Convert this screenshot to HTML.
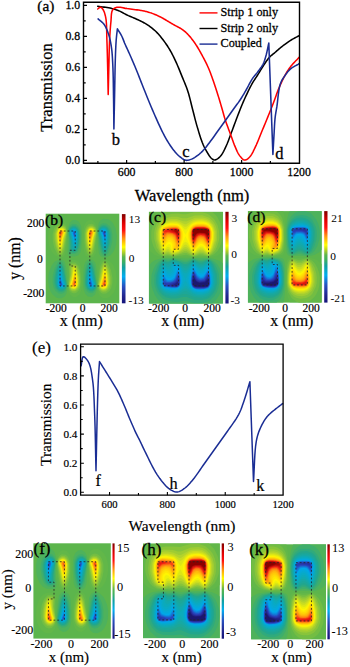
<!DOCTYPE html>
<html><head><meta charset="utf-8"><style>html,body{margin:0;padding:0;background:#fff;width:350px;height:667px;overflow:hidden}svg{display:block;font-family:"Liberation Serif",serif}</style></head><body>
<svg xmlns="http://www.w3.org/2000/svg" width="350" height="667" viewBox="0 0 350 667" font-family="Liberation Serif, serif"><style>text{stroke:#000;stroke-width:0.2px}.A text{stroke-width:0.28px}.E text{stroke-width:0.18px}.R2 text,text.R2{stroke-width:0.15px}.CB text{stroke-width:0.02px}.LB text{stroke-width:0.3px}</style>
<defs><linearGradient id="cb" x1="0" y1="1" x2="0" y2="0"><stop offset="0.00" stop-color="#14147a"/><stop offset="0.08" stop-color="#22258e"/><stop offset="0.19" stop-color="#2850c0"/><stop offset="0.30" stop-color="#00aef0"/><stop offset="0.40" stop-color="#12a0a0"/><stop offset="0.47" stop-color="#40b060"/><stop offset="0.52" stop-color="#5cb54c"/><stop offset="0.56" stop-color="#a0c830"/><stop offset="0.63" stop-color="#ffff00"/><stop offset="0.73" stop-color="#ff9010"/><stop offset="0.82" stop-color="#ff1010"/><stop offset="0.90" stop-color="#e00000"/><stop offset="1.00" stop-color="#800000"/></linearGradient></defs>
<g>
<rect x="45.70" y="213.70" width="73.60" height="89.60" fill="#5cb54c"/>
<path fill-rule="evenodd" fill="#62b749" d="M70.6 260.1 68.6 261.1 67.6 263.6 68.1 270.6 68.1 289.4 69.9 294.4 73.1 296.9 75.6 296.9 77.1 296.4 79.4 294.4 81.1 290.4 81.9 284.2 81.4 268.6 80.1 263.6 78.4 261.4 75.4 260.1ZM103.7 259.4 100.4 261.1 98.6 265.4 97.9 274.1 97.6 288.4 98.4 292.9 99.9 295.9 102.7 297.9 106.7 298.2 110.7 296.2 114.2 291.9 116.4 285.4 116.9 278.9 115.7 271.1 113.2 265.1 111.4 262.9 108.4 260.4 105.7 259.4ZM89.6 220.1 87.9 220.6 85.9 222.3 84.1 225.8 83.4 229.6 83.1 239.9 83.6 248.9 84.6 253.6 85.6 255.4 87.4 256.9 90.9 257.6 93.1 256.9 94.9 255.1 95.9 252.4 96.6 245.9 97.1 230.3 96.4 225.3 95.1 222.6 91.9 220.1ZM58.3 218.8 54.3 220.8 50.6 225.6 48.6 231.6 48.1 237.4 48.8 243.9 51.6 251.4 53.6 254.1 56.6 256.6 59.3 257.6 61.1 257.6 63.8 256.4 65.4 253.4 66.9 243.6 67.4 228.8 66.6 224.1 64.9 220.8 61.6 218.8Z"/>
<path fill-rule="evenodd" fill="#73bd43" d="M72.1 262.4 69.9 263.4 68.9 265.6 69.1 277.1 68.4 282.4 68.4 287.2 69.6 290.7 71.4 292.4 73.1 293.2 74.9 293.2 76.4 292.7 78.6 290.7 80.1 287.4 80.9 281.4 80.6 275.4 79.9 269.9 78.4 265.4 75.4 262.6ZM105.2 260.9 103.7 261.1 101.9 262.9 100.4 266.1 99.1 272.4 97.9 284.7 98.1 287.7 99.1 290.7 101.2 292.9 102.9 293.7 106.2 293.4 109.4 290.9 111.2 287.9 112.4 282.7 112.4 277.6 110.9 269.9 108.2 263.6ZM91.9 223.8 88.6 224.3 86.4 226.3 85.1 228.8 84.4 232.1 84.4 241.4 85.4 248.4 87.1 253.4 89.6 255.9 91.4 255.6 92.9 254.1 94.4 250.6 96.6 234.6 96.6 229.8 96.1 227.8 93.6 224.6ZM61.8 223.3 58.8 223.6 55.6 226.1 53.8 229.1 52.6 234.6 52.8 241.4 54.3 247.9 57.6 254.4 60.1 256.1 61.6 255.6 62.8 254.4 64.4 250.9 65.6 245.1 67.1 232.1 65.9 226.3 64.1 224.3Z"/>
<path fill-rule="evenodd" fill="#88c43b" d="M72.6 263.9 71.4 264.4 70.1 265.9 70.1 274.9 68.6 286.2 69.9 289.4 71.1 290.7 72.6 291.4 75.1 291.4 77.9 289.4 79.1 287.2 79.9 283.7 79.9 277.6 78.9 270.6 77.4 266.1 74.9 263.9ZM104.9 262.4 103.9 262.6 102.7 264.1 100.9 268.6 98.4 283.2 98.4 286.7 99.1 288.9 101.2 291.2 103.2 291.9 106.2 291.4 108.4 289.4 109.7 287.2 110.7 283.2 110.7 277.6 109.2 269.9 106.7 263.9ZM92.4 225.6 89.9 225.6 87.1 227.6 86.1 229.3 85.1 233.6 85.1 239.1 86.1 246.4 87.6 251.4 88.9 253.6 89.9 254.4 91.6 253.6 93.6 249.1 96.4 233.1 96.1 229.6 95.1 227.6ZM61.8 225.1 58.8 225.6 56.6 227.6 55.3 229.8 54.3 233.8 54.3 239.4 55.8 247.1 58.1 252.6 60.1 254.6 61.6 253.9 63.6 249.6 66.6 233.6 66.6 230.3 65.9 228.1 64.1 226.1Z"/>
<path fill-rule="evenodd" fill="#9ecc33" d="M72.9 264.9 71.1 266.6 70.9 274.6 68.9 285.2 69.4 287.4 71.1 289.7 72.6 290.4 74.9 290.4 76.4 289.7 78.4 286.9 79.1 283.9 79.1 277.6 77.1 267.6 75.6 265.4ZM104.9 263.9 103.9 264.1 103.2 265.1 101.7 269.1 98.6 284.2 99.4 288.2 100.6 289.7 102.7 290.7 105.7 290.4 107.9 288.4 109.7 283.2 109.7 278.4 108.7 272.1 106.7 265.9ZM92.4 226.6 90.1 226.6 88.6 227.3 86.6 230.1 85.9 233.1 85.9 239.4 86.9 245.9 88.6 251.4 89.9 252.9 91.4 252.1 92.9 248.6 95.9 233.8 95.6 229.6 93.9 227.3ZM62.3 226.3 59.3 226.6 57.1 228.6 55.3 233.8 55.3 238.6 56.3 244.9 57.8 249.9 60.1 253.1 61.6 252.1 63.3 247.6 66.4 232.6 65.9 229.3 64.4 227.3Z"/>
<path fill-rule="evenodd" fill="#b3d32c" d="M73.6 265.6 72.4 266.4 71.9 267.9 71.6 273.6 69.4 283.9 69.4 286.2 69.9 287.4 71.6 289.2 74.9 289.7 77.1 287.9 78.1 285.9 78.6 278.6 76.9 268.9 75.6 266.4ZM105.2 265.4 103.7 266.1 102.2 269.9 100.4 279.6 99.1 283.7 99.4 287.2 101.2 289.2 102.7 289.9 105.4 289.7 107.4 287.9 108.9 283.4 108.9 278.4 108.2 273.4 106.7 267.9ZM92.4 227.3 89.6 227.6 87.9 229.1 86.4 233.6 86.9 242.4 87.9 247.1 89.9 251.4 91.1 250.9 92.6 247.1 94.4 237.1 95.6 233.1 95.1 229.6ZM62.3 227.1 59.6 227.3 57.8 228.8 56.1 233.6 56.1 238.6 58.1 248.4 59.8 251.6 61.3 250.9 62.6 247.9 64.4 238.4 65.9 233.3 65.6 229.8 63.8 227.8Z"/>
<path fill-rule="evenodd" fill="#c8dc22" d="M104.9 266.6 103.9 267.1 102.9 269.4 100.9 279.6 99.4 284.2 99.9 287.2 101.4 288.7 103.4 289.4 104.9 289.2 106.9 287.7 108.4 282.9 107.4 272.9 106.4 269.1ZM73.6 266.6 72.9 267.6 71.6 277.1 69.6 285.7 71.4 288.4 74.4 289.2 75.6 288.7 77.6 285.9 78.1 283.9 78.1 278.6 76.1 268.6 74.6 266.6ZM91.9 227.8 89.9 228.1 88.1 229.6 86.9 233.3 87.4 242.1 88.6 247.6 89.9 249.9 90.9 249.6 92.1 246.6 93.9 237.1 95.4 232.3 94.6 229.6ZM61.6 227.6 60.1 227.8 58.1 229.3 56.6 234.1 57.6 244.1 58.8 248.4 60.3 250.4 61.3 249.4 62.3 246.6 63.8 238.4 65.6 232.8 65.1 229.8 63.6 228.3Z"/>
<path fill-rule="evenodd" fill="#dce616" d="M104.9 268.1 103.9 268.6 103.2 270.4 101.4 279.4 99.6 284.9 100.4 287.2 101.4 288.2 103.7 288.9 105.4 288.4 106.7 287.2 107.9 283.4 107.4 275.4 106.2 270.1ZM74.9 267.9 74.1 267.9 73.4 269.1 71.6 279.4 70.1 283.9 70.4 286.7 73.1 288.7 75.1 288.4 76.4 287.4 77.4 285.4 77.9 281.9 76.9 273.1ZM91.9 228.3 89.1 229.1 87.4 232.6 87.9 242.4 89.1 247.1 90.1 248.6 90.9 248.1 91.9 245.6 93.4 237.4 94.9 233.1 94.6 230.3ZM62.6 228.3 59.6 228.6 58.3 229.8 57.1 233.6 57.6 241.6 59.1 247.4 60.1 248.9 60.8 248.6 62.1 245.6 63.3 238.6 65.4 232.1 64.6 229.8Z"/>
<path fill-rule="evenodd" fill="#eff00a" d="M104.9 269.4 103.9 270.1 103.2 272.1 101.9 278.9 100.1 284.2 100.6 286.9 103.2 288.4 105.4 287.9 106.4 286.9 107.4 284.2 106.9 275.1 105.9 271.1ZM74.6 269.1 73.6 270.6 71.9 280.1 70.4 284.4 70.6 286.4 72.9 288.2 74.6 288.2 75.9 287.4 77.4 283.9 76.9 275.4 75.6 270.4ZM92.1 228.8 90.4 228.8 89.1 229.6 87.6 233.1 88.1 241.4 89.1 245.6 90.1 247.1 91.4 245.6 92.9 237.9 94.6 232.6 94.4 230.6ZM61.8 228.6 59.6 229.1 58.6 230.1 57.6 232.8 58.1 241.9 59.1 245.9 60.3 247.6 61.6 245.6 63.3 236.9 64.9 232.8 64.4 230.1Z"/>
<path fill-rule="evenodd" fill="#fff501" d="M74.9 270.9 74.4 270.9 73.6 272.6 72.4 279.6 70.6 284.9 71.1 286.4 73.6 287.9 75.9 286.9 77.1 283.4 76.6 276.1ZM104.7 270.6 103.4 272.9 101.7 281.4 100.4 284.4 100.9 286.7 102.9 287.9 105.2 287.7 106.2 286.7 107.2 283.9 106.7 275.9 105.9 272.6ZM91.4 229.1 89.1 230.1 87.9 233.6 88.1 239.1 89.9 245.6 90.6 245.6 91.1 244.6 92.9 236.4 94.1 233.1 93.9 230.6ZM62.1 229.1 59.8 229.3 58.8 230.3 57.8 233.1 58.3 241.1 60.1 246.1 61.1 245.4 63.1 236.4 64.6 232.6 64.1 230.3Z"/>
<path fill-rule="evenodd" fill="#ffe603" d="M74.9 272.4 74.1 272.9 72.4 280.9 71.1 284.2 71.4 286.2 73.1 287.4 74.6 287.4 75.9 286.4 76.9 283.2 76.4 276.9ZM104.9 272.1 103.9 272.9 102.2 280.9 100.9 283.9 101.2 286.4 103.2 287.7 104.9 287.4 106.2 286.2 106.9 283.7 106.4 276.6ZM91.9 229.6 90.4 229.6 89.1 230.6 88.1 233.8 88.6 240.1 90.1 244.4 91.4 242.4 92.4 236.9 93.9 232.8 93.6 230.8ZM61.8 229.3 60.1 229.6 58.8 230.8 58.1 233.6 58.6 240.4 60.1 244.9 61.3 243.4 62.8 236.1 64.1 233.1 63.8 230.6Z"/>
<path fill-rule="evenodd" fill="#ffd806" d="M74.9 273.9 73.9 275.1 72.9 280.4 71.4 284.7 71.6 285.9 73.4 287.2 74.4 287.2 75.9 285.9 76.6 283.2 76.1 277.4ZM104.9 273.4 103.9 274.4 101.2 284.4 101.4 286.2 102.7 287.2 105.2 286.9 106.7 283.4 106.4 278.4ZM91.6 229.8 90.6 229.8 89.1 231.1 88.4 233.8 88.6 238.1 89.9 242.9 90.9 242.4 93.6 232.3 93.4 231.1ZM62.3 229.8 59.8 230.1 58.3 233.6 58.8 239.9 60.3 243.6 61.3 241.9 62.3 236.6 63.8 232.6 63.6 230.8Z"/>
<path fill-rule="evenodd" fill="#ffc908" d="M74.9 275.1 74.1 275.9 71.9 283.9 71.9 285.7 73.9 286.9 75.6 285.9 76.4 283.2 76.1 279.1ZM104.7 274.6 103.4 277.4 101.4 284.9 101.7 285.9 102.9 286.9 104.9 286.7 105.9 285.4 106.4 283.4 106.2 278.9 105.4 275.6ZM91.1 230.1 89.4 231.1 88.6 233.8 88.9 237.9 90.1 241.6 90.9 240.9 93.1 233.1 93.1 231.3ZM62.1 230.1 60.1 230.3 59.1 231.6 58.6 233.6 58.8 238.1 59.6 241.4 60.3 242.4 63.6 232.1 63.1 230.8Z"/>
<path fill-rule="evenodd" fill="#ffb90b" d="M74.9 276.6 74.1 277.4 72.1 284.4 73.1 286.4 74.6 286.4 75.6 285.4 76.1 283.4 75.9 279.6ZM104.9 276.1 104.4 276.1 101.9 284.2 101.9 285.4 103.2 286.7 105.2 286.2 106.2 283.4 105.9 279.1ZM91.9 230.6 90.4 230.6 89.1 232.3 89.1 237.4 90.1 240.4 90.9 239.6 92.9 232.6ZM61.6 230.3 59.8 230.8 58.8 233.6 59.1 237.6 60.1 240.9 60.6 240.9 63.1 232.8 62.8 231.1Z"/>
<path fill-rule="evenodd" fill="#ffa30e" d="M74.9 277.9 74.1 278.9 72.6 283.9 72.6 285.4 73.4 286.2 75.1 285.7 75.9 283.4 75.6 279.9ZM104.9 277.4 104.4 277.4 102.2 284.4 102.4 285.7 103.7 286.4 105.4 285.4 105.9 283.7 105.7 279.6ZM91.4 230.8 89.9 231.3 89.1 233.6 89.4 236.9 90.1 238.9 90.9 238.1 92.4 233.1 92.4 231.6ZM61.3 230.6 59.6 231.6 59.1 233.3 59.3 237.4 60.1 239.6 60.8 239.1 62.8 232.3 62.6 231.3Z"/>
<path fill-rule="evenodd" fill="#ff8d12" d="M74.9 279.4 74.1 280.1 72.9 284.4 73.4 285.7 74.6 285.7 75.4 284.7 75.6 282.2ZM104.7 278.6 102.7 283.9 102.7 285.2 103.4 285.9 104.9 285.7 105.7 283.7 105.4 280.1ZM91.6 231.3 90.4 231.3 89.6 232.3 89.4 234.6 90.1 237.6 90.9 236.9 92.1 232.6ZM61.6 231.1 60.1 231.3 59.3 233.3 59.6 236.9 60.3 238.4 62.3 233.1 62.3 231.8Z"/>
<path fill-rule="evenodd" fill="#fd7114" d="M74.9 280.9 74.4 280.9 73.4 283.9 73.9 285.4 75.1 284.4ZM104.7 279.9 103.2 283.4 103.2 285.2 103.7 285.7 104.9 285.2 105.4 283.7ZM91.1 231.6 89.9 232.6 90.1 236.1 91.6 233.1ZM61.3 231.3 60.1 231.8 59.6 233.3 60.3 237.1 61.8 233.6 61.8 231.8Z"/>
<path fill-rule="evenodd" fill="#f64814" d="M74.6 282.4 73.9 283.7 74.1 284.7 74.9 283.9ZM104.7 281.4 103.4 284.2 103.9 285.2 104.9 284.4ZM90.9 232.3 90.1 233.1 90.4 234.6 91.1 233.1ZM61.1 231.8 60.1 232.6 60.3 235.6 61.6 232.8Z"/>
<path fill-rule="evenodd" fill="#f02014" d="M104.4 283.2 104.4 283.4 104.2 283.7 104.2 283.9 104.2 284.2 104.4 283.9 104.4 283.7 104.4 283.4ZM60.8 232.8 60.6 233.1 60.6 233.3 60.6 233.6 60.8 233.3 60.8 233.1Z"/>
<path fill-rule="evenodd" fill="#4eb25c" d="M89.6 259.4 87.4 260.1 85.6 261.6 84.1 265.1 83.4 271.4 83.1 283.7 83.6 289.2 85.4 293.9 87.9 296.4 91.9 296.9 95.1 294.4 96.9 289.4 96.6 271.1 95.9 264.6 95.1 262.4 93.1 260.1ZM59.3 259.4 54.8 261.6 51.6 265.6 48.8 273.1 48.1 280.4 49.1 287.4 50.6 291.4 52.6 294.4 56.3 297.4 58.3 298.2 61.6 298.2 64.9 296.2 66.6 292.9 67.4 288.2 67.1 276.1 66.4 269.1 64.9 262.1 63.1 260.1ZM75.6 220.1 73.1 220.1 71.6 220.8 69.9 222.6 68.1 227.6 67.6 253.1 68.4 255.4 70.6 256.6 74.4 256.6 78.1 255.4 80.4 252.4 81.4 248.1 81.9 232.8 81.1 226.6 79.4 222.6 77.9 221.1ZM103.4 218.8 101.2 219.8 99.9 221.1 98.6 223.3 97.9 226.3 97.6 236.1 98.1 247.4 99.1 253.6 100.4 255.9 102.2 257.1 105.7 257.6 110.2 255.4 113.2 251.9 114.7 248.9 116.2 243.9 116.9 236.1 115.7 228.6 112.7 222.8 110.7 220.8 108.2 219.3Z"/>
<path fill-rule="evenodd" fill="#3fae6c" d="M89.6 261.1 87.1 263.6 85.4 268.6 84.4 275.6 84.4 284.9 85.1 288.2 86.4 290.7 88.6 292.7 91.9 293.2 93.6 292.4 96.1 289.2 96.6 287.2 96.6 282.4 94.4 266.4 92.9 262.9 91.4 261.4ZM60.1 260.9 57.6 262.6 54.6 268.4 52.8 275.6 52.6 282.4 53.8 287.9 55.6 290.9 58.8 293.4 61.8 293.7 64.1 292.7 65.9 290.7 67.1 284.9 64.6 266.9 62.8 262.6 61.6 261.4ZM73.1 223.8 71.4 224.6 69.6 226.3 68.4 229.8 69.1 240.1 68.9 251.6 69.6 253.1 70.9 253.9 74.9 254.1 77.6 252.4 79.4 248.9 80.4 243.9 80.9 235.6 80.4 230.6 79.1 227.1 76.4 224.3ZM102.9 223.3 100.9 224.3 99.1 226.3 98.1 229.3 97.9 232.3 99.1 244.6 100.4 250.9 101.9 254.1 103.7 255.9 105.2 256.1 108.2 253.4 110.4 248.6 112.2 241.4 112.4 234.3 111.2 229.1 109.4 226.1 106.2 223.6Z"/>
<path fill-rule="evenodd" fill="#30aa7c" d="M89.9 262.6 88.9 263.4 87.6 265.6 86.1 270.6 85.1 277.9 85.1 283.4 85.6 286.2 87.1 289.4 89.9 291.4 92.4 291.4 95.1 289.4 96.1 287.4 96.4 283.9 93.6 267.9 91.6 263.4ZM60.1 262.4 58.1 264.4 55.8 269.9 54.3 277.6 54.3 283.2 55.3 287.2 56.6 289.4 58.8 291.4 61.8 291.9 64.1 290.9 65.9 288.9 66.6 286.7 66.6 283.4 63.8 268.1 61.3 262.9ZM72.6 225.6 69.9 227.6 68.9 229.6 68.6 233.3 70.1 242.6 69.9 250.6 71.1 252.1 74.1 252.9 77.1 250.9 78.6 247.4 79.9 239.4 79.9 233.3 79.1 229.8 77.9 227.6 75.1 225.6ZM103.2 225.1 101.2 225.8 99.1 228.1 98.4 230.3 98.4 233.8 100.9 248.4 102.7 252.9 103.9 254.4 104.9 254.6 106.7 253.1 109.2 247.1 110.7 239.4 110.7 233.8 109.7 229.8 108.4 227.6 106.2 225.6Z"/>
<path fill-rule="evenodd" fill="#22a68c" d="M89.9 264.1 88.6 265.6 86.9 271.1 85.9 277.6 85.9 283.9 87.6 288.7 90.1 290.4 92.4 290.4 93.9 289.7 95.6 287.4 95.9 283.2 92.9 268.4 91.4 264.9ZM60.1 263.9 57.8 267.1 56.3 272.1 55.3 278.4 55.3 283.2 57.1 288.4 59.3 290.4 62.3 290.7 64.4 289.7 65.9 287.7 66.4 284.4 62.8 267.6 61.6 264.9ZM72.6 226.6 70.1 228.3 68.9 231.8 70.9 242.6 70.9 250.1 72.1 251.4 73.9 251.9 76.4 250.4 77.9 246.9 79.1 239.4 79.1 233.1 77.4 228.3 74.9 226.6ZM102.7 226.3 100.6 227.3 99.4 228.8 98.6 232.8 101.7 247.9 103.2 251.9 104.9 253.1 106.7 251.1 108.7 244.9 109.7 238.6 109.7 233.8 107.9 228.6 105.7 226.6Z"/>
<path fill-rule="evenodd" fill="#1ca798" d="M89.9 265.6 88.6 267.6 86.9 274.6 86.4 283.4 87.9 287.9 89.6 289.4 92.4 289.7 95.1 287.4 95.6 283.9 94.4 279.9 92.6 269.9 91.1 266.1ZM59.8 265.4 58.1 268.6 56.1 278.4 56.1 283.4 57.8 288.2 59.6 289.7 62.3 289.9 63.8 289.2 65.6 287.2 65.9 283.7 62.6 269.1 61.3 266.1ZM72.6 227.3 69.9 229.6 69.4 233.1 71.4 241.6 71.6 249.1 72.6 250.6 74.6 250.9 76.4 249.1 77.6 245.1 78.6 238.4 78.6 233.3 77.1 229.1 74.9 227.3ZM102.7 227.1 101.2 227.8 99.4 229.8 99.1 233.3 100.4 237.4 102.2 247.1 103.7 250.9 105.2 251.6 106.7 249.1 108.2 243.6 108.9 238.6 108.9 233.6 107.4 229.1 105.4 227.3Z"/>
<path fill-rule="evenodd" fill="#17a8a3" d="M89.9 267.1 88.1 271.1 87.4 274.9 86.9 283.7 88.1 287.4 89.9 288.9 91.9 289.2 94.6 287.4 95.4 284.7 93.9 279.9 92.1 270.4 90.9 267.4ZM60.3 266.6 58.6 269.1 57.6 272.9 56.6 282.9 58.1 287.7 59.1 288.7 61.6 289.4 63.6 288.7 65.1 287.2 65.6 284.2 64.1 279.6 62.3 270.4 61.3 267.6ZM73.1 227.8 70.4 229.6 69.6 232.6 71.6 239.9 72.6 249.1 73.6 250.1 74.4 250.1 75.6 249.1 77.1 244.9 78.1 238.4 78.1 233.1 76.9 229.6 75.1 228.1ZM103.4 227.6 101.4 228.3 99.9 229.8 99.4 232.8 100.9 237.4 102.9 247.6 103.9 249.9 104.9 250.4 105.9 249.1 107.4 244.1 108.4 234.1 106.9 229.3 105.9 228.3Z"/>
<path fill-rule="evenodd" fill="#11a9af" d="M90.1 268.4 89.1 269.9 87.9 274.6 87.4 284.4 89.1 287.9 91.9 288.7 94.6 286.7 94.9 283.9 93.4 279.6 91.9 271.4 90.9 268.9ZM60.1 268.1 59.1 269.6 57.6 275.4 57.1 283.4 57.6 285.7 59.6 288.4 62.6 288.7 64.6 287.2 65.4 284.9 63.6 279.4 62.1 271.4 60.8 268.4ZM73.1 228.3 70.4 230.3 70.1 233.1 71.6 237.6 73.1 247.6 73.6 248.9 74.6 249.1 75.9 247.4 76.9 243.9 77.9 235.1 77.4 231.6 76.4 229.6 75.1 228.6ZM103.7 228.1 101.4 228.8 99.9 230.6 99.6 232.1 101.4 237.6 103.2 246.6 103.9 248.4 104.9 248.9 106.2 246.9 107.4 241.6 107.9 233.6 106.7 229.8 105.4 228.6Z"/>
<path fill-rule="evenodd" fill="#0caaba" d="M90.1 269.9 89.1 271.4 88.1 275.6 87.6 283.9 89.1 287.4 90.4 288.2 92.1 288.2 94.4 286.4 94.6 284.4 93.4 281.2 91.4 271.4ZM60.3 269.4 59.1 271.1 58.1 275.1 57.6 284.2 58.6 286.9 60.1 288.2 61.8 288.4 64.4 286.9 64.9 284.2 63.3 280.1 61.6 271.4ZM72.9 228.8 70.6 230.6 70.4 232.6 71.9 236.9 73.6 246.6 74.6 247.9 75.6 246.6 76.9 241.6 77.4 233.1 75.9 229.6 74.6 228.8ZM103.2 228.6 100.6 230.1 100.1 232.8 101.4 236.1 103.2 244.9 103.9 246.9 104.9 247.6 105.9 245.9 106.9 241.9 107.4 232.8 106.4 230.1 104.9 228.8Z"/>
<path fill-rule="evenodd" fill="#09aac4" d="M89.9 271.4 88.4 276.4 87.9 283.4 89.1 286.9 91.4 287.9 93.9 286.4 94.1 283.9 92.9 280.6 91.1 272.4 90.6 271.4ZM60.1 270.9 58.3 275.9 57.8 283.9 58.8 286.7 59.8 287.7 62.1 287.9 64.1 286.7 64.6 284.4 63.1 280.6 61.3 272.1 60.8 271.1ZM102.9 229.1 100.9 230.3 100.4 232.6 101.7 235.6 103.4 244.1 104.7 246.4 105.9 244.4 106.7 241.1 107.2 233.1 106.2 230.3 105.2 229.3ZM73.6 229.1 72.1 229.6 70.6 232.1 72.1 236.4 73.6 244.6 74.6 246.4 75.4 245.6 76.6 240.9 77.1 233.6 75.9 230.1Z"/>
<path fill-rule="evenodd" fill="#07a9ce" d="M90.1 272.6 88.6 276.9 88.1 283.2 89.1 286.4 90.4 287.4 91.9 287.4 93.6 286.2 93.9 284.2 92.4 280.1 91.4 274.6ZM60.1 272.1 58.6 276.6 58.1 283.4 58.8 286.2 60.1 287.4 61.8 287.7 63.8 286.4 64.1 283.9 62.8 280.9 61.3 273.6 60.6 272.1ZM73.1 229.6 71.4 230.8 71.1 232.8 72.4 236.1 73.9 243.6 74.4 244.6 74.9 244.6 76.4 240.1 76.9 233.8 75.9 230.6 74.6 229.6ZM103.2 229.3 101.2 230.6 100.9 233.1 102.2 236.1 103.9 244.1 104.9 244.9 106.4 240.4 106.9 233.3 106.2 230.8 104.9 229.6Z"/>
<path fill-rule="evenodd" fill="#05a9d7" d="M89.9 274.1 88.9 277.4 88.4 283.2 89.1 285.9 90.1 286.9 91.6 287.2 93.4 285.9 93.6 284.7 90.9 274.6ZM60.3 273.4 59.1 275.9 58.3 283.4 59.8 286.9 62.3 287.2 63.6 286.2 63.8 284.4 62.3 280.4 61.3 275.1ZM102.7 229.8 101.4 230.8 101.2 232.6 103.9 242.6 104.9 243.6 106.2 239.9 106.7 233.6 105.2 230.1ZM73.4 229.8 71.6 231.1 71.4 232.3 74.1 242.6 75.1 243.1 76.4 238.1 76.6 233.8 75.9 231.1 74.9 230.1Z"/>
<path fill-rule="evenodd" fill="#02a8e1" d="M90.1 275.4 89.1 277.9 88.6 283.2 89.4 285.9 91.1 286.9 93.1 285.7 93.1 283.9 90.9 276.1ZM60.3 274.6 59.3 276.4 58.6 283.4 59.3 285.9 60.6 286.9 62.1 286.9 63.1 286.2 63.6 284.9ZM102.9 230.1 101.7 231.1 101.4 232.1 104.7 242.4 105.7 240.6 106.4 233.6 105.7 231.1 104.4 230.1ZM73.9 230.1 71.9 231.3 71.9 233.1 74.1 241.1 74.9 241.9 76.1 237.9 76.4 233.8 75.6 231.1Z"/>
<path fill-rule="evenodd" fill="#00a8ea" d="M90.1 276.6 89.1 279.6 89.1 284.7 90.4 286.4 91.9 286.4 92.9 284.4 90.9 277.4ZM60.1 276.1 59.1 279.4 58.8 283.4 59.8 286.2 61.6 286.7 62.8 285.9 63.1 284.2 60.6 276.1ZM73.1 230.6 72.1 232.6 74.1 239.6 74.9 240.4 75.9 237.4 76.1 233.6 75.6 231.6 74.6 230.6ZM103.2 230.3 102.2 231.1 101.9 232.8 104.4 240.9 104.9 240.9 105.9 237.9 106.2 233.6 105.2 230.8Z"/>
<path fill-rule="evenodd" fill="#0993e3" d="M90.1 278.1 89.4 280.1 89.1 283.4 89.9 285.7 91.4 286.2 92.4 285.4 92.4 283.9 90.9 278.9ZM60.1 277.4 59.3 279.6 59.1 283.7 59.6 285.4 61.3 286.4 62.6 285.7 62.8 284.7 60.8 277.9ZM73.4 230.8 72.6 231.6 72.6 233.1 74.1 238.1 74.9 239.1 75.6 237.1 75.9 233.6 75.1 231.3ZM103.7 230.6 102.4 231.3 102.2 232.6 104.4 239.6 104.9 239.6 105.7 237.4 105.9 233.3 105.4 231.6Z"/>
<path fill-rule="evenodd" fill="#137ad7" d="M90.1 279.4 89.4 282.4 89.6 284.7 90.4 285.7 91.6 285.7 92.1 284.4 90.9 280.1ZM60.3 278.6 59.6 280.1 59.3 283.7 60.1 285.7 61.6 285.9 62.3 285.2 62.3 283.9ZM73.4 231.3 72.9 232.6 74.1 236.9 74.9 237.6 75.6 234.8 75.4 232.3 74.6 231.3ZM103.4 231.1 102.7 231.8 102.7 233.1 104.7 238.4 105.4 236.9 105.7 233.3 104.9 231.3Z"/>
<path fill-rule="evenodd" fill="#1e60cb" d="M90.1 280.9 89.9 284.4 91.1 285.4 91.6 283.9ZM60.3 279.9 59.6 283.7 60.1 285.2 61.3 285.7 61.8 285.2 61.8 283.4ZM73.9 231.6 73.4 233.1 74.1 235.6 74.9 236.1 75.1 232.6ZM103.7 231.3 103.2 231.8 103.2 233.6 104.7 237.1 105.4 233.3 104.9 231.8Z"/>
<path fill-rule="evenodd" fill="#2847bf" d="M90.4 282.4 90.1 283.9 90.9 284.7 91.1 283.9ZM60.3 281.4 60.1 284.4 61.1 285.2 61.6 284.2ZM74.1 232.3 73.9 233.3 74.6 234.6 74.9 233.1ZM103.9 231.8 103.4 232.8 104.7 235.6 104.9 232.6Z"/>
<path fill-rule="evenodd" fill="#283cb0" d="M60.6 283.4 60.6 283.7 60.6 283.9 60.8 284.2 60.8 283.9 60.8 283.7ZM104.2 232.8 104.2 233.1 104.2 233.3 104.4 233.6 104.4 233.8 104.4 233.6 104.4 233.3 104.4 233.1Z"/>
<path d="M60.00 231.02 L75.22 231.02 L75.22 250.28 L69.92 250.28 L69.92 266.02 L75.22 266.02 L75.22 285.98 L60.00 285.98 Z M89.78 231.02 L105.00 231.02 L105.00 285.98 L89.78 285.98 Z" fill="none" stroke="#262626" stroke-width="0.85" stroke-dasharray="1.8 2"/>
<rect x="121.90" y="214.10" width="3.60" height="89.20" fill="url(#cb)"/>
</g>
<g>
<rect x="148.90" y="211.80" width="74.00" height="91.70" fill="#5cb54c"/>
<path fill-rule="evenodd" fill="#62b749" d="M149.0 211.9 149.0 250.2 153.8 254.4 157.8 256.2 162.5 257.2 175.8 257.2 180.3 256.7 210.3 257.2 217.5 255.4 222.8 251.9 222.8 211.9Z"/>
<path fill-rule="evenodd" fill="#73bd43" d="M153.5 222.7 151.3 231.2 151.3 238.4 151.8 241.4 153.5 246.7 156.0 251.2 159.0 254.2 162.5 256.2 167.8 255.7 173.0 256.7 186.0 254.7 193.3 256.7 200.0 255.4 209.5 256.4 214.0 254.2 217.5 250.9 219.8 246.9 221.8 241.4 222.5 233.4 221.0 224.4 217.5 217.2 215.5 214.7 212.3 211.9 162.5 211.9 157.3 216.7Z"/>
<path fill-rule="evenodd" fill="#88c43b" d="M214.3 219.2 209.3 214.7 206.8 213.4 202.0 212.2 194.5 212.2 186.0 214.2 182.3 214.2 178.3 213.4 171.8 213.7 165.8 215.2 162.5 216.9 158.5 220.9 156.3 224.7 155.0 228.2 154.3 232.2 154.3 238.7 156.5 247.2 160.0 252.9 163.5 255.4 166.3 254.7 169.0 254.7 172.3 255.9 173.8 255.9 184.3 252.9 186.5 252.9 192.8 255.9 194.5 255.9 199.3 254.2 202.8 254.2 207.5 255.9 209.3 255.7 212.3 253.7 215.3 250.2 217.0 246.7 218.8 241.2 219.3 237.4 219.0 230.7 217.5 224.9Z"/>
<path fill-rule="evenodd" fill="#9ecc33" d="M214.5 223.4 212.5 220.7 208.8 217.4 202.0 215.2 194.8 215.4 186.8 218.2 182.8 218.2 177.0 216.7 171.8 216.7 166.3 217.9 162.5 219.9 159.5 223.2 157.5 226.7 156.5 229.9 156.0 233.4 156.3 239.7 158.8 248.4 161.3 252.7 163.3 254.4 168.0 253.2 171.5 254.9 173.8 255.2 179.0 253.7 184.3 251.2 186.5 251.2 192.8 255.2 195.3 254.9 200.0 252.7 203.0 252.9 207.5 255.2 208.8 255.2 211.3 253.2 213.5 250.2 215.3 246.4 217.0 240.2 217.0 230.7 216.0 226.7Z"/>
<path fill-rule="evenodd" fill="#b3d32c" d="M213.5 224.7 209.3 219.9 206.5 218.4 202.8 217.4 195.0 217.7 186.3 221.4 183.0 221.2 176.8 218.9 170.5 218.9 165.8 220.2 163.0 221.7 160.3 224.7 157.8 230.4 157.3 234.2 157.5 239.2 160.0 248.4 162.0 252.2 163.5 253.4 167.0 251.9 168.5 251.9 172.3 254.4 174.0 254.4 178.5 252.9 184.0 249.4 186.3 249.2 188.8 250.7 193.0 254.4 194.5 254.4 199.8 251.4 203.3 251.7 207.0 254.2 208.5 254.4 209.8 253.7 212.3 250.2 215.5 240.9 216.0 236.9 215.8 231.4Z"/>
<path fill-rule="evenodd" fill="#c8dc22" d="M213.5 227.2 211.8 224.2 209.0 221.4 206.3 219.9 202.0 218.9 195.0 219.4 191.0 221.2 186.3 224.2 184.5 224.2 179.3 221.4 174.8 220.4 169.5 220.7 166.0 221.7 163.3 223.2 161.3 225.2 159.3 228.7 158.5 231.7 158.3 235.9 158.8 240.7 161.0 248.7 163.3 252.2 164.5 252.2 167.3 250.4 168.3 250.4 172.0 253.4 174.0 253.7 179.0 251.9 184.0 247.4 186.0 246.9 187.8 247.9 193.0 253.7 194.5 253.7 197.5 251.2 200.3 249.9 203.3 250.4 208.3 253.7 210.3 251.9 212.3 248.2 214.5 240.7 214.8 231.9Z"/>
<path fill-rule="evenodd" fill="#dce616" d="M212.8 227.7 210.8 224.4 208.3 222.2 204.5 220.7 201.3 220.2 197.0 220.4 192.8 221.7 186.3 226.7 184.5 226.7 179.3 222.9 176.3 221.9 172.0 221.7 166.0 222.9 163.3 224.4 161.5 226.2 160.0 228.9 159.3 231.9 159.5 240.2 161.8 248.7 163.5 251.2 165.0 250.7 166.5 249.2 168.5 248.7 171.8 252.4 174.0 252.9 179.0 251.2 184.3 244.9 186.0 244.4 188.5 246.7 193.0 252.9 194.8 252.7 197.3 250.2 200.3 248.4 202.5 248.7 207.0 252.4 208.8 252.7 211.8 247.4 213.8 239.9 214.0 232.7Z"/>
<path fill-rule="evenodd" fill="#eff00a" d="M212.0 227.7 208.5 223.4 206.0 222.2 202.8 221.4 197.8 221.4 193.8 222.4 191.0 224.2 186.0 229.4 184.8 229.4 181.0 225.4 177.8 223.4 170.3 222.9 165.5 224.2 161.8 226.9 160.0 231.4 160.0 238.9 162.8 249.2 164.0 249.9 167.3 246.9 169.0 246.7 172.8 252.2 178.3 250.9 180.0 249.4 183.8 242.7 185.8 241.7 187.8 243.2 191.5 250.2 193.3 252.2 194.3 252.2 197.8 248.4 200.3 246.9 203.0 247.4 207.3 251.7 208.5 251.9 210.5 248.9 213.0 240.2 213.3 232.2Z"/>
<path fill-rule="evenodd" fill="#fff501" d="M211.8 228.7 210.0 225.7 206.3 223.2 203.3 222.4 196.0 222.7 192.8 223.9 190.3 226.2 185.5 234.7 181.8 227.7 178.5 224.7 176.0 223.9 172.0 223.7 165.8 224.9 162.3 227.2 160.5 231.4 160.5 238.2 162.8 247.7 164.3 248.4 167.8 244.4 169.8 244.2 171.0 245.7 171.5 249.2 172.5 251.2 174.0 251.4 178.0 250.4 180.0 248.4 185.5 236.2 193.0 251.2 194.5 251.2 196.8 248.2 200.3 245.4 203.0 245.9 206.3 249.7 208.3 251.2 210.5 247.4 212.5 239.2 212.8 233.2Z"/>
<path fill-rule="evenodd" fill="#ffe603" d="M167.3 225.2 163.3 226.9 161.3 230.2 160.8 233.9 161.0 238.2 162.8 245.9 163.8 247.2 167.8 242.2 169.8 241.7 171.0 242.2 172.3 243.9 172.3 249.2 172.8 250.2 174.3 250.7 177.8 249.9 179.3 248.7 180.3 246.7 182.8 238.9 183.0 232.9 182.0 229.7 179.8 226.4 177.0 224.9 172.5 224.4ZM193.0 224.7 191.0 226.4 189.5 228.7 188.0 233.7 188.0 236.9 188.8 240.4 192.5 249.7 193.3 250.4 194.3 250.4 198.8 244.7 200.0 243.9 202.0 243.9 203.0 244.4 205.0 246.4 206.5 248.9 208.3 250.2 210.0 247.4 212.0 238.9 212.3 233.2 210.8 227.7 208.3 224.9 204.5 223.4 197.8 223.2Z"/>
<path fill-rule="evenodd" fill="#ffd806" d="M163.8 227.2 161.8 229.9 161.3 232.4 161.8 240.2 163.3 245.2 164.5 245.2 165.8 242.7 168.3 239.9 170.3 239.7 171.0 239.9 173.5 242.9 173.8 245.7 173.0 247.9 173.3 249.2 173.8 249.7 176.8 249.7 178.0 249.2 180.0 245.9 182.3 236.4 182.0 232.2 180.5 228.2 178.0 225.9 175.0 225.2 169.5 225.4ZM193.0 225.4 190.5 228.2 189.0 232.7 189.5 240.2 192.8 248.9 193.5 249.7 194.3 249.4 198.8 243.2 200.0 242.4 202.0 242.4 204.8 244.7 206.8 248.2 208.3 249.2 210.0 245.9 211.8 236.9 211.8 232.4 210.3 227.7 208.0 225.4 203.3 223.9 197.5 223.9Z"/>
<path fill-rule="evenodd" fill="#ffc908" d="M164.3 227.4 162.8 228.7 161.8 231.2 161.8 237.2 163.3 243.4 163.8 243.9 164.5 243.4 166.5 239.7 168.0 238.2 171.3 238.2 173.0 239.7 174.8 242.9 175.0 245.4 174.3 248.2 175.3 248.9 177.8 248.7 179.5 245.9 181.3 239.2 181.5 232.7 180.3 228.7 178.3 226.7 176.0 225.9 170.3 225.9ZM192.5 226.4 191.3 227.9 190.0 230.9 189.5 235.7 190.5 241.7 192.8 247.9 194.0 248.7 197.3 243.4 199.0 241.7 202.0 241.2 204.5 242.9 207.3 247.7 208.3 248.2 210.0 244.4 211.3 237.9 211.3 231.7 209.8 227.7 206.3 225.2 202.0 224.4 195.5 224.9Z"/>
<path fill-rule="evenodd" fill="#ffb90b" d="M163.5 228.4 162.0 231.7 162.3 237.9 163.5 242.2 164.8 241.4 166.3 238.2 167.8 236.7 171.3 236.7 172.3 237.2 174.5 239.9 175.8 243.4 176.3 247.7 177.8 247.7 179.3 245.2 181.0 236.9 181.0 232.4 179.8 228.7 178.3 227.2 176.0 226.4 169.0 226.7 166.3 227.2ZM193.3 226.4 191.8 227.9 190.3 231.9 190.5 239.4 193.0 247.2 193.5 247.7 194.3 247.4 196.8 242.7 199.3 240.2 200.8 239.7 203.3 240.4 205.3 242.7 207.0 246.2 208.3 246.9 209.5 244.7 211.0 236.7 210.8 230.9 209.5 227.9 206.8 225.9 203.8 225.2 197.0 225.2Z"/>
<path fill-rule="evenodd" fill="#ffa30e" d="M163.5 228.9 162.3 232.4 162.5 236.9 163.5 240.4 164.3 240.4 165.5 237.7 167.3 235.7 168.3 235.2 171.8 235.7 174.3 237.7 176.8 245.2 177.8 246.4 179.3 243.4 180.5 237.4 180.5 231.9 179.3 228.7 178.3 227.7 176.3 226.9 170.8 226.9 165.3 227.9ZM193.3 226.9 191.3 229.7 190.5 233.2 191.0 239.7 193.3 246.4 194.3 246.4 197.8 240.2 200.8 238.4 203.0 238.9 205.8 242.2 207.3 245.4 208.3 245.9 210.0 241.2 210.8 235.2 210.5 231.2 209.5 228.4 207.0 226.4 203.8 225.7 197.0 225.7Z"/>
<path fill-rule="evenodd" fill="#ff8d12" d="M163.8 229.2 162.8 231.2 162.8 235.7 163.5 238.4 164.0 238.7 165.8 235.7 167.3 234.4 169.8 234.2 172.5 234.9 174.8 236.9 177.3 243.9 178.0 244.4 179.3 241.9 180.3 235.7 180.3 232.7 179.3 229.2 177.5 227.7 175.0 227.2 167.3 227.9ZM208.0 227.4 204.3 226.2 200.0 225.9 195.5 226.4 192.5 228.2 191.0 231.9 191.0 236.9 192.0 242.2 193.5 245.4 194.5 244.9 197.5 239.2 200.0 237.4 202.3 237.4 204.0 238.4 207.8 244.7 208.5 244.4 210.0 239.4 210.3 231.2 209.3 228.7Z"/>
<path fill-rule="evenodd" fill="#fd7114" d="M163.5 230.2 163.0 234.2 163.8 236.7 167.3 233.4 172.3 233.9 175.0 235.9 177.5 242.4 178.0 242.7 178.5 242.2 179.8 236.9 179.8 231.4 179.0 229.4 178.0 228.4 175.8 227.7 172.0 227.7 165.8 228.7ZM193.5 227.7 191.8 230.2 191.3 232.7 191.5 237.9 193.0 243.7 193.8 244.4 194.3 244.2 197.3 238.2 200.0 236.4 203.5 236.9 205.3 238.7 207.3 242.9 208.3 243.4 209.3 241.4 210.0 237.2 210.0 231.2 209.0 228.7 206.8 227.2 202.5 226.4 196.0 226.7Z"/>
<path fill-rule="evenodd" fill="#f64814" d="M164.0 230.2 163.5 231.2 163.5 233.7 164.0 234.7 166.8 232.7 170.0 232.7 173.0 233.4 175.5 235.4 177.5 240.7 178.0 241.2 178.5 240.7 179.5 235.9 179.5 231.7 178.8 229.7 177.8 228.7 176.5 228.2 171.5 228.2 165.8 229.2ZM192.5 229.2 191.8 231.2 191.5 234.4 192.3 240.2 193.5 243.2 194.8 242.2 196.8 237.7 198.3 236.2 200.8 235.4 204.0 236.2 205.5 237.9 207.5 242.2 208.0 242.4 208.5 241.9 209.8 236.7 209.8 231.2 209.0 229.2 208.0 228.2 203.8 226.9 197.0 226.9 194.8 227.4Z"/>
<path fill-rule="evenodd" fill="#f02014" d="M164.3 230.9 164.3 232.4 168.3 231.7 174.5 233.4 176.0 234.9 177.5 238.9 178.3 239.2 179.0 236.7 179.3 232.2 178.8 230.2 177.5 228.9 175.8 228.4 171.3 228.7 166.3 229.7ZM193.0 228.9 192.0 231.4 192.0 236.7 192.8 240.7 193.8 242.2 196.5 236.9 198.0 235.4 200.5 234.7 204.3 235.4 205.5 236.7 207.5 240.9 208.0 241.2 208.5 240.7 209.5 236.4 209.5 231.2 208.3 228.7 205.0 227.4 198.5 227.2 195.0 227.7Z"/>
<path fill-rule="evenodd" fill="#d8170f" d="M168.3 230.4 175.0 232.9 176.3 234.2 177.5 237.2 178.3 237.2 178.8 235.7 178.8 231.2 177.8 229.4 176.5 228.9 172.8 228.9ZM193.0 229.4 192.3 231.4 192.3 236.4 192.8 239.2 193.8 240.9 196.3 236.2 199.3 234.2 203.0 234.2 204.8 234.9 205.8 235.9 207.5 239.7 208.3 239.7 209.3 236.2 209.3 231.2 207.8 228.7 204.0 227.7 196.5 227.7 194.5 228.2Z"/>
<path fill-rule="evenodd" fill="#bf0f0a" d="M171.0 230.4 175.5 232.4 177.5 235.4 178.3 235.2 178.5 231.4 177.8 229.9 176.8 229.4 173.0 229.4ZM193.3 229.4 192.5 231.2 192.5 235.9 193.8 239.7 197.0 234.4 200.3 233.4 203.8 233.7 205.3 234.4 207.8 238.4 208.3 238.2 209.0 235.7 209.0 231.2 208.3 229.4 207.3 228.7 202.8 227.9 197.5 227.9 194.8 228.4Z"/>
<path fill-rule="evenodd" fill="#a50805" d="M173.8 230.4 177.8 233.7 178.0 231.2 177.5 230.4 176.5 229.9ZM193.0 230.4 192.8 235.4 193.5 238.2 194.5 237.7 195.8 234.9 197.0 233.7 199.8 232.9 204.3 233.2 206.5 234.9 207.5 236.9 208.5 236.2 208.8 231.2 208.3 229.9 207.0 228.9 204.8 228.4 196.0 228.4 194.0 229.2Z"/>
<path fill-rule="evenodd" fill="#8c0000" d="M193.0 231.4 193.0 234.7 193.8 236.9 196.8 233.2 199.3 232.4 205.3 232.9 207.8 235.7 208.5 234.2 208.3 230.4 205.8 228.9 195.3 228.9 193.5 230.2Z"/>
<path fill-rule="evenodd" fill="#4eb25c" d="M149.3 264.9 149.0 303.4 222.8 303.4 222.8 263.4 220.0 261.1 214.5 258.9 210.3 258.1 191.0 258.1 188.0 258.6 162.8 258.1 155.3 260.1 152.0 262.1Z"/>
<path fill-rule="evenodd" fill="#3fae6c" d="M155.5 264.9 153.3 269.4 151.5 275.1 151.3 283.9 151.8 287.1 154.8 295.1 157.5 298.9 162.5 303.4 212.3 303.4 216.8 299.1 219.8 294.1 222.3 285.1 222.5 279.6 221.8 273.9 219.8 268.4 217.5 264.4 215.0 261.9 211.0 259.4 206.5 258.9 204.0 259.6 200.0 259.9 193.0 258.6 187.3 260.4 183.5 260.4 173.8 258.6 168.5 259.6 162.8 259.1 158.8 261.4Z"/>
<path fill-rule="evenodd" fill="#30aa7c" d="M158.0 265.1 156.3 268.9 154.5 275.1 154.3 283.1 154.8 286.1 156.3 290.6 158.8 294.6 162.5 298.4 165.8 300.1 171.8 301.6 178.0 301.9 182.3 301.1 186.0 301.1 194.5 303.1 202.0 303.1 206.8 301.9 210.3 299.9 214.3 296.1 217.0 291.6 218.3 288.1 219.3 282.6 218.8 274.1 217.0 268.6 215.3 265.1 212.3 261.6 209.3 259.6 207.5 259.4 202.8 261.1 199.3 261.1 194.5 259.4 192.8 259.4 188.5 261.6 185.8 262.4 174.0 259.4 172.3 259.4 168.3 260.9 163.8 259.9 161.3 261.1Z"/>
<path fill-rule="evenodd" fill="#22a68c" d="M159.3 265.9 156.3 275.6 156.0 281.9 156.5 285.4 157.8 289.1 159.5 292.1 162.3 295.1 166.3 297.4 171.8 298.6 176.8 298.6 182.8 297.1 186.8 297.1 194.8 299.9 202.0 300.1 206.8 298.9 209.5 297.4 212.5 294.6 215.5 289.9 217.3 282.9 216.8 273.9 213.5 265.1 211.3 262.1 208.8 260.1 207.5 260.1 202.0 262.6 199.0 262.4 195.3 260.4 192.8 260.1 188.3 263.4 186.3 264.1 183.8 263.9 179.0 261.4 174.3 260.1 172.3 260.1 168.5 262.1 166.8 262.1 163.5 260.9 161.5 262.4Z"/>
<path fill-rule="evenodd" fill="#1ca798" d="M161.5 263.9 160.0 266.9 158.0 273.4 157.3 279.4 157.5 283.6 158.5 287.4 160.3 290.6 162.8 293.4 165.3 294.9 170.5 296.4 176.5 296.4 183.0 294.1 186.3 293.9 195.0 297.6 202.8 297.9 206.5 296.9 209.3 295.4 212.5 292.1 214.3 289.1 216.0 281.4 215.5 274.4 212.3 265.1 209.8 261.6 208.5 260.9 207.0 261.1 202.5 263.9 199.8 263.9 194.5 260.9 192.8 260.9 187.8 265.4 186.0 266.1 183.8 265.6 178.8 262.1 174.3 260.9 172.3 260.9 168.3 263.6 166.5 263.4 164.5 262.1 163.0 262.1Z"/>
<path fill-rule="evenodd" fill="#17a8a3" d="M162.3 264.1 160.8 267.4 158.8 274.6 158.3 279.9 158.5 283.6 160.5 289.1 163.3 292.1 166.0 293.6 171.5 294.9 176.8 294.6 179.3 293.9 183.8 291.4 186.3 291.1 193.5 295.4 198.0 296.4 202.0 296.4 206.3 295.4 209.0 293.9 211.8 291.1 213.5 288.1 214.8 283.4 214.5 274.6 212.3 267.1 210.3 263.4 208.5 261.6 206.8 262.1 204.5 264.1 201.8 265.4 199.5 265.1 194.5 261.6 193.0 261.6 188.0 267.1 185.8 268.4 183.8 267.6 179.5 263.4 174.3 261.6 172.0 261.9 168.3 265.1 164.3 263.1 163.3 263.1Z"/>
<path fill-rule="evenodd" fill="#11a9af" d="M162.0 266.1 159.5 275.1 159.3 283.1 160.0 286.4 161.5 289.1 163.3 290.9 166.0 292.4 172.0 293.6 176.0 293.4 179.3 292.4 184.5 288.6 186.3 288.6 192.8 293.6 197.0 294.9 201.3 295.1 204.5 294.6 208.3 293.1 210.8 290.9 212.8 287.6 214.0 282.6 213.8 275.4 211.8 267.9 208.8 262.6 207.0 262.9 203.5 266.1 200.5 266.9 198.3 265.9 194.8 262.6 193.0 262.4 188.5 268.6 186.0 270.9 184.0 270.1 179.0 263.9 174.3 262.4 172.5 262.4 168.8 266.9 167.0 266.6 164.0 264.1 163.3 264.4Z"/>
<path fill-rule="evenodd" fill="#0caaba" d="M162.5 266.6 160.3 274.9 159.8 279.4 160.0 283.9 161.8 288.4 165.5 291.1 170.3 292.4 177.8 291.9 181.0 289.9 185.5 285.6 186.3 285.9 191.0 291.1 193.8 292.9 197.8 293.9 202.8 293.9 206.0 293.1 208.5 291.9 212.0 287.6 213.3 283.1 213.0 275.1 210.5 266.4 208.5 263.4 207.3 263.6 203.0 267.9 200.3 268.4 197.8 266.9 194.3 263.1 193.3 263.1 191.8 264.6 187.8 272.1 185.8 273.6 183.8 272.6 180.0 265.6 177.0 263.6 172.8 263.1 171.5 264.6 170.5 267.9 169.3 269.1 167.5 268.9 163.8 265.4Z"/>
<path fill-rule="evenodd" fill="#09aac4" d="M162.5 268.4 160.5 277.1 160.5 283.6 161.3 286.4 162.5 288.4 165.8 290.4 172.0 291.6 176.0 291.4 178.5 290.6 181.8 287.6 185.5 280.4 190.3 289.1 192.8 291.4 196.0 292.6 203.3 292.9 206.3 292.1 209.0 290.6 211.8 286.6 212.8 282.1 212.5 276.1 210.5 267.9 208.3 264.1 202.0 269.9 199.5 269.6 196.8 267.1 194.5 264.1 193.0 264.1 190.5 268.4 185.5 279.4 179.5 265.9 177.5 264.4 175.0 263.9 172.8 264.1 172.0 265.6 171.5 270.1 170.0 271.6 168.0 271.4 164.3 266.9 163.5 266.9Z"/>
<path fill-rule="evenodd" fill="#07a9ce" d="M193.3 264.9 191.3 268.1 188.3 276.9 188.0 281.6 189.5 286.6 192.0 289.9 196.3 291.9 203.0 292.1 208.3 290.4 209.5 289.4 211.3 286.6 212.3 282.1 211.8 274.6 209.3 266.1 207.8 265.1 203.0 270.9 200.0 271.4 197.3 269.1 194.3 264.9ZM178.0 265.1 176.0 264.6 173.3 264.9 172.8 265.9 173.3 269.4 172.8 271.6 171.5 273.1 170.0 273.9 167.5 273.1 164.3 268.4 163.0 268.9 161.3 275.4 161.0 283.9 162.0 286.9 164.0 288.9 170.0 290.6 176.0 290.6 178.8 289.6 181.5 286.6 183.0 282.1 183.0 277.6 180.0 267.9Z"/>
<path fill-rule="evenodd" fill="#05a9d7" d="M193.5 265.6 192.5 266.6 191.3 269.6 189.0 277.6 189.0 282.6 190.5 287.1 193.0 289.9 197.5 291.4 203.3 291.4 208.0 289.9 210.3 287.6 211.8 282.9 211.3 274.6 209.0 266.9 207.8 266.1 203.0 272.4 200.0 272.9 197.8 271.1 195.0 266.6ZM178.0 265.9 176.8 265.4 174.0 265.9 174.5 269.1 174.0 272.1 172.8 274.1 170.3 275.9 168.0 275.4 164.0 269.9 163.3 270.1 161.8 275.1 161.3 282.9 161.8 285.4 163.8 288.1 168.3 289.6 175.0 290.1 178.0 289.4 180.5 287.1 182.0 283.1 182.0 276.9 179.8 268.6Z"/>
<path fill-rule="evenodd" fill="#02a8e1" d="M193.5 266.6 191.8 269.6 189.8 277.1 189.8 283.4 191.3 287.4 192.5 288.9 194.8 290.1 198.5 290.9 204.3 290.6 208.3 289.1 210.3 286.9 211.3 283.6 211.0 275.6 208.8 267.6 208.3 267.1 207.3 267.6 203.5 273.4 202.0 274.1 200.0 274.1 197.3 271.9 194.8 267.4ZM178.0 266.6 175.8 266.6 175.0 272.4 173.3 275.6 171.0 277.4 169.0 277.6 167.5 276.9 164.5 271.9 163.8 271.4 163.3 271.9 161.8 278.1 161.8 284.1 163.5 287.4 168.8 289.1 176.0 289.4 178.3 288.6 180.3 286.6 181.5 282.6 181.5 278.1 179.5 269.4Z"/>
<path fill-rule="evenodd" fill="#00a8ea" d="M193.5 267.6 192.3 269.6 190.3 277.4 190.3 283.4 191.8 287.4 193.3 288.9 197.0 290.1 203.8 290.1 208.3 288.6 210.3 286.1 211.0 282.9 210.5 274.9 208.5 268.4 207.0 269.1 205.3 272.6 203.3 274.9 200.8 275.6 199.3 275.1 196.8 272.6 195.0 268.9ZM177.8 267.6 176.8 268.1 176.0 271.9 174.5 275.6 173.5 277.1 171.5 278.6 167.8 278.6 165.8 276.4 164.0 273.1 163.3 273.6 162.3 277.4 162.0 283.6 163.5 286.9 166.3 288.1 169.0 288.6 176.0 288.9 178.3 288.1 179.8 286.6 181.0 282.6 181.0 278.4 179.5 271.1Z"/>
<path fill-rule="evenodd" fill="#0993e3" d="M178.0 269.4 177.0 270.4 174.5 277.4 172.0 279.6 170.5 280.1 167.5 279.9 166.3 278.9 164.0 274.9 163.3 275.4 162.3 282.9 163.5 286.4 165.3 287.4 170.8 288.4 176.3 288.4 178.3 287.6 179.3 286.6 180.5 283.4 180.5 278.1 179.8 273.6ZM193.3 268.9 191.5 273.4 190.5 279.6 190.8 283.9 192.3 287.4 194.8 289.1 197.0 289.6 203.8 289.6 208.0 288.4 210.0 285.9 210.8 282.4 210.3 275.4 208.5 269.6 207.8 269.4 205.8 273.1 203.0 276.4 200.8 276.9 197.8 275.1 194.3 268.9Z"/>
<path fill-rule="evenodd" fill="#137ad7" d="M178.0 271.1 177.3 271.9 175.0 278.1 173.5 279.9 172.0 280.6 167.8 281.1 165.5 279.4 164.3 276.9 163.5 277.1 162.8 279.9 162.8 284.1 164.5 286.6 174.8 288.1 177.3 287.6 179.3 286.1 180.0 284.1 180.3 279.9 179.3 273.6ZM193.5 269.9 192.0 273.1 191.0 278.4 191.0 283.4 192.5 287.1 195.5 288.9 200.0 289.4 204.3 289.1 208.0 287.9 209.3 286.6 210.3 284.1 210.0 275.9 208.5 270.9 207.8 270.6 204.0 276.9 202.3 277.9 200.0 277.9 197.5 276.1 194.5 270.4Z"/>
<path fill-rule="evenodd" fill="#1e60cb" d="M178.3 272.9 177.8 272.9 175.3 279.1 173.0 281.1 170.5 281.9 167.0 281.9 164.0 278.6 163.0 281.4 163.5 285.1 165.8 286.6 172.3 287.6 175.8 287.6 178.0 286.9 179.0 285.9 179.8 283.9 179.8 278.4ZM193.8 270.9 192.3 273.6 191.3 279.6 191.5 284.1 192.5 286.6 195.0 288.4 198.3 288.9 204.8 288.6 208.3 287.4 210.0 284.1 210.0 278.1 208.5 272.1 207.8 271.9 205.3 276.6 203.5 278.4 200.0 278.9 197.3 277.1Z"/>
<path fill-rule="evenodd" fill="#2847bf" d="M178.5 274.9 177.8 274.4 175.8 279.6 173.0 281.9 170.3 282.6 166.5 282.6 164.0 280.9 163.5 281.6 163.5 284.1 164.0 285.1 165.8 286.1 171.5 287.1 176.5 287.1 177.8 286.6 178.8 285.6 179.5 283.4 179.5 279.6ZM193.3 272.4 192.0 276.4 191.5 281.9 192.3 285.6 193.8 287.4 197.0 288.4 203.8 288.4 207.3 287.6 209.0 286.1 209.8 284.1 209.8 278.6 209.3 275.4 208.0 272.9 204.0 279.1 200.8 279.9 198.3 279.1 196.8 277.6 194.3 272.4Z"/>
<path fill-rule="evenodd" fill="#283cb0" d="M178.3 276.4 177.8 276.1 176.0 280.4 174.5 281.9 168.5 283.6 164.3 282.9 164.3 284.4 166.3 285.6 171.3 286.6 175.5 286.9 177.5 286.4 178.8 285.1 179.3 283.1 179.0 278.6ZM193.3 273.6 192.0 278.6 192.0 283.9 193.5 286.9 196.0 287.9 201.8 288.1 206.3 287.6 208.5 286.4 209.5 284.1 209.5 278.9 208.8 275.1 208.0 274.1 205.5 278.6 204.3 279.9 200.5 280.6 198.0 279.9 196.5 278.4 194.3 273.4 193.8 273.1Z"/>
<path fill-rule="evenodd" fill="#2831a2" d="M178.3 278.1 177.8 277.9 176.3 281.1 175.0 282.4 168.5 284.9 172.8 286.4 176.5 286.4 178.0 285.6 178.8 284.1 178.8 279.9ZM193.3 274.9 192.3 278.9 192.3 283.9 193.0 285.9 194.0 286.9 196.5 287.6 204.0 287.6 206.8 287.1 208.8 285.6 209.3 284.1 209.3 279.1 208.0 275.4 204.8 280.4 203.0 281.1 199.3 281.1 196.3 279.1 194.3 274.6 193.8 274.4Z"/>
<path fill-rule="evenodd" fill="#272792" d="M178.0 279.9 175.5 282.9 171.5 284.4 171.3 285.1 173.3 285.9 177.3 285.6 178.5 283.9ZM193.3 276.1 192.5 279.4 192.5 284.1 193.8 286.4 197.5 287.4 202.8 287.4 206.5 286.9 208.3 285.9 209.0 284.4 209.0 279.6 208.0 276.9 204.8 281.1 200.3 281.9 197.0 280.9 195.8 279.4 194.3 275.9 193.8 275.6Z"/>
<path fill-rule="evenodd" fill="#211f80" d="M178.0 282.1 177.5 281.9 173.8 284.9 175.0 285.4 177.5 284.9ZM193.5 277.1 192.8 279.9 192.8 284.1 194.0 286.1 196.0 286.9 204.8 286.9 207.0 286.4 208.3 285.4 208.8 284.1 208.8 280.1 208.0 278.4 207.5 278.4 206.3 280.6 204.3 282.1 199.8 282.4 197.0 281.6 195.8 280.4 194.5 277.6Z"/>
<path fill-rule="evenodd" fill="#1c186e" d="M193.3 279.4 193.0 283.9 194.5 286.1 196.8 286.6 203.5 286.6 206.8 286.1 208.3 284.9 208.5 281.1 207.8 279.6 205.3 282.4 199.3 282.9 196.8 282.1 194.0 278.4Z"/>
<path d="M163.27 229.53 L178.58 229.53 L178.58 249.23 L173.26 249.23 L173.26 265.35 L178.58 265.35 L178.58 285.77 L163.27 285.77 Z M193.22 229.53 L208.53 229.53 L208.53 285.77 L193.22 285.77 Z" fill="none" stroke="#262626" stroke-width="0.85" stroke-dasharray="1.8 2"/>
<rect x="225.40" y="211.80" width="3.20" height="91.70" fill="url(#cb)"/>
</g>
<g>
<rect x="247.90" y="211.10" width="73.80" height="91.50" fill="#5cb54c"/>
<path fill-rule="evenodd" fill="#62b749" d="M288.3 258.5 286.8 260.7 286.3 263.7 286.1 287.2 287.3 296.0 289.6 302.2 321.6 302.5 321.6 264.0 317.3 260.2 314.8 259.0 309.1 257.5 301.1 258.0 291.1 257.5ZM248.0 211.2 248.0 250.7 253.3 254.5 257.0 255.7 261.8 256.5 277.0 256.2 282.5 255.0 284.3 252.5 285.1 246.7 285.1 223.2 284.5 216.7 283.3 211.2Z"/>
<path fill-rule="evenodd" fill="#73bd43" d="M291.6 258.5 289.1 260.5 287.8 263.2 287.1 267.5 286.6 283.0 287.1 287.7 288.3 292.5 291.6 298.0 296.6 301.7 299.3 302.5 305.1 302.5 309.6 301.2 314.3 297.0 316.1 294.5 318.1 290.2 319.3 285.7 319.8 277.5 319.1 272.7 317.3 267.7 314.8 263.2 312.3 260.7 308.6 258.5 306.1 258.2 301.1 259.7 298.1 259.7 292.8 258.2ZM259.3 211.2 255.0 215.0 253.0 217.7 249.8 225.7 249.0 230.0 249.0 237.7 251.5 246.2 253.3 249.5 256.5 253.0 261.0 255.5 267.8 255.2 272.5 256.0 280.0 254.2 282.3 252.2 283.3 250.2 284.3 244.2 284.3 227.2 282.5 218.7 280.3 214.7 276.5 211.2Z"/>
<path fill-rule="evenodd" fill="#88c43b" d="M292.3 259.2 290.6 260.5 289.3 262.5 287.6 270.5 287.3 284.2 288.6 289.7 291.1 294.0 293.8 296.5 296.1 297.7 300.6 298.7 306.8 297.7 310.1 296.0 312.3 293.7 315.8 286.7 316.6 283.2 316.8 277.7 316.3 273.5 314.6 267.7 311.6 262.5 307.8 259.2 306.1 259.2 301.3 261.5 298.1 261.5ZM266.8 213.2 263.8 214.0 259.8 216.0 255.5 220.7 252.5 228.5 252.0 232.2 252.3 239.0 254.3 246.0 256.5 250.2 259.5 253.5 262.3 255.0 267.8 254.2 270.5 255.2 273.3 255.2 279.3 253.2 282.3 249.5 283.8 241.0 283.5 227.7 281.8 221.2 278.0 216.2 273.8 213.7Z"/>
<path fill-rule="evenodd" fill="#9ecc33" d="M307.1 260.0 301.3 263.2 297.3 263.0 292.6 260.2 290.8 261.7 289.3 265.2 287.8 275.2 287.8 283.2 288.3 286.2 290.8 291.5 293.8 294.2 297.1 295.7 301.8 296.2 304.8 295.7 307.8 294.5 312.1 290.5 314.1 286.0 314.8 282.2 314.3 272.7 311.3 264.5 308.8 261.0ZM266.5 216.0 262.8 217.2 260.0 219.0 256.3 223.7 255.0 226.7 254.0 231.5 254.3 239.7 257.0 248.2 259.3 251.7 261.3 253.7 263.0 254.2 265.5 253.2 267.8 253.2 271.0 254.7 272.8 254.7 278.3 252.7 280.3 251.0 281.8 248.2 283.3 238.7 283.0 229.2 281.3 223.0 278.0 218.7 272.5 216.0Z"/>
<path fill-rule="evenodd" fill="#b3d32c" d="M307.1 261.0 300.8 265.2 297.8 265.0 293.8 261.7 292.3 261.5 291.1 262.7 289.8 266.0 288.3 276.0 288.3 282.7 289.1 286.5 290.1 288.7 292.3 291.5 297.1 294.0 303.3 294.2 307.6 292.7 310.8 289.7 312.8 285.5 313.6 281.7 313.1 273.2 310.8 266.0 309.1 262.7ZM267.8 217.7 262.0 219.7 259.3 222.0 257.5 224.5 255.5 230.5 255.5 239.0 258.3 248.2 261.5 253.0 263.5 253.2 267.0 252.0 270.8 254.0 272.3 254.2 278.0 252.0 280.0 250.0 281.0 248.0 282.5 240.7 282.5 230.0 281.5 225.7 278.0 220.5 274.0 218.2Z"/>
<path fill-rule="evenodd" fill="#c8dc22" d="M307.6 262.2 306.3 262.2 300.8 267.2 297.8 267.0 293.6 262.7 292.6 262.5 291.3 263.7 289.1 273.5 288.8 283.0 290.6 288.2 292.3 290.2 295.1 292.0 299.6 293.0 304.8 292.5 308.6 290.5 311.3 286.7 312.6 281.7 312.3 274.7 310.1 266.5ZM267.8 219.2 262.5 221.0 260.3 222.7 258.5 225.0 256.5 230.7 256.5 238.7 258.5 246.5 260.5 250.7 261.8 252.2 263.3 252.5 265.8 251.0 267.5 251.0 271.3 253.5 272.8 253.5 278.3 251.0 280.5 247.5 282.0 240.0 282.0 230.2 280.3 224.7 277.5 221.5 273.5 219.5Z"/>
<path fill-rule="evenodd" fill="#dce616" d="M307.3 263.2 306.1 263.5 302.1 268.5 299.8 269.5 297.8 269.0 293.1 263.7 292.6 263.7 291.3 265.5 289.6 273.5 289.3 283.2 289.8 285.5 291.3 288.2 294.6 290.7 298.3 291.7 304.1 291.5 307.3 290.2 310.3 287.0 311.8 281.0 311.6 275.2 309.3 266.5ZM267.5 220.5 262.5 222.2 259.3 225.5 257.3 231.5 257.5 239.5 259.5 247.0 261.8 251.2 263.3 251.5 265.5 250.0 267.5 249.7 271.0 252.7 272.3 253.0 278.0 250.5 280.0 247.2 281.5 240.0 281.5 230.2 279.8 225.2 277.3 222.5 272.8 220.5Z"/>
<path fill-rule="evenodd" fill="#eff00a" d="M307.3 264.5 306.6 264.5 303.6 268.7 301.3 271.0 300.1 271.5 297.8 271.0 293.3 265.2 292.1 265.5 290.1 273.2 289.6 282.0 291.1 287.0 293.8 289.5 297.8 290.7 303.3 290.7 307.3 289.2 309.8 286.5 311.1 282.0 311.1 277.0 309.6 269.2 308.3 265.7ZM267.8 221.5 263.0 223.0 259.8 226.0 258.0 231.0 257.8 234.7 258.3 239.7 260.3 247.2 262.0 250.5 263.0 250.7 265.5 248.7 267.5 248.2 271.0 252.0 272.8 252.2 277.5 250.2 279.5 247.2 281.3 237.5 281.0 230.0 279.3 225.5 276.3 222.7 272.8 221.5Z"/>
<path fill-rule="evenodd" fill="#fff501" d="M307.3 265.7 305.8 266.5 303.3 271.0 300.3 273.2 298.8 273.2 297.3 272.5 293.1 266.5 292.1 267.0 290.3 274.5 290.1 283.2 291.1 286.2 293.3 288.5 298.3 290.0 302.8 290.0 307.3 288.5 309.3 286.2 310.3 283.5 310.6 278.0 308.8 268.7ZM267.0 222.5 262.0 224.5 259.5 227.7 258.5 231.5 259.0 240.5 260.8 247.0 262.5 249.7 263.5 249.5 266.3 246.7 267.8 246.5 270.8 251.0 272.0 251.7 277.0 250.0 279.3 246.7 280.8 238.5 280.5 229.5 279.0 226.0 276.3 223.5 272.0 222.2Z"/>
<path fill-rule="evenodd" fill="#ffe603" d="M307.1 267.0 306.1 267.5 303.3 272.7 300.3 275.0 297.6 274.5 295.1 271.5 293.8 268.7 293.1 268.0 292.3 268.2 290.6 275.5 290.3 282.5 291.3 286.0 293.1 287.7 297.8 289.2 303.1 289.2 306.1 288.5 308.6 286.5 309.8 283.5 310.1 278.0 308.8 270.7 307.8 267.7ZM265.0 223.7 261.0 226.2 259.5 229.0 259.0 231.5 259.3 239.0 261.5 247.5 262.3 248.5 263.3 248.5 266.0 245.2 267.3 244.5 268.5 244.5 269.5 245.7 270.3 249.0 271.5 250.7 272.8 251.0 276.0 250.0 278.3 248.0 279.5 244.2 280.5 236.5 280.5 232.0 279.8 228.2 277.5 225.0 274.8 223.5 269.0 223.0Z"/>
<path fill-rule="evenodd" fill="#ffd806" d="M307.3 268.5 306.1 269.0 303.3 274.5 300.6 276.5 297.3 276.0 295.3 273.7 293.6 270.0 292.8 269.5 292.3 270.0 291.1 274.5 290.6 282.0 291.3 285.2 293.1 287.2 296.8 288.5 301.8 288.7 305.8 288.0 308.1 286.5 309.6 282.7 309.6 277.2 308.3 270.7ZM265.5 224.2 262.5 225.5 260.5 227.7 259.8 229.7 259.5 237.2 261.3 245.5 262.0 247.0 263.0 247.5 266.8 242.7 269.0 242.2 270.5 243.7 270.8 248.5 271.5 250.0 273.3 250.2 276.0 249.5 277.3 248.7 278.3 247.2 279.8 240.5 280.0 230.5 279.3 228.0 277.0 225.2 274.3 224.0 268.3 223.7Z"/>
<path fill-rule="evenodd" fill="#ffc908" d="M307.1 270.0 306.1 270.5 303.6 275.7 300.8 277.7 297.3 277.5 295.1 275.0 293.6 271.7 292.6 271.2 291.1 277.2 291.1 283.5 291.8 285.5 293.1 286.7 297.1 288.0 303.8 288.0 306.8 287.0 308.3 285.5 309.1 283.5 309.3 279.2 308.3 272.5ZM263.5 225.5 261.3 227.2 260.3 229.2 259.8 232.0 260.0 238.0 262.0 245.7 263.0 246.2 266.8 241.0 268.0 240.2 269.5 240.2 271.5 242.0 272.0 243.2 271.5 248.7 272.3 249.5 276.5 248.7 278.3 246.2 279.8 237.5 279.8 231.0 278.5 227.2 276.3 225.2 272.5 224.2 267.3 224.5Z"/>
<path fill-rule="evenodd" fill="#ffb90b" d="M307.1 271.5 305.8 272.5 303.8 277.0 302.6 278.2 300.6 279.0 296.8 278.5 294.8 276.2 293.3 273.0 292.6 273.0 291.3 278.0 291.3 283.5 292.1 285.2 293.8 286.7 297.1 287.5 304.1 287.5 306.8 286.5 308.1 285.2 308.8 283.0 308.6 276.0ZM263.0 226.2 261.5 227.5 260.3 230.7 260.5 238.7 262.3 244.7 263.0 245.0 266.8 239.2 268.0 238.5 269.8 238.5 272.0 240.2 273.0 242.2 273.3 244.0 272.3 248.2 272.8 248.7 274.8 248.7 276.8 248.0 278.3 245.0 279.5 236.7 279.5 231.2 278.3 227.5 275.8 225.5 272.5 224.7 267.5 225.0Z"/>
<path fill-rule="evenodd" fill="#ffa30e" d="M307.3 273.2 306.3 273.2 304.3 277.7 302.8 279.2 300.1 280.0 297.3 279.7 295.8 279.0 293.6 275.0 292.6 274.7 291.6 278.7 291.6 283.2 292.1 284.7 293.3 286.0 296.6 287.0 304.3 287.0 306.6 286.2 307.8 285.0 308.6 282.5 308.3 277.0ZM262.5 227.0 261.3 228.5 260.5 231.0 260.5 235.7 262.0 243.0 262.8 243.7 263.3 243.5 265.3 239.5 267.0 237.5 269.8 237.0 271.0 237.5 273.5 240.7 274.3 243.5 273.5 247.5 274.3 248.0 276.5 247.5 278.0 244.5 279.3 236.2 279.3 231.2 277.8 227.2 276.0 226.0 273.0 225.2 265.8 225.7Z"/>
<path fill-rule="evenodd" fill="#ff8d12" d="M307.3 275.0 306.8 274.5 306.1 275.2 304.6 278.7 303.6 279.7 300.8 280.7 296.1 280.2 294.3 278.5 293.6 276.7 292.8 276.5 291.8 279.7 291.8 283.0 292.8 285.2 294.8 286.2 299.3 286.7 304.8 286.5 307.1 285.5 308.3 282.2 308.1 277.7ZM262.8 227.2 261.3 229.2 260.8 231.5 261.0 237.2 262.5 242.2 263.5 241.7 266.5 236.5 268.3 235.7 270.5 236.0 273.3 238.2 274.8 242.0 275.3 246.5 276.5 246.5 278.0 242.7 279.0 235.7 279.0 231.2 277.8 227.7 276.3 226.5 273.8 225.7 267.0 226.0Z"/>
<path fill-rule="evenodd" fill="#fd7114" d="M307.1 276.5 306.1 277.0 305.1 279.2 303.6 280.7 300.3 281.5 296.3 281.2 292.8 278.2 292.1 281.0 292.8 284.7 294.6 285.7 298.1 286.2 303.3 286.2 306.8 285.2 307.8 283.5 307.8 279.0ZM263.0 227.5 261.8 228.7 261.0 231.5 261.3 236.5 262.3 240.5 262.8 241.0 263.3 240.7 265.3 236.5 266.5 235.2 267.8 234.7 270.5 235.0 272.5 236.0 274.0 238.0 276.0 244.5 276.5 244.7 277.8 242.2 278.8 235.7 278.8 231.0 278.0 228.5 276.5 227.0 274.5 226.2 268.3 226.2Z"/>
<path fill-rule="evenodd" fill="#f64814" d="M307.3 279.0 306.3 278.2 304.6 281.0 302.1 282.0 296.3 282.0 293.1 280.0 292.6 281.0 292.6 283.5 293.8 285.0 295.3 285.5 305.3 285.5 307.3 284.0ZM262.5 228.2 261.5 230.2 261.3 233.5 261.8 237.2 262.8 239.5 266.0 234.5 267.0 234.0 270.0 234.0 272.3 234.7 273.8 236.2 276.0 242.2 276.5 242.7 277.3 242.2 278.3 237.7 278.5 231.0 278.0 229.0 276.8 227.5 273.8 226.5 269.8 226.5 264.5 227.2Z"/>
<path fill-rule="evenodd" fill="#f02014" d="M307.1 280.5 306.3 280.0 304.8 281.7 301.6 282.7 296.1 282.7 293.3 281.7 293.1 283.2 294.1 284.5 295.6 285.0 304.3 285.2 306.8 284.0ZM262.3 229.0 261.8 230.2 261.8 235.2 262.5 237.7 263.5 237.2 264.5 235.0 266.8 233.2 270.0 233.2 272.8 234.2 274.3 235.7 276.0 240.5 277.0 241.0 278.3 235.5 278.3 230.7 277.8 229.0 276.3 227.5 272.8 226.7 265.0 227.5Z"/>
<path fill-rule="evenodd" fill="#d8170f" d="M306.6 282.2 305.8 282.0 302.3 283.5 296.1 284.0 305.1 284.5 306.3 283.7ZM262.5 229.2 262.0 230.5 262.0 234.2 262.8 236.2 266.0 232.7 270.5 232.7 273.3 233.7 274.5 235.0 276.3 239.2 277.0 239.2 278.0 235.2 278.0 230.5 276.5 228.0 274.5 227.2 269.8 227.2 264.5 228.0Z"/>
<path fill-rule="evenodd" fill="#bf0f0a" d="M262.8 229.5 262.3 230.7 262.8 234.5 266.0 232.0 271.0 232.2 273.8 233.2 275.0 234.7 276.0 237.2 277.0 237.7 277.8 234.7 277.8 230.5 277.0 228.7 276.0 228.0 270.8 227.5 265.3 228.2Z"/>
<path fill-rule="evenodd" fill="#a50805" d="M262.8 230.5 263.0 232.7 266.0 231.2 270.0 231.5 274.0 232.7 276.5 236.2 277.3 235.5 277.5 230.5 277.0 229.2 275.8 228.2 269.8 228.0 265.0 228.7 263.3 229.5Z"/>
<path fill-rule="evenodd" fill="#8c0000" d="M263.5 230.5 263.8 231.0 267.8 230.5 274.0 232.0 276.5 234.7 277.3 233.5 277.0 229.7 274.5 228.2 270.8 228.2 265.8 229.2Z"/>
<path fill-rule="evenodd" fill="#4eb25c" d="M249.0 262.0 248.0 263.0 248.0 302.5 283.3 302.5 284.3 298.5 285.1 290.2 285.1 266.2 284.5 261.7 283.5 259.2 282.3 258.2 279.5 257.5 262.5 257.2 254.0 259.0ZM289.8 211.2 288.8 213.0 287.1 219.0 286.1 226.7 286.1 245.7 286.6 252.2 287.3 254.2 288.6 255.5 290.8 256.2 298.3 255.7 309.1 256.2 314.8 254.7 318.8 252.5 321.6 249.7 321.6 211.2Z"/>
<path fill-rule="evenodd" fill="#3fae6c" d="M279.5 259.0 273.0 257.7 268.3 258.5 261.0 258.2 256.0 261.2 254.0 263.2 252.0 266.5 249.5 273.2 249.0 276.2 249.0 283.7 251.0 292.0 253.5 296.7 255.3 299.0 259.3 302.5 276.5 302.5 280.3 299.0 282.3 295.5 283.5 291.5 284.3 286.5 284.3 269.2 282.8 262.0ZM298.1 211.5 295.1 212.7 291.6 215.7 290.1 217.7 287.8 222.7 286.6 230.7 286.8 243.5 287.6 249.7 288.8 253.0 290.6 254.7 292.3 255.5 298.1 254.0 301.1 254.0 306.1 255.5 307.8 255.5 312.3 253.0 314.8 250.5 317.3 246.0 319.6 238.5 319.8 232.0 319.3 228.0 318.1 223.5 316.1 219.2 311.1 213.5 309.6 212.5 305.1 211.2Z"/>
<path fill-rule="evenodd" fill="#30aa7c" d="M271.8 258.2 268.0 259.5 265.3 259.5 262.3 258.7 260.5 259.5 256.0 264.2 254.0 268.5 252.5 273.5 252.0 277.2 252.3 283.7 253.5 288.7 255.5 293.0 259.8 297.7 263.8 299.7 266.8 300.5 272.8 300.2 278.0 297.5 281.5 293.0 283.3 287.5 283.8 283.7 283.8 272.7 282.8 265.5 281.5 262.5 280.0 260.7 277.8 259.5ZM306.8 216.0 302.1 215.0 296.1 216.0 291.3 219.5 288.3 224.7 287.3 229.5 287.8 245.5 289.1 250.7 290.3 253.0 292.3 254.5 298.1 252.2 301.3 252.2 305.3 254.2 307.8 254.5 311.6 251.2 314.6 246.0 316.3 240.2 316.8 236.0 316.6 230.5 315.8 227.0 312.3 220.0 310.1 217.7Z"/>
<path fill-rule="evenodd" fill="#22a68c" d="M273.0 259.0 271.0 259.0 266.8 260.7 262.8 259.5 261.3 260.0 258.0 263.7 256.3 267.2 254.0 276.0 254.3 283.7 255.5 288.2 257.0 291.2 260.0 294.7 262.8 296.5 268.5 298.0 273.5 297.5 278.0 295.0 281.3 290.7 283.0 284.5 283.3 275.2 281.8 265.2 280.3 262.5 278.8 261.0ZM297.1 218.0 293.8 219.5 290.8 222.2 288.3 227.5 287.8 230.5 287.8 238.5 289.1 247.7 290.1 250.7 291.8 253.2 293.1 253.5 298.1 250.5 301.3 250.5 307.1 253.7 308.8 252.7 311.3 249.2 314.3 241.0 314.8 231.5 314.1 227.7 312.1 223.2 307.8 219.2 303.8 217.7 300.3 217.5Z"/>
<path fill-rule="evenodd" fill="#1ca798" d="M272.5 259.5 270.8 259.7 267.5 261.7 266.0 261.7 263.5 260.5 261.3 261.0 257.8 266.7 255.5 275.0 255.5 283.0 257.3 288.7 259.3 291.7 261.3 293.5 264.0 295.0 267.8 296.0 274.0 295.5 278.3 293.0 281.3 288.5 282.5 283.7 282.5 273.0 281.0 265.5 279.3 262.5 277.8 261.2ZM297.1 219.7 292.3 222.2 290.1 225.0 289.1 227.2 288.3 231.0 288.3 237.7 289.8 247.7 291.1 251.0 292.3 252.2 293.8 252.0 297.8 248.7 300.8 248.5 307.1 252.7 308.3 252.0 310.8 247.7 313.1 240.5 313.6 232.0 312.8 228.2 310.8 224.0 307.6 221.0 303.3 219.5Z"/>
<path fill-rule="evenodd" fill="#17a8a3" d="M273.0 260.2 271.3 260.2 267.3 263.0 265.5 262.7 263.0 261.2 261.5 261.7 258.8 266.7 256.5 275.2 256.5 282.7 258.5 288.7 260.0 290.7 262.5 292.7 267.8 294.5 273.3 294.2 277.5 292.2 280.3 289.0 282.0 283.5 282.0 273.7 280.5 266.0 278.0 262.2ZM295.1 221.7 292.3 223.5 290.6 225.5 288.8 230.7 289.1 240.2 291.3 250.0 292.6 251.2 293.6 251.0 297.8 246.7 300.8 246.5 306.3 251.5 307.6 251.5 310.1 247.2 312.3 239.0 312.6 232.0 311.3 227.0 308.6 223.2 304.8 221.2 299.6 220.7Z"/>
<path fill-rule="evenodd" fill="#11a9af" d="M272.8 260.7 271.0 261.0 267.5 264.2 265.8 264.0 263.8 262.5 262.3 262.2 260.0 265.5 257.8 273.0 257.3 282.2 258.3 286.2 259.8 289.0 261.5 290.7 266.3 293.0 272.5 293.2 277.0 291.5 279.8 288.5 281.3 284.7 281.8 277.2 281.0 270.2 280.0 266.2 277.8 262.7ZM294.6 223.0 291.3 225.5 289.8 228.2 289.3 230.5 289.6 240.2 291.8 249.2 293.1 250.0 297.8 244.7 299.8 244.2 302.1 245.2 305.8 250.0 307.3 250.5 309.3 247.2 311.6 238.5 311.8 232.7 310.3 226.7 308.3 224.2 304.3 222.2 298.3 222.0Z"/>
<path fill-rule="evenodd" fill="#0caaba" d="M273.0 261.5 271.0 261.7 267.8 265.7 266.5 265.7 263.8 263.5 262.3 263.2 260.3 266.5 258.3 274.0 258.0 282.7 259.5 287.2 261.0 289.2 263.0 290.7 267.8 292.2 272.8 292.2 276.3 291.0 279.3 288.2 281.0 283.7 281.3 276.5 279.5 266.2 277.3 263.0ZM293.8 224.2 291.1 226.7 289.6 231.7 290.3 242.2 292.1 248.2 293.3 248.5 297.8 242.7 299.8 242.2 301.3 242.7 303.6 245.0 305.3 248.0 306.6 249.2 307.3 249.2 308.3 248.0 309.6 244.5 311.1 236.7 311.1 231.7 309.8 227.2 307.3 224.5 303.3 223.0 297.8 223.0Z"/>
<path fill-rule="evenodd" fill="#09aac4" d="M272.5 262.0 270.5 263.2 269.3 266.5 267.8 267.7 266.3 267.2 263.3 264.2 262.3 264.2 260.8 266.7 259.0 273.2 258.5 282.2 259.5 286.0 262.0 289.2 267.0 291.2 272.0 291.5 276.3 290.2 279.0 287.7 280.8 282.7 280.5 273.2 278.8 265.5 276.8 263.2ZM293.3 225.2 291.1 227.5 290.1 230.5 290.3 239.2 292.1 246.7 293.1 247.2 297.3 241.2 298.8 240.5 300.3 240.5 303.3 242.7 305.8 247.2 307.3 248.0 308.8 245.0 310.6 235.7 310.3 230.2 309.3 227.5 307.3 225.2 302.8 223.7 298.3 223.7Z"/>
<path fill-rule="evenodd" fill="#07a9ce" d="M275.5 263.2 273.3 262.7 271.5 263.0 270.8 264.2 270.3 268.0 268.8 269.7 267.5 269.7 266.3 269.0 263.0 265.2 262.0 265.5 261.3 267.0 259.3 275.0 259.0 282.2 260.0 286.0 261.0 287.5 264.3 289.7 269.3 290.7 273.8 290.5 277.5 288.7 279.5 286.0 280.5 281.7 280.5 277.2 279.5 269.5 278.0 265.0ZM293.1 226.0 291.3 227.7 290.3 231.2 290.6 238.2 292.3 245.5 293.1 245.7 293.8 245.0 295.1 242.2 297.6 239.2 300.3 238.7 303.3 241.0 306.1 246.2 307.1 246.7 308.1 245.5 310.1 235.7 309.8 230.2 308.6 227.2 307.1 225.7 303.1 224.5 297.8 224.5Z"/>
<path fill-rule="evenodd" fill="#05a9d7" d="M276.3 264.0 274.3 263.5 271.8 263.7 271.3 264.7 271.5 269.2 271.0 270.5 269.3 272.0 267.0 271.5 263.3 266.5 262.0 266.7 259.8 274.7 259.5 282.7 260.5 286.0 263.0 288.5 266.8 289.7 273.0 290.0 276.3 289.0 279.0 286.2 280.0 283.0 280.0 275.5 278.5 267.0 277.5 265.0ZM293.1 226.5 291.3 228.5 290.6 231.7 291.1 239.2 292.3 243.7 292.8 244.2 293.6 243.7 295.3 240.0 297.3 237.7 300.6 237.2 303.3 239.2 306.1 244.7 307.3 245.2 308.3 243.0 309.6 236.5 309.6 231.0 308.1 227.2 305.8 225.7 301.8 225.0 296.8 225.2Z"/>
<path fill-rule="evenodd" fill="#02a8e1" d="M276.5 264.7 275.3 264.2 272.3 264.5 272.5 270.7 271.8 272.2 269.8 273.7 268.0 273.7 266.5 272.7 263.0 267.5 261.8 268.5 260.3 274.2 259.8 281.7 261.0 286.0 263.0 288.0 267.3 289.2 272.5 289.5 276.3 288.5 278.8 286.0 279.8 282.7 279.8 276.5 278.3 267.5ZM293.1 227.0 291.8 228.2 291.1 230.2 291.1 236.5 292.6 242.5 293.6 242.0 295.1 238.7 297.3 236.2 300.8 236.0 303.6 238.0 306.1 243.2 307.1 243.7 308.3 241.2 309.3 234.5 309.1 230.2 308.3 228.2 306.8 226.7 303.8 225.7 297.1 225.7Z"/>
<path fill-rule="evenodd" fill="#00a8ea" d="M276.8 265.5 275.8 265.0 273.3 265.2 273.8 267.7 273.3 272.0 272.0 274.0 269.8 275.5 267.3 275.0 265.8 273.5 263.3 269.0 262.8 268.7 262.0 269.5 260.3 277.0 260.3 283.0 261.3 285.7 263.0 287.5 267.5 288.7 272.5 289.0 275.8 288.2 278.3 286.2 279.5 282.5 279.5 277.2 278.5 270.0ZM292.1 228.5 291.3 230.2 291.3 235.7 292.6 240.7 293.3 240.7 294.8 237.5 296.8 235.2 300.6 234.7 302.6 235.5 303.8 236.7 306.6 242.2 307.3 242.0 308.6 237.7 308.8 230.7 308.1 228.5 306.8 227.2 304.1 226.2 297.1 226.2 293.8 227.0Z"/>
<path fill-rule="evenodd" fill="#0993e3" d="M276.5 266.2 275.0 266.2 274.8 269.7 273.8 273.0 272.8 274.7 270.3 276.7 267.8 276.7 266.5 276.0 263.0 270.2 262.3 270.5 260.5 278.0 260.8 283.7 262.3 286.5 266.0 288.0 273.0 288.5 276.0 287.7 278.3 285.7 279.3 282.5 279.3 277.7 278.3 270.5 277.5 267.7ZM292.1 229.0 291.6 230.5 291.6 235.0 292.6 239.0 293.6 238.7 295.8 234.7 297.3 234.0 300.1 233.7 302.8 234.5 304.3 236.0 306.3 240.5 307.3 240.5 308.3 236.7 308.6 231.2 307.8 228.7 306.6 227.5 304.3 226.7 296.6 226.7 294.3 227.2Z"/>
<path fill-rule="evenodd" fill="#137ad7" d="M276.5 267.7 275.8 268.2 273.5 275.2 271.8 277.2 270.0 278.0 266.8 277.5 265.0 275.5 263.8 272.5 262.8 271.5 262.0 272.2 261.0 276.7 260.8 282.2 261.3 284.5 262.8 286.5 267.0 287.7 273.5 288.0 276.3 287.2 277.8 286.0 279.0 282.5 279.0 278.0 278.0 271.0ZM292.8 228.5 291.8 230.7 291.8 234.0 292.8 237.2 293.6 237.0 294.3 235.2 296.1 233.5 300.8 233.0 303.6 234.0 304.6 235.0 306.1 238.5 306.8 239.2 307.3 238.7 308.1 236.0 308.3 231.5 307.1 228.2 304.8 227.2 299.3 227.0 294.8 227.5Z"/>
<path fill-rule="evenodd" fill="#1e60cb" d="M277.0 269.7 276.5 269.5 276.0 270.0 273.5 276.7 272.0 278.2 270.0 279.0 267.5 279.0 265.0 277.0 263.0 273.0 262.3 273.2 261.3 277.2 261.0 282.0 261.5 284.5 263.0 286.2 268.5 287.5 274.3 287.5 276.5 286.7 278.0 285.2 278.8 282.7 278.8 278.2 278.0 272.7ZM292.8 229.0 292.1 231.0 292.8 235.5 296.3 232.5 300.3 232.2 303.6 233.0 305.1 234.5 306.6 237.5 307.1 237.2 307.8 234.7 307.8 230.2 306.8 228.5 303.3 227.5 298.1 227.5 294.6 228.0Z"/>
<path fill-rule="evenodd" fill="#2847bf" d="M276.8 271.2 275.8 272.5 273.5 278.0 270.3 279.7 267.0 279.7 266.0 279.2 264.5 277.5 263.5 275.0 262.5 274.5 261.3 280.5 262.0 284.7 264.5 286.5 269.8 287.2 273.8 287.2 276.8 286.2 278.0 284.7 278.5 282.7 278.3 276.0 277.8 273.2ZM292.6 230.2 292.6 232.7 293.1 233.7 296.3 231.7 302.1 231.7 304.6 232.7 306.3 235.5 307.1 235.5 307.6 230.7 306.1 228.5 304.1 228.0 295.3 228.2 293.8 228.7Z"/>
<path fill-rule="evenodd" fill="#283cb0" d="M277.0 273.0 276.0 273.5 274.0 278.5 271.3 280.2 266.0 280.2 262.8 276.0 261.8 278.7 261.8 283.5 262.3 284.7 265.0 286.2 271.5 287.0 274.8 286.7 276.5 286.0 277.5 285.0 278.3 283.0 278.3 278.5ZM293.1 230.5 293.3 232.0 296.1 231.0 301.6 231.0 304.8 232.0 306.3 233.7 307.1 233.2 306.8 229.7 304.3 228.5 295.6 228.7 294.1 229.2Z"/>
<path fill-rule="evenodd" fill="#2831a2" d="M277.0 274.5 276.3 274.7 274.8 278.5 273.0 280.2 270.8 281.0 265.8 281.0 264.5 280.0 263.3 277.7 262.8 277.7 262.0 279.5 262.0 283.2 262.5 284.5 264.5 285.7 269.8 286.5 274.3 286.5 276.5 285.7 278.0 283.2 278.0 278.7ZM296.1 229.7 302.3 230.2 305.8 231.7 306.6 231.5 306.3 230.0 305.1 229.2Z"/>
<path fill-rule="evenodd" fill="#272792" d="M277.0 276.2 276.3 276.2 275.3 278.7 273.8 280.5 271.0 281.5 265.8 281.7 263.0 279.2 262.3 280.7 262.8 284.2 264.3 285.2 270.8 286.2 273.8 286.2 276.3 285.5 277.8 283.2 277.8 279.0Z"/>
<path fill-rule="evenodd" fill="#211f80" d="M277.0 277.7 276.5 277.5 275.3 279.7 273.3 281.5 268.5 282.5 265.8 282.5 263.0 281.0 262.8 283.2 263.3 284.2 265.0 285.0 269.8 285.7 275.8 285.5 277.0 284.5 277.5 283.2Z"/>
<path fill-rule="evenodd" fill="#1c186e" d="M277.3 280.5 276.5 279.0 275.5 280.5 273.5 282.0 268.0 283.2 263.5 283.0 264.8 284.2 271.0 285.5 274.5 285.5 277.0 284.0Z"/>
<path d="M262.24 228.79 L277.50 228.79 L277.50 248.45 L272.19 248.45 L272.19 264.53 L277.50 264.53 L277.50 284.91 L262.24 284.91 Z M292.10 228.79 L307.36 228.79 L307.36 284.91 L292.10 284.91 Z" fill="none" stroke="#262626" stroke-width="0.85" stroke-dasharray="1.8 2"/>
<rect x="324.20" y="211.10" width="3.30" height="91.50" fill="url(#cb)"/>
</g>
<g>
<rect x="33.40" y="543.30" width="77.40" height="95.30" fill="#5cb54c"/>
<path fill-rule="evenodd" fill="#62b749" d="M52.5 592.5 47.0 592.7 43.0 594.7 40.8 597.0 38.5 600.7 36.3 608.5 36.0 617.0 37.0 622.2 38.3 625.5 41.5 630.2 43.8 632.0 46.8 633.2 50.0 633.2 52.3 632.2 55.0 628.7 56.0 624.5 56.0 604.2 56.5 596.5 55.5 593.7ZM79.2 592.0 77.2 592.7 75.5 594.2 73.7 598.5 72.7 612.0 73.0 621.2 73.7 625.5 75.5 629.2 78.2 631.5 81.5 632.0 85.0 629.7 86.5 627.0 87.2 624.0 87.5 616.0 86.5 599.0 85.2 594.7 84.0 593.2 82.2 592.2ZM63.0 549.9 59.7 551.7 57.7 554.9 56.7 560.4 57.5 576.4 59.2 586.7 61.5 589.4 65.0 589.9 67.7 588.7 70.0 585.2 71.0 579.7 71.5 565.7 71.0 558.7 69.5 553.9 66.5 550.7ZM94.4 548.7 91.9 549.7 90.2 551.4 88.5 555.9 88.0 560.4 88.5 577.7 89.2 584.2 91.0 588.2 93.2 589.7 96.7 589.9 100.4 588.2 103.2 585.4 105.7 581.2 107.9 573.2 108.2 565.2 106.4 557.7 103.9 553.2 99.4 549.4 97.4 548.7Z"/>
<path fill-rule="evenodd" fill="#73bd43" d="M51.8 595.0 47.8 595.2 44.3 598.5 41.8 604.7 40.5 613.0 41.0 619.2 42.8 624.0 46.0 627.5 49.0 628.5 51.8 628.0 54.2 625.7 55.7 621.5 54.7 607.0 55.2 599.0 54.5 596.5ZM79.7 593.7 78.7 594.2 77.0 596.5 75.0 602.5 74.0 610.5 74.0 618.2 74.5 621.2 76.2 625.2 79.0 627.5 82.5 627.7 85.5 625.5 87.0 621.5 87.0 616.2 84.7 599.7 82.7 595.2 81.5 594.0ZM62.0 554.2 60.0 555.2 57.7 558.4 57.2 560.4 57.2 565.4 58.7 577.4 60.2 583.9 62.0 587.2 63.5 588.2 64.5 588.2 66.2 586.9 67.5 584.9 69.0 580.4 70.2 571.2 70.2 563.9 69.7 560.7 68.0 556.7 65.7 554.7ZM94.4 553.4 91.7 554.4 90.0 556.2 88.5 560.4 88.5 565.4 89.7 576.9 91.0 582.9 92.9 586.9 94.4 588.2 95.7 588.4 97.2 587.7 98.9 585.7 101.9 578.9 103.4 571.7 103.4 564.2 101.9 558.9 100.2 556.2 97.2 553.9Z"/>
<path fill-rule="evenodd" fill="#88c43b" d="M48.8 596.5 46.3 598.2 44.0 603.2 42.5 611.0 42.5 617.5 43.5 621.5 44.8 623.7 47.3 626.0 50.5 626.5 52.8 625.5 54.5 623.5 55.5 620.2 55.5 618.2 53.7 606.7 54.0 599.0 53.5 598.0 51.8 596.7ZM79.7 595.5 77.7 598.0 76.0 603.7 75.0 610.2 75.0 618.5 75.7 621.5 77.5 624.5 80.0 626.0 82.5 626.0 85.5 623.7 86.7 620.5 86.7 618.0 84.0 601.5 81.7 596.2 81.0 595.5ZM61.7 555.9 58.7 558.2 57.5 561.4 57.5 563.9 60.7 581.7 62.7 585.9 64.5 586.4 66.7 583.2 68.2 578.2 69.2 571.4 69.2 563.4 68.5 560.4 66.7 557.4 64.2 555.9ZM93.7 555.4 91.5 556.4 89.7 558.4 88.7 561.7 88.7 563.7 91.5 580.2 93.9 585.9 94.9 586.7 95.9 586.7 97.7 584.9 100.4 577.7 101.7 570.9 101.7 564.4 100.7 560.4 99.4 558.2 96.9 555.9Z"/>
<path fill-rule="evenodd" fill="#9ecc33" d="M49.0 597.5 46.5 599.7 45.0 603.7 43.8 610.0 43.5 617.0 44.0 619.7 45.5 623.0 48.0 625.0 50.8 625.2 52.5 624.5 54.0 623.0 55.0 620.7 55.0 617.5 53.0 607.5 53.0 600.0 52.0 598.2ZM80.0 597.0 78.5 598.7 76.7 604.5 75.5 615.5 76.0 619.7 77.5 623.0 79.7 624.7 82.2 625.0 84.2 624.0 85.5 622.5 86.2 620.7 86.2 617.2 83.0 601.2 81.5 597.7ZM62.0 556.9 60.0 557.9 58.7 559.4 58.0 561.2 58.0 564.4 61.2 580.4 62.5 583.7 63.2 584.7 64.2 584.9 66.2 581.9 67.7 576.2 68.5 571.2 68.5 563.4 66.7 558.9 64.5 557.2ZM93.4 556.7 91.7 557.4 90.2 558.9 89.2 561.2 89.2 564.4 92.7 581.2 94.2 584.4 94.9 585.2 95.9 585.2 97.4 583.2 99.4 577.2 100.4 571.9 100.7 564.9 100.2 562.2 98.7 558.9 96.2 556.9Z"/>
<path fill-rule="evenodd" fill="#b3d32c" d="M80.0 598.5 78.7 600.2 77.0 606.7 76.2 612.0 76.2 617.7 77.7 622.2 80.0 624.0 82.0 624.2 83.7 623.5 85.2 622.0 86.0 620.2 86.0 618.2 84.5 613.0 82.7 603.0 81.2 599.2ZM49.0 598.5 47.8 599.2 46.0 603.0 44.5 610.5 44.3 617.0 45.0 620.5 46.5 623.0 47.8 624.0 50.3 624.5 53.5 622.7 54.5 621.0 54.7 618.5 52.5 608.7 52.0 600.5 51.3 599.0ZM62.2 557.7 60.5 558.4 59.0 559.9 58.2 561.7 58.2 563.7 62.0 580.4 63.0 582.7 64.0 583.4 65.2 582.2 67.0 576.4 68.0 569.7 68.0 564.2 66.5 559.7 64.2 557.9ZM93.9 557.4 90.7 559.2 89.7 560.9 89.5 563.4 92.9 579.4 94.2 582.7 95.7 583.7 97.2 581.7 98.9 575.7 99.9 568.9 99.9 565.2 99.2 561.4 97.7 558.9 96.4 557.9Z"/>
<path fill-rule="evenodd" fill="#c8dc22" d="M80.2 600.0 79.0 601.5 77.2 608.5 76.7 618.0 78.2 622.0 79.7 623.2 82.2 623.5 85.0 621.5 85.7 619.2 84.0 613.0 82.2 603.5 81.0 600.5ZM48.8 599.5 47.8 600.5 46.3 604.5 44.8 615.2 45.0 618.2 46.3 621.7 48.3 623.5 50.8 623.7 52.8 622.7 54.2 620.5 54.2 617.7 52.3 610.7 51.0 600.7 50.5 599.7ZM62.0 558.4 59.2 560.4 58.7 561.4 58.7 564.2 60.2 568.7 62.2 579.2 63.5 581.7 64.2 581.7 65.5 579.7 67.0 573.4 67.5 563.9 66.0 559.9 64.5 558.7ZM93.4 558.2 91.5 559.2 90.0 561.4 90.0 563.9 91.7 569.7 93.4 578.9 94.4 581.4 95.7 582.2 96.9 580.4 98.7 573.7 99.2 563.7 98.2 560.7 96.4 558.7Z"/>
<path fill-rule="evenodd" fill="#dce616" d="M80.2 601.5 78.7 604.0 77.7 608.5 77.2 618.5 78.2 621.2 79.5 622.5 82.2 623.0 83.7 622.2 85.0 620.7 85.2 618.2 83.5 613.0 81.7 603.7ZM48.8 600.5 47.3 603.0 46.5 605.7 45.3 616.2 46.5 621.2 48.0 622.7 50.5 623.2 53.2 621.5 54.0 620.0 54.0 618.5 52.3 613.2 50.3 601.5 49.5 600.5ZM62.0 558.9 60.5 559.7 59.2 561.2 59.0 563.7 60.7 568.9 62.2 577.2 63.2 579.7 64.2 580.2 65.7 576.9 66.7 571.9 67.0 563.4 66.0 560.7 64.7 559.4ZM93.7 558.7 91.0 560.4 90.2 561.9 90.2 563.4 91.9 568.7 93.4 576.9 94.7 580.2 95.7 580.7 97.7 575.9 98.9 565.9 97.7 560.7 96.2 559.2Z"/>
<path fill-rule="evenodd" fill="#eff00a" d="M80.2 603.0 79.5 603.7 78.0 609.5 77.5 617.7 78.7 621.2 80.5 622.5 82.2 622.5 84.0 621.5 85.0 619.0 83.2 613.7 82.0 606.5ZM48.8 602.0 47.5 604.0 46.3 609.5 45.8 617.5 47.0 621.2 49.0 622.7 50.5 622.7 53.0 621.2 53.5 618.0 52.0 614.0 50.0 603.2 49.5 602.2ZM62.0 559.4 60.2 560.4 59.2 562.7 61.0 568.2 62.5 576.2 63.2 578.2 64.2 578.7 65.5 575.9 66.2 572.4 66.7 564.2 65.5 560.7 63.7 559.4ZM93.7 559.2 91.2 560.7 90.7 563.9 91.9 566.9 94.2 577.7 95.4 579.4 96.4 578.2 97.4 574.9 98.4 568.4 98.4 564.4 97.2 560.7 95.7 559.4Z"/>
<path fill-rule="evenodd" fill="#fff501" d="M80.2 604.5 78.7 607.7 77.7 617.0 78.7 620.7 79.7 621.7 81.5 622.2 83.0 621.7 84.2 620.5 84.5 618.2 83.2 615.2 81.5 606.5ZM48.8 603.5 47.8 605.0 46.8 609.0 46.3 618.5 48.0 621.7 50.8 622.2 53.0 620.5 53.2 618.5 51.8 614.5 49.5 604.0ZM93.4 559.7 91.2 561.4 91.0 563.4 92.4 567.4 93.9 575.2 94.9 577.7 95.7 577.9 96.7 575.9 97.7 571.2 97.9 563.4 96.2 560.2ZM62.7 559.7 61.2 560.2 60.0 561.4 59.7 563.7 61.0 566.7 63.2 576.7 64.2 577.2 65.7 572.9 66.5 564.9 65.5 561.2 64.5 560.2Z"/>
<path fill-rule="evenodd" fill="#ffe603" d="M80.2 606.0 79.5 607.0 78.5 611.0 78.2 618.5 79.0 620.5 80.0 621.5 82.0 621.7 84.0 620.2 84.2 619.0 82.7 614.7 81.5 608.2ZM48.8 605.0 48.0 606.0 47.0 609.7 46.5 618.2 47.5 620.7 49.3 622.0 50.3 622.0 52.5 620.5 52.8 618.0 51.5 615.0 50.0 607.2ZM62.2 560.2 60.2 561.7 60.0 562.9 61.5 567.2 62.7 573.7 64.0 575.9 64.7 574.9 65.7 570.9 66.0 563.4 65.2 561.4 64.2 560.4ZM93.9 559.9 91.7 561.4 91.5 563.9 92.7 566.9 94.4 575.2 94.9 576.2 95.7 576.4 97.4 570.4 97.7 563.7 96.7 561.2 94.9 559.9Z"/>
<path fill-rule="evenodd" fill="#ffd806" d="M80.2 607.5 79.2 609.2 78.5 613.2 78.5 618.5 79.0 620.0 80.2 621.2 81.5 621.5 83.5 620.2 83.7 618.2 82.7 616.0 81.2 609.0ZM48.8 606.5 48.0 607.5 47.3 610.5 46.8 618.0 47.5 620.2 48.5 621.2 50.8 621.5 52.3 620.2 52.5 618.5 51.0 614.5 50.0 609.0ZM93.4 560.4 91.9 561.7 91.7 563.4 93.2 567.4 94.2 572.7 95.4 575.2 96.9 571.4 97.4 563.9 96.7 561.7 95.7 560.7ZM62.7 560.4 60.7 561.7 60.5 563.7 62.0 567.7 63.0 572.9 64.0 574.4 64.7 573.4 65.5 570.2 65.7 563.4 65.2 561.9 64.0 560.7Z"/>
<path fill-rule="evenodd" fill="#ffc908" d="M80.0 609.0 78.7 613.7 78.7 618.5 80.0 620.7 82.0 621.0 83.2 620.0 83.5 619.0 81.0 609.7ZM48.8 608.0 47.5 611.0 47.0 618.0 48.0 620.5 49.0 621.2 50.3 621.2 52.0 620.0 52.0 618.0 51.0 615.7 49.8 609.7ZM62.2 560.9 61.0 561.9 60.7 562.9 63.0 571.4 64.0 572.9 65.0 570.9 65.5 568.2 65.5 563.4 64.2 561.2ZM93.9 560.7 92.2 561.9 92.2 563.9 95.2 573.7 95.7 573.7 96.9 569.4 97.2 564.2 96.2 561.4Z"/>
<path fill-rule="evenodd" fill="#ffb90b" d="M80.2 610.2 79.0 614.2 79.0 618.5 80.2 620.5 81.7 620.7 82.7 620.0 83.0 618.2 81.0 611.2ZM48.8 609.5 47.5 613.0 47.3 617.7 48.0 620.0 50.0 621.0 51.5 620.0 51.8 618.5 49.8 611.2ZM62.5 561.2 61.5 561.9 61.2 563.7 63.5 571.2 64.2 571.4 65.2 567.7 65.2 563.7 64.0 561.4ZM94.2 560.9 92.7 561.9 92.4 563.4 94.9 571.9 95.7 572.2 96.7 568.9 96.9 564.2 96.2 561.9Z"/>
<path fill-rule="evenodd" fill="#ffa30e" d="M80.2 611.7 79.2 614.7 79.2 618.2 80.0 620.0 81.2 620.5 82.5 619.5 82.5 617.7 81.0 612.7ZM48.5 611.0 47.8 613.5 47.5 617.7 48.3 620.0 50.3 620.5 51.3 619.7 51.3 618.0 49.3 611.2ZM62.5 561.7 61.7 562.4 61.7 564.2 63.2 569.2 64.0 570.2 65.0 567.2 65.0 563.7 64.2 561.9ZM93.9 561.4 92.9 562.2 92.9 563.9 94.7 569.9 95.4 570.9 96.4 568.4 96.7 564.2 95.7 561.7Z"/>
<path fill-rule="evenodd" fill="#ff8d12" d="M80.2 613.2 79.5 615.2 79.5 618.2 80.2 619.7 81.5 620.0 82.2 618.5ZM48.8 612.2 48.0 614.0 47.8 617.7 48.3 619.5 50.0 620.2 50.8 619.7 51.0 618.5ZM62.7 561.9 62.0 563.4 64.0 568.7 64.7 566.7 64.7 563.7 64.0 562.2ZM94.2 561.7 93.4 562.2 93.2 563.4 94.9 569.2 95.4 569.4 96.2 567.9 96.4 564.2 95.9 562.4Z"/>
<path fill-rule="evenodd" fill="#fd7114" d="M80.2 614.7 79.7 618.0 80.2 619.2 81.2 619.5 81.7 618.0 81.0 615.5ZM48.8 613.7 48.0 617.7 48.5 619.2 50.0 619.7 50.5 618.0ZM63.0 562.4 62.5 563.9 64.0 567.2 64.5 563.9 64.0 562.7ZM94.2 562.2 93.7 563.9 95.4 568.2 96.2 565.7 95.9 563.2 95.2 562.2Z"/>
<path fill-rule="evenodd" fill="#f64814" d="M80.5 616.5 80.2 618.2 81.0 618.7 81.2 618.2ZM48.8 615.2 48.5 618.5 49.0 619.2 49.8 619.2 50.0 617.7ZM63.2 563.2 63.7 565.4 64.0 563.7ZM94.4 562.7 94.2 564.2 95.2 566.7 95.7 566.2 95.7 563.4 95.2 562.7Z"/>
<path fill-rule="evenodd" fill="#f02014" d="M49.0 617.2 49.0 617.5 49.0 617.7 49.0 618.0 49.3 618.2 49.3 618.0 49.3 617.7 49.3 617.5ZM94.9 563.7 94.9 563.9 94.9 564.2 94.9 564.4 95.2 564.7 95.2 564.4 95.2 564.2 95.2 563.9Z"/>
<path fill-rule="evenodd" fill="#4eb25c" d="M94.2 592.0 91.0 593.7 89.2 597.7 88.5 604.2 88.0 621.5 88.5 626.0 90.2 630.5 93.4 633.0 97.4 633.2 101.4 631.2 103.9 628.7 106.4 624.2 107.9 618.7 108.2 610.7 106.9 604.2 103.9 597.5 99.7 593.2 96.7 592.0ZM65.0 592.0 61.5 592.5 59.2 595.2 57.7 603.0 57.0 611.2 56.7 621.5 57.5 626.2 59.5 630.0 63.0 632.0 66.0 631.5 68.5 629.5 70.2 626.2 71.2 621.2 71.5 612.7 70.5 598.7 68.7 594.2 67.0 592.7ZM81.5 549.9 78.2 550.4 75.5 552.7 73.7 556.4 73.0 560.7 72.7 569.9 73.7 583.4 75.5 587.7 77.2 589.2 79.2 589.9 82.2 589.7 84.0 588.7 85.2 587.2 86.5 582.9 87.5 565.9 87.2 557.9 86.5 554.9 85.0 552.2ZM46.8 548.7 43.8 549.9 41.5 551.7 38.8 555.4 37.3 558.9 36.0 564.9 36.5 574.7 39.3 582.4 42.5 586.4 46.8 588.7 54.0 588.9 56.0 587.2 56.7 583.2 56.0 576.2 56.2 560.4 55.7 555.9 54.5 552.2 52.3 549.7 50.0 548.7Z"/>
<path fill-rule="evenodd" fill="#3fae6c" d="M64.5 593.7 63.5 593.7 62.0 594.7 60.0 598.7 58.5 606.0 57.2 616.5 57.2 621.5 57.7 623.5 59.0 625.7 62.0 627.7 65.7 627.2 68.0 625.2 69.7 621.2 70.2 618.0 70.2 610.5 69.0 601.5 67.5 597.0 66.2 595.0ZM95.7 593.5 94.4 593.7 92.9 595.0 91.0 599.0 89.7 605.0 88.5 616.5 88.5 621.5 89.2 624.2 91.7 627.5 94.4 628.5 97.2 628.0 100.2 625.7 101.9 623.0 103.4 617.7 103.4 610.2 101.9 603.0 98.9 596.2 97.2 594.2ZM82.5 554.2 79.0 554.4 76.2 556.7 74.5 560.7 74.0 563.7 74.0 571.4 75.0 579.4 77.0 585.4 78.0 586.9 79.7 588.2 81.0 588.2 82.7 586.7 84.7 582.2 87.0 565.7 87.0 560.4 85.5 556.4ZM49.0 553.4 46.0 554.4 42.8 557.9 41.0 562.7 40.5 568.7 42.0 577.9 44.3 583.2 46.8 585.7 48.3 586.4 50.8 586.7 53.7 585.9 55.2 583.4 55.0 571.2 55.7 560.4 54.2 556.2 51.8 553.9Z"/>
<path fill-rule="evenodd" fill="#30aa7c" d="M64.5 595.5 62.7 596.0 60.5 601.0 57.5 618.0 57.5 620.5 58.7 623.7 61.7 626.0 64.2 626.0 66.5 624.7 68.5 621.5 69.2 618.5 69.2 610.5 68.2 603.7 66.7 598.7ZM95.9 595.2 94.9 595.2 93.9 596.0 91.5 601.7 88.7 618.2 88.7 620.2 89.7 623.5 91.5 625.5 93.7 626.5 96.9 626.0 99.4 623.7 100.7 621.5 101.7 617.5 101.7 611.0 100.4 604.2 97.7 597.0ZM82.5 555.9 80.0 555.9 77.7 557.2 75.7 560.4 75.0 563.4 75.0 571.7 76.0 578.2 77.7 583.9 79.7 586.4 81.0 586.4 81.7 585.7 84.0 580.4 86.7 563.9 86.7 561.4 85.5 558.2ZM48.8 555.4 46.5 556.4 44.8 558.2 43.5 560.4 42.5 564.4 42.5 570.9 43.8 577.7 45.5 582.2 48.0 584.7 51.3 584.9 53.0 584.2 54.2 582.2 54.0 572.9 55.5 561.7 54.5 558.4 52.8 556.4 50.5 555.4Z"/>
<path fill-rule="evenodd" fill="#22a68c" d="M64.2 597.0 63.0 597.5 61.2 601.5 58.0 617.5 58.0 620.7 58.7 622.5 60.0 624.0 62.0 625.0 63.7 625.0 65.5 624.2 67.2 622.2 68.5 618.5 68.7 615.0 67.7 605.7 66.2 600.0ZM95.9 596.7 94.9 596.7 94.2 597.5 92.7 600.7 89.2 617.5 89.2 620.7 90.2 623.0 91.7 624.5 93.4 625.2 96.2 625.0 98.7 623.0 99.9 620.5 100.7 617.0 100.4 610.0 99.4 604.7 97.4 598.7ZM82.2 556.9 79.7 557.2 77.5 558.9 76.0 562.2 75.5 566.4 76.7 577.4 78.5 583.2 80.0 584.9 81.5 584.2 83.0 580.7 86.2 564.7 86.2 561.2 85.5 559.4 84.2 557.9ZM48.8 556.7 47.0 557.4 44.8 560.2 43.5 564.9 43.5 569.7 44.5 576.2 46.0 580.9 48.3 583.7 50.5 583.9 52.3 583.2 53.2 581.7 53.0 574.9 55.0 564.4 55.0 561.2 54.0 558.9 52.5 557.4 50.8 556.7Z"/>
<path fill-rule="evenodd" fill="#1ca798" d="M64.0 598.5 63.0 599.2 61.7 602.2 59.5 614.2 58.2 618.2 58.2 620.2 59.0 622.0 60.5 623.5 62.2 624.2 64.2 624.0 66.5 622.2 68.0 617.7 68.0 612.2 67.0 605.5 65.2 599.7ZM95.7 598.2 94.2 599.2 92.9 602.5 89.5 618.5 89.7 621.0 90.7 622.7 93.9 624.5 96.4 624.0 97.7 623.0 99.2 620.5 99.9 616.7 99.9 613.0 98.9 606.2 97.2 600.2ZM82.0 557.7 80.0 557.9 77.7 559.7 76.2 564.2 76.2 569.9 77.0 575.2 78.7 581.7 80.0 583.4 81.2 582.7 82.7 578.9 84.5 568.9 86.0 563.7 86.0 561.7 85.2 559.9 83.7 558.4ZM49.3 557.4 47.0 558.4 45.0 561.4 44.3 564.9 44.3 569.2 45.3 575.9 46.5 580.2 48.3 582.7 50.5 582.9 51.5 582.4 52.3 581.2 52.5 573.4 54.7 561.9 53.0 558.7 51.3 557.7Z"/>
<path fill-rule="evenodd" fill="#17a8a3" d="M64.2 600.2 63.5 600.2 62.2 602.7 60.2 613.2 58.7 617.7 58.7 620.5 59.2 621.5 62.0 623.5 63.7 623.5 65.2 622.7 66.7 620.7 67.5 618.0 67.0 608.5 65.7 603.0ZM95.7 599.7 94.4 600.5 93.4 603.0 91.7 612.2 90.0 618.0 90.0 620.5 91.5 622.7 93.4 623.7 96.4 623.2 98.2 621.2 99.2 618.2 98.7 608.2 96.9 601.5ZM82.2 558.4 80.5 558.4 79.0 559.2 77.5 561.2 76.7 563.9 77.2 573.4 79.0 580.4 80.2 581.9 81.0 581.4 82.2 578.4 84.0 568.9 85.7 562.7 85.0 560.4ZM49.0 558.2 47.8 558.7 45.5 561.7 44.8 566.9 45.5 573.9 47.0 579.7 48.5 581.9 50.0 582.2 51.0 581.4 51.5 579.9 52.0 572.9 54.2 564.2 54.2 561.4 52.0 558.7Z"/>
<path fill-rule="evenodd" fill="#11a9af" d="M64.2 601.7 63.2 602.2 62.2 604.7 60.7 613.0 59.0 618.2 59.2 620.7 60.5 622.2 62.0 623.0 64.7 622.5 66.0 621.2 67.0 618.5 66.7 610.0 65.7 605.0ZM95.7 601.2 94.7 601.7 93.4 605.0 91.9 613.2 90.2 618.5 90.2 620.0 91.0 621.5 93.7 623.2 95.7 623.0 97.7 621.2 98.9 616.0 97.7 606.0ZM82.2 558.9 79.5 559.4 78.2 560.7 77.2 563.4 77.7 573.4 78.7 577.9 80.2 580.4 81.7 578.2 83.5 568.9 85.2 563.7 85.0 561.2 83.7 559.7ZM50.5 558.7 48.5 558.9 46.5 560.7 45.3 565.7 46.5 576.2 47.5 579.4 48.8 581.2 49.8 581.2 50.5 580.2 52.3 568.7 54.0 563.4 54.0 561.9 53.2 560.4Z"/>
<path fill-rule="evenodd" fill="#0caaba" d="M64.2 603.2 63.2 603.7 62.5 605.7 61.0 613.7 59.2 619.2 60.2 621.5 62.0 622.5 64.7 622.0 66.0 620.5 66.7 617.7 66.2 609.5 65.5 606.0ZM95.4 602.5 94.2 604.2 91.9 615.0 90.7 618.0 91.2 621.2 93.7 622.7 95.7 622.5 97.2 621.2 98.4 617.5 97.7 608.2 96.4 603.7ZM82.2 559.4 79.5 559.9 78.2 561.4 77.5 564.2 78.0 572.4 79.5 578.2 80.2 578.9 82.0 575.4 83.2 568.2 85.0 562.9 84.0 560.4ZM50.5 559.2 49.0 559.2 47.0 560.7 45.8 564.4 45.8 568.4 47.0 576.2 49.0 580.2 49.8 579.7 52.0 567.9 53.5 563.9 53.0 560.7Z"/>
<path fill-rule="evenodd" fill="#09aac4" d="M64.2 604.7 63.2 605.2 61.0 615.2 59.7 618.2 60.0 620.5 61.2 621.7 62.7 622.2 64.5 621.7 65.5 620.7 66.5 617.0 65.7 609.0ZM95.7 604.0 94.9 604.2 93.9 606.7 92.4 614.5 91.0 618.5 91.2 620.5 93.4 622.2 96.2 621.7 97.9 618.5 97.7 610.7 96.7 606.0ZM81.5 559.7 79.7 560.2 78.7 561.2 77.7 564.9 78.5 572.9 79.2 575.9 80.2 577.4 81.5 575.4 83.2 566.7 84.5 563.7 84.2 561.4 83.0 560.2ZM50.8 559.7 48.0 560.2 46.3 563.4 46.5 571.4 48.5 578.4 49.3 578.4 50.0 576.7 51.5 568.4 53.2 563.4 53.0 561.4Z"/>
<path fill-rule="evenodd" fill="#07a9ce" d="M64.0 606.0 62.7 608.2 61.5 614.7 60.0 619.0 60.2 620.2 62.2 621.7 64.2 621.5 65.2 620.5 66.0 618.5 65.7 611.0 64.7 607.0ZM95.7 605.5 95.2 605.5 94.4 606.7 92.7 615.0 91.5 618.0 91.7 620.5 93.9 622.0 95.9 621.5 97.7 618.2 97.4 611.5ZM82.0 560.2 80.0 560.4 79.0 561.4 78.2 563.4 78.5 570.9 79.5 574.9 80.2 575.9 81.5 573.7 82.7 567.2 84.2 562.9 84.0 561.7ZM50.3 559.9 48.3 560.4 47.0 561.9 46.5 563.7 47.0 572.2 48.0 575.9 48.8 576.9 49.8 575.7 51.5 566.9 52.8 563.9 52.5 561.4Z"/>
<path fill-rule="evenodd" fill="#05a9d7" d="M64.0 607.5 63.0 609.0 62.0 614.2 60.5 618.2 60.7 620.2 62.7 621.5 64.0 621.2 65.2 620.0 65.7 618.5 65.5 611.7 64.7 608.5ZM95.4 606.7 94.2 609.2 93.2 614.5 91.7 618.5 91.9 620.2 93.4 621.5 95.7 621.2 96.7 620.2 97.4 618.0 96.9 610.5ZM81.5 560.4 80.2 560.7 79.0 561.9 78.5 563.4 78.5 568.7 79.2 572.7 80.2 574.4 81.2 572.9 82.7 565.9 83.7 563.7 83.5 561.7ZM50.8 560.4 48.5 560.7 47.5 561.7 46.8 563.9 47.3 571.4 48.0 574.4 48.8 575.4 49.8 573.9 51.0 567.4 52.5 563.4 52.3 561.7Z"/>
<path fill-rule="evenodd" fill="#02a8e1" d="M64.0 609.0 63.0 610.5 60.7 619.0 61.0 620.0 62.2 621.0 64.2 620.7 65.5 618.5 65.5 613.7 65.0 611.0ZM95.7 608.2 95.2 608.2 92.2 618.0 92.2 620.0 93.9 621.2 96.2 620.5 97.2 617.7 96.9 612.5ZM82.0 560.9 80.0 561.2 78.7 563.4 78.7 568.2 80.0 572.9 81.0 572.2 83.5 562.9 83.2 561.9ZM50.3 560.7 48.5 560.9 47.0 563.9 47.5 570.9 48.8 573.9 50.0 571.4 51.0 566.2 52.0 563.9 52.0 561.9Z"/>
<path fill-rule="evenodd" fill="#00a8ea" d="M64.2 610.5 63.2 611.2 61.2 618.2 61.2 619.5 62.5 620.7 64.0 620.5 65.2 618.2 65.2 614.2ZM95.7 609.7 94.9 610.0 92.4 618.5 92.7 620.0 94.2 621.0 96.2 620.0 96.9 617.7 96.7 613.0ZM81.7 561.2 80.2 561.4 79.0 563.4 79.0 567.7 80.2 571.7 81.0 570.7 83.0 563.7 83.0 562.4ZM50.0 560.9 48.0 561.9 47.3 564.2 47.5 568.9 48.8 572.4 49.5 571.4 51.8 563.4 51.5 561.9Z"/>
<path fill-rule="evenodd" fill="#0993e3" d="M64.0 611.7 63.2 612.7 61.7 617.7 61.7 619.5 62.5 620.2 64.2 620.0 65.0 618.2 65.0 614.7ZM95.4 611.0 94.7 612.0 92.9 618.0 92.9 619.7 93.9 620.5 95.7 620.2 96.7 617.7 96.4 613.5ZM81.2 561.4 80.0 561.9 79.2 563.7 79.2 567.2 80.2 570.2 81.0 569.2 82.5 564.2 82.5 562.4ZM50.3 561.4 48.5 561.7 47.5 564.2 47.5 566.9 48.5 570.9 49.3 570.7 51.3 563.9 51.3 562.2Z"/>
<path fill-rule="evenodd" fill="#137ad7" d="M64.0 613.2 62.0 618.5 62.7 620.0 64.0 619.7 64.7 618.2 64.7 615.2ZM95.4 612.5 94.9 612.7 93.2 618.5 93.4 619.7 94.2 620.2 95.9 619.5 96.4 617.7 96.2 614.0ZM81.5 561.9 80.2 562.2 79.5 563.7 79.5 566.7 80.2 568.7 82.2 563.4ZM50.0 561.7 48.3 562.4 47.8 564.2 48.0 567.9 48.8 569.7 49.5 568.7 51.0 563.4 50.8 562.2Z"/>
<path fill-rule="evenodd" fill="#1e60cb" d="M64.0 614.7 62.5 618.0 63.0 619.5 64.0 619.2 64.5 618.0ZM95.4 613.7 93.7 618.0 94.2 619.7 95.2 619.7 95.9 618.7 96.2 616.2ZM81.2 562.4 80.5 562.4 79.7 563.9 80.2 567.2 81.0 566.4 81.7 563.9ZM50.0 562.2 49.0 562.2 48.0 564.2 48.8 568.2 50.5 563.9Z"/>
<path fill-rule="evenodd" fill="#2847bf" d="M63.7 616.5 63.0 618.2 63.2 618.7 64.0 618.2ZM95.2 615.2 94.2 617.7 94.4 619.2 95.2 619.2 95.7 618.5 95.7 615.7ZM81.0 563.2 80.2 563.7 80.5 565.4 81.2 563.7ZM49.8 562.7 49.0 562.7 48.5 563.4 48.8 566.7 49.8 565.2Z"/>
<path fill-rule="evenodd" fill="#283cb0" d="M95.2 617.2 94.9 617.5 94.9 617.7 94.9 618.0 94.9 618.2 95.2 618.0 95.2 617.7 95.2 617.5ZM49.3 563.7 49.0 563.9 49.0 564.2 49.0 564.4 49.0 564.7 49.3 564.4 49.3 564.2 49.3 563.9Z"/>
<path d="M48.43 561.73 L64.44 561.73 L64.44 620.17 L48.43 620.17 L48.43 598.95 L54.00 598.95 L54.00 582.20 L48.43 582.20 Z M79.76 561.73 L95.77 561.73 L95.77 620.17 L79.76 620.17 Z" fill="none" stroke="#262626" stroke-width="0.85" stroke-dasharray="1.8 2"/>
<rect x="112.50" y="543.40" width="2.10" height="95.30" fill="url(#cb)"/>
</g>
<g>
<rect x="143.00" y="543.50" width="76.80" height="94.70" fill="#5cb54c"/>
<path fill-rule="evenodd" fill="#62b749" d="M143.1 543.9 143.1 583.1 147.4 587.1 153.1 589.4 161.6 590.4 174.4 590.4 179.9 589.6 186.9 590.4 206.7 590.4 214.7 588.4 219.7 585.1 219.7 543.6Z"/>
<path fill-rule="evenodd" fill="#73bd43" d="M147.6 554.9 145.9 560.1 145.1 565.1 145.1 569.9 145.9 574.6 147.4 579.1 149.9 583.6 152.4 586.1 156.6 588.4 162.6 589.6 167.1 588.9 174.1 589.4 178.1 587.9 181.7 587.6 189.4 589.9 195.4 588.6 205.9 589.6 210.2 587.6 214.4 583.6 216.4 580.1 218.7 573.9 219.4 565.1 217.9 556.6 214.2 548.9 208.9 543.6 157.9 543.6 150.6 549.9Z"/>
<path fill-rule="evenodd" fill="#88c43b" d="M212.9 554.1 210.7 550.9 205.9 546.6 203.4 545.4 198.7 544.1 190.4 544.1 179.9 547.1 173.4 546.4 165.6 546.4 159.9 547.6 156.6 549.4 153.6 552.1 151.4 555.1 149.1 560.4 148.1 568.6 148.6 573.6 150.4 579.4 151.9 582.4 154.4 585.4 157.6 587.4 162.9 588.9 164.4 588.9 168.4 587.4 174.1 588.4 179.1 585.6 182.7 585.9 188.9 589.1 196.4 587.1 199.4 587.4 204.4 589.1 205.7 588.9 208.7 586.9 211.4 583.9 213.7 579.6 215.4 574.4 215.9 571.4 215.9 563.6 214.9 558.9Z"/>
<path fill-rule="evenodd" fill="#9ecc33" d="M212.4 558.1 209.7 553.4 205.7 549.6 202.7 548.1 198.4 547.1 190.9 547.4 180.9 551.4 177.6 551.4 172.9 549.9 163.6 549.6 160.4 550.4 156.6 552.4 152.6 557.1 151.1 560.6 150.1 565.9 150.1 570.4 150.6 574.1 152.4 579.9 154.1 583.1 156.4 585.4 163.1 588.1 168.6 585.9 173.9 587.4 179.6 583.4 181.4 583.4 183.4 584.4 188.9 588.4 190.2 588.4 193.9 586.4 197.2 585.6 199.7 586.1 204.2 588.4 205.4 588.1 207.2 586.9 210.7 582.1 213.7 573.4 214.2 567.9 213.9 564.1Z"/>
<path fill-rule="evenodd" fill="#b3d32c" d="M210.7 557.9 209.2 555.4 205.7 551.9 202.2 550.1 198.9 549.4 192.9 549.4 190.4 549.9 180.9 554.9 178.9 554.9 172.9 552.4 167.9 551.6 164.4 551.6 159.9 552.6 157.1 554.1 154.4 557.1 151.9 563.1 151.6 571.6 153.4 579.1 154.6 581.9 157.1 584.9 162.6 587.1 164.4 587.1 168.4 584.4 170.1 584.6 173.4 586.4 178.4 581.6 179.6 580.9 181.1 580.9 183.2 582.1 188.9 587.6 190.2 587.6 193.4 585.4 195.9 584.4 198.4 584.4 203.7 587.4 205.2 587.4 208.7 583.4 210.4 579.6 212.2 573.6 212.7 565.9 212.2 562.4Z"/>
<path fill-rule="evenodd" fill="#c8dc22" d="M210.2 559.6 208.2 556.1 205.4 553.4 201.7 551.6 197.7 550.9 192.9 551.1 189.2 552.1 180.9 557.9 179.4 557.9 173.4 554.4 168.6 553.4 163.1 553.4 159.4 554.4 155.4 557.6 153.9 560.1 152.9 563.4 152.6 571.1 154.4 579.1 155.9 582.4 157.4 584.1 162.9 586.4 164.4 586.1 167.4 583.1 168.6 582.6 173.6 585.1 179.1 578.4 181.1 578.1 183.7 580.4 187.9 586.1 189.2 586.9 190.9 586.4 193.2 584.4 196.4 582.9 198.7 583.1 202.9 586.1 205.2 586.6 208.7 581.4 211.2 573.1 211.4 564.4Z"/>
<path fill-rule="evenodd" fill="#dce616" d="M209.4 560.1 205.9 555.1 202.9 553.4 199.2 552.4 193.4 552.4 189.7 553.4 186.2 555.6 182.7 559.6 180.6 561.1 179.1 560.6 174.4 556.4 171.9 555.4 167.6 554.6 163.4 554.6 159.4 555.6 155.9 558.4 153.6 563.9 153.6 572.4 155.6 580.4 157.9 583.6 162.6 585.4 164.4 585.1 166.6 581.6 167.9 580.6 169.9 581.1 172.6 583.9 173.6 583.9 175.1 582.1 178.6 575.6 179.6 574.9 181.1 574.9 182.9 576.6 187.2 584.1 189.4 586.1 196.2 581.4 197.9 581.4 199.7 582.1 203.2 585.4 204.9 585.9 207.4 582.4 210.2 573.6 210.7 565.6Z"/>
<path fill-rule="evenodd" fill="#eff00a" d="M208.7 560.1 205.4 555.9 202.7 554.4 198.2 553.4 191.7 553.9 188.2 555.4 185.7 557.6 181.1 565.6 180.4 566.1 176.6 559.9 174.4 557.6 172.9 556.9 166.1 555.6 161.9 555.9 159.4 556.6 157.6 557.6 155.9 559.6 154.6 562.4 154.1 565.1 154.4 572.6 156.1 580.1 157.1 582.1 158.6 583.4 163.4 584.6 165.1 582.6 166.1 578.9 168.1 577.9 173.4 582.6 174.6 581.4 179.4 570.6 180.6 569.6 187.4 583.4 188.9 585.1 190.2 585.1 193.7 581.4 196.2 579.9 198.9 580.1 203.4 584.6 204.9 584.9 207.2 581.4 209.7 572.1 209.9 565.4Z"/>
<path fill-rule="evenodd" fill="#fff501" d="M173.1 557.9 167.1 556.6 162.6 556.6 158.1 558.1 155.9 560.6 154.6 565.9 154.9 571.6 156.4 579.1 158.1 582.4 160.9 583.4 163.6 583.4 164.4 582.1 164.4 576.9 165.9 575.1 168.4 575.4 172.9 581.1 174.1 580.6 177.4 571.9 177.9 565.9 176.4 561.1 175.4 559.6ZM188.7 556.1 185.2 559.9 183.2 565.4 183.2 570.1 183.9 573.4 187.7 582.6 189.2 584.4 189.9 584.4 194.9 578.9 197.7 578.1 199.7 579.1 203.7 583.9 205.2 583.9 207.7 578.1 209.2 571.1 209.2 564.1 207.4 559.1 204.4 556.1 200.4 554.6 194.2 554.4Z"/>
<path fill-rule="evenodd" fill="#ffe603" d="M172.4 558.4 168.9 557.6 162.6 557.4 159.4 558.1 156.6 560.4 155.1 565.6 155.4 571.4 156.9 579.1 158.6 581.9 161.4 582.6 163.1 582.1 163.4 580.6 162.6 578.6 162.6 576.1 163.4 574.6 165.9 572.6 168.6 573.4 172.9 579.6 174.1 578.9 176.4 572.1 176.9 565.4 175.6 561.1 173.9 559.1ZM189.7 556.4 186.2 559.6 184.2 565.4 184.7 572.6 188.2 582.4 189.2 583.4 190.4 583.1 192.9 579.4 195.2 577.1 197.9 576.6 200.9 578.9 203.7 582.9 205.2 582.9 206.9 578.9 208.7 570.6 208.7 564.4 206.9 559.4 204.4 556.9 199.9 555.4 195.2 555.1Z"/>
<path fill-rule="evenodd" fill="#ffd806" d="M173.1 559.4 169.4 558.4 161.9 558.1 158.6 559.1 156.6 561.1 155.6 564.9 155.9 571.6 157.1 578.1 157.9 580.1 158.9 581.1 161.1 581.4 161.6 580.9 161.1 579.1 161.6 574.9 162.6 572.9 165.4 570.6 168.1 570.9 170.4 573.4 172.4 577.4 173.6 577.9 175.9 571.1 176.1 564.6 175.1 561.4ZM189.2 557.4 186.4 560.4 184.9 565.1 185.4 572.9 188.4 581.6 189.2 582.4 190.4 582.1 193.2 577.6 195.2 575.6 198.2 575.1 200.9 577.4 202.9 580.9 204.7 582.1 206.7 578.1 208.2 570.6 208.2 564.1 206.7 559.9 204.4 557.6 200.2 556.1 194.9 555.9Z"/>
<path fill-rule="evenodd" fill="#ffc908" d="M173.4 560.1 168.4 558.9 162.6 558.6 159.1 559.4 157.6 560.4 156.1 563.9 156.1 570.1 157.6 577.9 158.9 579.6 159.6 579.1 160.4 575.4 162.1 571.4 163.4 569.9 165.6 568.9 168.6 569.4 170.6 571.6 172.6 575.9 173.4 576.1 173.9 575.6 175.4 570.4 175.6 564.9 174.9 561.9ZM188.7 558.4 186.7 560.9 185.4 565.9 186.2 573.6 188.7 580.9 189.9 581.4 193.2 576.1 196.2 573.9 198.2 573.9 199.7 574.6 201.4 576.6 203.4 580.4 204.2 581.1 204.9 580.9 206.7 576.4 207.9 568.6 207.7 563.4 206.4 560.1 203.4 557.6 199.2 556.6 193.9 556.6Z"/>
<path fill-rule="evenodd" fill="#ffb90b" d="M173.6 560.9 171.4 559.9 163.1 559.1 159.1 559.9 157.4 561.4 156.4 564.4 156.4 568.6 157.1 573.9 158.4 577.1 159.4 576.4 161.6 570.1 163.4 568.4 165.4 567.6 169.1 568.1 170.9 570.1 172.4 573.9 173.1 574.6 173.6 574.4 175.1 568.4 175.1 564.4ZM189.2 558.6 186.9 561.4 185.9 565.6 186.7 573.6 188.9 580.1 189.9 580.4 190.7 579.6 192.9 575.1 195.2 572.9 196.4 572.4 199.2 572.9 201.7 575.6 203.2 578.9 204.7 579.9 205.9 577.6 207.4 569.9 207.4 564.1 205.9 560.1 202.7 557.9 198.2 557.1 192.7 557.4Z"/>
<path fill-rule="evenodd" fill="#ffa30e" d="M157.4 561.9 156.6 566.9 158.1 574.9 158.9 574.9 161.1 569.1 162.9 567.4 165.1 566.6 169.4 566.9 170.9 568.4 172.6 572.4 173.6 572.4 174.6 568.4 174.6 563.9 173.1 561.1 171.4 560.4 162.6 559.6 159.6 560.1ZM189.2 559.1 187.9 560.4 186.4 564.6 186.7 571.1 188.7 578.6 189.4 579.4 190.2 579.1 192.4 574.6 194.7 571.9 196.2 571.1 198.2 571.1 200.7 572.9 203.2 577.6 204.4 578.9 205.9 576.1 207.2 568.9 207.2 564.6 205.9 560.6 203.4 558.6 197.7 557.6 192.7 557.9Z"/>
<path fill-rule="evenodd" fill="#ff8d12" d="M157.6 562.1 157.1 563.6 157.1 568.6 158.4 572.9 159.1 572.4 161.1 567.6 164.4 565.9 169.6 565.9 171.1 567.1 173.1 570.6 173.6 570.1 174.4 565.1 173.9 562.6 173.1 561.6 169.4 560.6 162.1 560.1 159.4 560.6ZM189.2 559.6 187.4 562.1 186.7 566.1 187.4 573.1 189.2 578.1 190.4 577.6 193.2 572.1 194.7 570.6 196.4 569.9 199.7 570.6 204.4 577.6 205.9 574.6 206.9 567.9 206.7 563.4 205.7 560.9 202.9 558.9 198.2 558.1 192.4 558.4Z"/>
<path fill-rule="evenodd" fill="#fd7114" d="M157.9 562.4 157.4 567.1 157.9 569.9 158.6 570.9 160.4 567.4 161.9 565.9 165.6 564.9 170.4 565.1 172.6 568.1 173.4 568.1 173.9 564.4 172.6 561.9 161.4 560.6 159.4 561.1ZM189.4 559.9 188.2 561.1 187.2 564.1 187.4 571.1 189.2 576.9 189.7 577.1 190.4 576.4 192.9 571.1 194.4 569.6 196.4 568.9 198.2 568.9 199.9 569.6 204.4 576.4 205.9 573.1 206.7 567.1 206.4 563.4 205.2 560.6 203.2 559.4 199.2 558.6 191.9 558.9Z"/>
<path fill-rule="evenodd" fill="#f64814" d="M157.9 563.4 157.9 567.1 158.4 568.6 161.1 565.4 163.1 564.6 169.9 563.9 172.6 565.9 173.1 565.6 173.1 563.6 171.4 562.1 161.1 561.1 158.9 561.9ZM188.4 561.4 187.4 564.4 187.4 568.4 188.4 574.1 189.4 575.9 190.9 574.4 193.2 569.6 195.7 568.1 198.9 568.1 200.4 568.9 201.7 570.4 204.2 575.1 204.9 574.6 205.7 572.6 206.4 565.9 205.7 561.9 204.4 560.4 200.2 559.1 192.9 559.1 190.7 559.6Z"/>
<path fill-rule="evenodd" fill="#f02014" d="M166.1 562.4 162.9 561.6 159.4 562.1 158.4 563.4 158.4 566.1 159.1 566.4 161.9 564.1 165.4 563.4ZM188.7 561.4 187.7 564.6 187.7 567.9 188.4 572.6 189.4 574.6 190.7 573.6 192.7 569.1 195.2 567.4 196.9 567.1 200.7 568.1 202.2 569.9 204.2 573.9 204.9 573.4 205.9 569.1 205.9 563.4 204.2 560.6 201.2 559.6 194.7 559.4 190.9 559.9Z"/>
<path fill-rule="evenodd" fill="#d8170f" d="M161.9 562.9 159.6 562.9 159.1 564.1ZM188.7 561.9 187.9 564.6 188.4 570.9 189.4 573.4 190.2 573.1 192.4 568.4 193.4 567.4 195.4 566.6 199.2 566.6 200.9 567.4 202.4 569.1 204.2 572.6 204.7 572.4 205.7 568.9 205.7 563.4 204.9 561.6 203.7 560.6 200.4 559.9 192.7 559.9 189.9 560.6Z"/>
<path fill-rule="evenodd" fill="#bf0f0a" d="M189.2 561.6 188.4 563.1 188.2 566.9 189.4 572.1 190.2 571.9 192.7 567.1 196.2 565.9 200.7 566.4 202.2 567.6 204.2 571.1 204.7 570.9 205.4 568.4 205.4 563.4 203.9 561.1 201.7 560.4 194.2 560.1 190.7 560.6Z"/>
<path fill-rule="evenodd" fill="#a50805" d="M188.9 562.6 188.4 566.1 189.7 570.9 192.9 566.1 195.4 565.4 200.4 565.6 202.7 567.4 203.9 569.6 204.7 569.4 205.2 567.6 205.2 563.4 204.4 561.9 203.2 561.1 200.7 560.6 192.2 560.6 189.9 561.4Z"/>
<path fill-rule="evenodd" fill="#8c0000" d="M189.2 562.6 188.9 567.6 189.7 569.4 192.2 565.9 194.9 564.9 200.9 565.1 201.9 565.6 203.9 568.1 204.7 567.6 204.9 563.6 204.4 562.4 202.9 561.4 193.4 560.9 190.7 561.4Z"/>
<path fill-rule="evenodd" fill="#4eb25c" d="M143.1 598.3 143.4 638.1 219.7 638.1 219.7 596.6 216.7 594.3 211.9 592.3 206.7 591.3 187.2 591.3 181.9 592.1 173.9 591.3 159.1 591.3 153.1 592.1 149.4 593.3 146.4 595.1Z"/>
<path fill-rule="evenodd" fill="#3fae6c" d="M215.4 599.6 211.2 594.8 205.9 592.1 195.2 593.1 189.4 591.8 181.9 594.1 179.1 594.1 174.1 592.3 168.6 593.1 164.6 592.1 162.1 592.1 155.9 593.3 153.4 594.6 149.9 597.8 147.6 601.8 145.9 607.1 145.1 611.8 145.1 616.6 145.9 621.6 147.4 626.3 150.6 631.8 153.6 634.8 158.1 638.1 208.9 638.1 213.4 633.8 215.4 630.8 217.4 626.6 218.9 620.8 219.4 616.6 219.2 610.3 218.4 607.1Z"/>
<path fill-rule="evenodd" fill="#30aa7c" d="M211.9 598.6 208.7 594.8 204.7 592.6 197.9 594.6 194.9 594.3 190.2 592.6 188.9 592.6 180.9 596.3 177.6 595.6 173.9 593.3 167.9 594.3 164.4 592.8 162.6 592.8 157.6 594.1 155.6 595.1 152.9 597.6 150.6 601.6 148.4 609.8 148.4 617.3 150.1 624.1 152.4 628.1 156.6 632.3 162.4 634.8 173.1 635.3 180.1 634.6 189.2 637.3 193.9 637.8 198.7 637.6 203.4 636.3 208.4 633.1 211.7 629.6 213.9 625.6 215.9 618.1 215.7 608.6 213.7 602.1Z"/>
<path fill-rule="evenodd" fill="#22a68c" d="M210.7 599.6 207.2 594.8 204.7 593.3 199.7 595.6 197.2 596.1 193.9 595.3 190.9 593.6 188.9 593.3 181.4 598.3 179.4 598.3 173.6 594.3 169.6 595.8 167.4 595.6 163.9 593.6 157.9 595.1 155.4 596.8 153.4 599.6 150.6 607.6 150.1 615.6 151.4 621.8 153.6 626.1 156.4 629.1 158.6 630.6 162.4 631.8 169.9 632.1 173.9 631.6 177.6 630.3 181.1 630.3 190.9 634.3 198.4 634.6 202.7 633.6 205.7 632.1 209.7 628.3 212.4 623.6 213.4 620.3 214.2 613.8 213.9 610.1 212.4 603.8Z"/>
<path fill-rule="evenodd" fill="#1ca798" d="M209.9 600.8 206.9 595.8 204.4 594.1 198.4 597.3 194.9 597.1 191.2 594.6 188.9 594.1 182.9 599.8 181.1 600.8 178.6 600.3 173.9 595.6 172.6 595.6 169.6 597.3 166.9 596.8 164.4 594.6 162.4 594.6 158.4 595.8 154.9 599.1 152.1 607.1 151.6 616.8 152.9 621.8 154.4 624.6 157.1 627.6 162.6 629.8 167.9 630.1 171.9 629.6 178.9 626.8 180.9 626.8 190.4 631.8 198.9 632.3 202.2 631.6 205.7 629.8 209.2 626.3 211.7 621.3 212.7 615.8 212.7 611.8 212.2 608.1Z"/>
<path fill-rule="evenodd" fill="#17a8a3" d="M208.7 600.3 205.2 595.1 202.9 595.6 198.7 598.6 196.4 598.8 193.2 597.3 190.9 595.3 189.2 594.8 186.4 597.3 183.7 601.3 181.4 603.6 180.1 603.8 177.4 601.6 174.6 597.3 173.4 596.6 169.4 599.1 167.6 599.1 163.9 595.3 159.1 596.3 156.1 598.6 153.6 605.1 152.6 610.8 152.6 616.6 153.6 620.8 155.4 624.1 157.6 626.3 163.1 628.3 171.6 627.8 174.9 626.6 178.6 624.1 181.1 623.8 186.9 628.3 190.7 630.1 197.7 630.8 202.4 629.8 205.4 628.3 208.2 625.6 210.2 622.1 211.2 618.8 211.4 610.3Z"/>
<path fill-rule="evenodd" fill="#11a9af" d="M207.4 599.3 206.2 597.1 204.9 595.8 204.2 595.8 199.7 599.6 197.9 600.3 196.2 600.3 189.4 595.6 187.2 597.6 182.4 605.8 181.1 606.8 179.6 606.8 178.4 605.8 175.1 599.6 173.6 597.8 172.4 598.1 169.4 601.1 167.9 601.6 166.6 600.8 165.1 597.6 163.9 596.3 159.1 597.1 157.1 598.3 155.6 601.1 153.9 607.8 153.4 615.8 154.4 620.6 155.9 623.3 157.6 625.1 159.4 626.1 163.4 627.1 167.6 627.1 173.4 625.8 176.4 623.8 179.1 621.1 180.6 620.6 181.7 621.1 186.2 626.1 189.7 628.3 193.4 629.3 199.2 629.3 202.9 628.3 205.9 626.6 207.9 624.3 209.4 621.6 210.4 618.1 210.4 609.6Z"/>
<path fill-rule="evenodd" fill="#0caaba" d="M207.2 600.3 205.4 597.1 203.9 596.8 198.9 601.6 195.9 601.8 193.9 600.6 190.2 596.6 188.9 596.6 187.4 598.3 181.7 610.8 180.1 612.1 176.9 606.1 174.6 600.3 173.4 599.1 171.6 600.3 169.1 603.6 166.9 604.3 165.1 602.6 164.6 598.6 163.6 597.3 162.4 597.1 158.9 597.8 157.1 599.3 156.4 600.8 154.6 607.8 154.1 616.6 154.9 620.1 156.4 622.8 159.4 625.1 164.4 626.1 170.1 625.6 174.4 624.1 176.6 621.8 179.1 617.1 180.6 615.6 184.9 623.1 188.2 626.3 191.7 627.8 194.7 628.3 198.2 628.3 202.7 627.3 205.4 625.8 206.9 624.3 208.7 621.6 209.7 618.1 209.7 609.6Z"/>
<path fill-rule="evenodd" fill="#09aac4" d="M158.4 598.8 156.4 602.6 154.6 613.1 154.9 617.8 156.4 621.8 158.1 623.6 162.9 625.1 167.1 625.1 173.1 623.8 174.6 622.8 176.4 620.6 177.9 615.6 177.6 611.1 174.4 601.6 172.9 600.6 169.9 605.1 168.4 606.6 166.4 607.1 164.9 606.6 163.9 605.3 163.4 603.8 163.6 598.8 162.9 598.1ZM189.2 597.3 187.7 599.1 183.2 611.6 183.2 616.3 185.2 621.8 188.7 625.6 192.7 627.1 198.7 627.3 204.4 625.6 207.4 622.6 209.2 617.6 208.9 608.8 205.9 598.8 204.7 597.6 203.7 597.8 199.7 602.6 196.7 603.6 194.9 602.8 190.7 597.8Z"/>
<path fill-rule="evenodd" fill="#07a9ce" d="M158.9 599.3 156.9 602.6 155.4 610.6 155.4 618.1 156.6 621.3 159.4 623.6 162.9 624.3 168.9 624.1 173.9 622.6 175.9 620.1 176.9 616.3 176.1 608.6 174.1 602.8 173.1 602.1 171.6 603.8 170.4 606.6 168.1 608.8 165.9 609.3 164.6 608.8 162.1 605.6 161.9 601.8 162.4 599.6 161.4 599.1ZM189.2 598.3 188.2 599.3 186.7 602.8 184.2 611.8 184.2 616.3 186.2 622.1 188.4 624.6 193.2 626.3 199.9 626.3 204.4 624.8 206.9 622.3 208.7 617.3 208.2 607.8 205.7 599.6 204.7 598.6 203.7 598.8 199.4 604.3 197.9 605.1 196.2 605.1 192.9 602.3 190.4 598.6Z"/>
<path fill-rule="evenodd" fill="#05a9d7" d="M158.9 600.6 157.9 601.6 156.9 604.6 155.6 612.8 155.9 618.6 157.1 621.3 159.6 623.1 161.9 623.6 169.1 623.3 171.9 622.8 173.9 621.8 175.4 619.8 176.1 617.1 175.9 610.8 173.9 604.3 173.4 603.8 172.6 604.1 169.9 609.3 168.4 610.8 165.6 611.3 164.4 610.8 162.4 608.8 161.1 606.3 160.4 601.3 159.9 600.6ZM189.2 599.3 187.4 602.3 184.9 611.8 184.9 616.6 186.4 621.3 187.7 623.1 189.7 624.6 192.9 625.6 200.2 625.6 204.4 624.1 206.7 621.8 208.2 617.6 207.9 609.3 205.4 600.3 204.2 599.6 199.2 606.1 196.2 606.6 193.2 604.1 190.4 599.6Z"/>
<path fill-rule="evenodd" fill="#02a8e1" d="M158.6 602.6 157.4 604.8 156.1 611.8 156.1 617.8 157.6 621.3 159.1 622.3 162.6 623.1 170.1 622.6 173.4 621.6 175.1 619.1 175.6 616.8 175.4 611.3 173.9 606.1 173.4 605.6 172.6 605.8 170.4 610.6 169.1 612.1 167.6 612.8 165.1 612.8 163.6 612.1 161.6 609.8 159.6 603.8ZM189.2 600.3 187.9 602.3 185.7 610.8 185.4 615.8 186.7 620.8 188.7 623.3 192.4 624.8 199.2 625.1 203.9 623.8 206.4 621.6 207.9 616.3 207.4 608.8 205.2 601.1 204.2 600.6 203.4 601.3 201.4 605.1 199.7 607.1 198.2 607.8 195.9 607.8 193.2 605.6 190.9 601.3 189.9 600.3Z"/>
<path fill-rule="evenodd" fill="#00a8ea" d="M158.4 604.8 157.1 607.8 156.4 613.3 156.4 617.3 157.4 620.3 159.1 621.8 163.6 622.6 172.9 621.3 174.4 619.8 175.1 617.3 174.9 611.6 173.9 607.8 173.4 607.3 172.6 607.6 170.6 612.1 168.9 613.8 165.1 614.1 163.6 613.6 161.9 612.1 159.4 605.8ZM189.2 601.3 186.9 607.1 185.9 613.1 186.2 617.8 187.7 621.6 190.7 623.8 194.9 624.6 200.4 624.3 204.7 622.8 206.4 620.8 207.4 617.6 207.2 609.8 205.2 602.3 204.2 601.8 203.2 602.8 201.7 606.1 199.2 608.8 196.4 609.3 195.2 608.8 192.9 606.6 190.4 601.8Z"/>
<path fill-rule="evenodd" fill="#0993e3" d="M158.1 607.1 157.1 610.3 156.6 616.3 157.1 619.1 158.6 621.1 163.1 622.1 172.1 621.1 173.9 619.8 174.6 617.8 174.6 613.3 173.4 609.1 172.6 609.6 170.1 614.3 168.9 615.1 166.6 615.3 162.4 614.1 161.1 612.6 158.9 607.1ZM189.4 602.3 187.9 605.1 186.4 612.6 186.4 617.1 187.9 621.3 190.7 623.3 195.4 624.1 201.9 623.6 204.7 622.3 206.7 619.6 207.2 617.1 206.7 608.8 205.2 603.6 204.4 602.8 203.7 603.3 201.7 607.3 199.7 609.8 198.2 610.6 196.2 610.6 193.4 608.6 190.7 603.3Z"/>
<path fill-rule="evenodd" fill="#137ad7" d="M157.9 609.6 157.1 613.3 157.1 618.1 157.6 619.6 158.9 620.8 162.1 621.6 172.1 620.6 173.9 619.1 174.4 615.8 173.9 612.3 173.1 611.1 170.1 615.6 168.9 616.1 165.6 616.1 161.9 614.8 160.9 613.8 158.6 609.1ZM189.2 603.6 187.4 608.6 186.7 614.6 186.9 617.8 188.2 621.1 189.9 622.6 194.9 623.6 200.7 623.3 204.4 622.1 206.4 619.3 206.9 616.6 206.7 611.1 205.2 604.8 204.4 604.1 203.7 604.6 201.4 609.1 199.7 611.1 196.4 611.8 194.7 611.1 193.2 609.6 190.4 604.1Z"/>
<path fill-rule="evenodd" fill="#1e60cb" d="M158.1 611.3 157.4 614.6 157.4 617.6 157.9 619.3 158.9 620.3 161.6 621.1 170.9 620.3 173.4 619.1 173.9 615.8 173.1 613.6 170.4 616.6 168.4 617.1 165.4 616.8 161.1 615.3 158.6 611.1ZM189.4 604.6 188.2 607.1 187.2 612.6 187.2 617.6 188.2 620.6 190.9 622.6 193.9 623.1 201.2 622.8 204.9 621.3 206.2 619.3 206.7 616.3 206.2 610.1 204.9 605.8 204.4 605.3 203.7 605.8 201.7 610.1 199.9 612.1 198.2 612.8 196.4 612.8 194.4 612.1 192.9 610.6 190.4 605.3Z"/>
<path fill-rule="evenodd" fill="#2847bf" d="M157.9 614.6 157.9 618.3 158.4 619.3 159.9 620.3 164.1 620.6 172.1 619.3 173.1 618.1 172.9 615.8 169.9 617.8 166.6 617.8 161.1 616.3 158.6 613.1ZM189.2 606.1 187.7 611.3 187.4 617.3 188.4 620.3 189.7 621.6 192.9 622.6 200.2 622.6 202.9 622.1 205.2 620.6 206.2 618.3 206.4 615.6 205.7 609.1 204.4 606.6 203.2 607.8 201.7 611.3 200.4 612.8 198.9 613.6 195.7 613.6 193.2 612.1 190.9 607.3 189.7 605.8Z"/>
<path fill-rule="evenodd" fill="#283cb0" d="M158.4 615.8 158.4 618.3 159.4 619.6 162.4 620.1 166.1 619.1 165.4 618.3 160.4 616.8 158.9 615.3ZM188.9 607.6 187.9 611.8 187.7 617.1 188.2 619.3 189.4 621.1 192.2 622.1 198.2 622.3 202.4 621.8 205.2 620.1 205.9 618.3 205.9 612.6 205.2 608.8 204.4 607.8 203.7 608.3 202.2 611.8 200.7 613.6 196.9 614.6 193.7 613.6 192.2 611.8 190.2 607.3 189.4 607.1Z"/>
<path fill-rule="evenodd" fill="#2831a2" d="M159.1 617.8 159.9 618.8 161.6 618.8 159.6 617.6ZM189.2 608.6 188.2 612.3 187.9 617.1 188.4 619.3 189.9 621.1 192.7 621.8 200.4 621.8 203.7 621.1 204.9 620.1 205.7 618.3 205.7 612.8 204.4 609.1 200.9 614.3 199.2 615.1 195.4 615.1 193.4 614.3 192.4 613.3 190.2 608.6Z"/>
<path fill-rule="evenodd" fill="#272792" d="M189.4 609.6 188.4 612.8 188.2 617.1 189.2 620.1 190.2 620.8 194.2 621.6 201.7 621.3 203.9 620.6 204.9 619.6 205.4 618.3 205.4 613.3 204.4 610.6 203.7 611.1 202.2 614.1 200.7 615.3 196.2 615.8 192.7 614.6 190.2 609.8Z"/>
<path fill-rule="evenodd" fill="#211f80" d="M189.2 611.6 188.4 615.6 188.7 618.3 189.2 619.6 190.9 620.8 200.7 621.1 203.2 620.6 204.9 619.1 205.2 614.1 204.4 612.1 203.9 612.1 202.7 614.3 200.4 616.1 195.4 616.3 192.9 615.6 191.2 613.6 190.4 611.6 189.7 610.8Z"/>
<path fill-rule="evenodd" fill="#1c186e" d="M189.2 613.1 188.9 618.3 190.7 620.3 193.4 620.8 201.9 620.6 203.9 619.8 204.7 618.8 204.9 615.1 204.4 613.6 200.9 616.6 194.9 616.8 192.2 615.8 189.9 612.3Z"/>
<path d="M157.92 561.81 L173.80 561.81 L173.80 619.89 L157.92 619.89 L157.92 598.80 L163.44 598.80 L163.44 582.16 L157.92 582.16 Z M189.00 561.81 L204.88 561.81 L204.88 619.89 L189.00 619.89 Z" fill="none" stroke="#262626" stroke-width="0.85" stroke-dasharray="1.8 2"/>
<rect x="221.70" y="543.40" width="2.30" height="95.30" fill="url(#cb)"/>
</g>
<g>
<rect x="251.10" y="544.30" width="74.90" height="95.00" fill="#5cb54c"/>
<path fill-rule="evenodd" fill="#62b749" d="M291.9 593.4 290.4 595.4 289.7 599.4 289.4 622.4 290.7 632.2 292.9 638.9 325.9 639.2 325.9 599.2 321.4 595.2 318.1 593.7 313.1 592.4 305.7 592.9 294.9 592.4ZM251.2 544.4 251.2 586.2 256.5 589.4 263.0 590.9 280.7 591.4 285.9 590.2 287.7 587.4 288.4 579.7 288.2 553.9 286.4 544.4Z"/>
<path fill-rule="evenodd" fill="#73bd43" d="M311.6 593.2 305.7 594.7 301.7 594.7 297.9 593.4 295.4 593.4 292.7 595.7 290.9 600.2 290.2 607.2 290.2 620.9 291.2 626.7 292.2 629.7 294.9 634.2 298.4 637.4 302.4 639.2 309.4 639.2 314.6 637.2 317.9 634.2 319.9 631.4 323.1 623.7 324.1 615.2 323.6 609.7 321.9 603.9 319.1 598.7 314.9 594.7ZM261.7 544.4 258.2 547.4 255.5 551.2 253.7 554.7 252.0 560.7 251.5 563.9 251.5 571.7 252.0 574.7 254.2 581.2 255.7 583.9 258.5 586.9 263.7 589.7 271.2 590.9 274.7 590.2 282.4 590.2 283.7 589.4 285.9 586.7 287.4 579.7 287.7 562.4 286.9 556.7 285.7 552.4 282.9 547.7 279.2 544.4Z"/>
<path fill-rule="evenodd" fill="#88c43b" d="M311.6 594.2 309.6 594.4 304.9 596.7 302.4 596.7 298.2 594.7 295.7 594.4 293.7 596.4 291.7 601.9 290.7 611.9 290.7 617.9 291.7 624.4 293.7 628.9 295.2 630.9 298.9 633.9 301.7 634.9 307.6 635.2 310.4 634.4 314.1 632.4 317.9 627.9 320.1 622.4 320.9 618.2 320.9 611.7 319.6 605.9 316.6 598.9 313.4 595.2ZM265.7 547.4 262.5 549.2 259.5 552.2 255.7 559.7 254.7 564.4 254.5 570.2 255.0 574.7 256.2 578.9 259.0 584.4 263.7 588.4 269.9 590.2 272.4 590.2 276.2 588.9 281.2 589.7 284.4 586.7 286.4 580.2 287.2 566.4 286.7 560.9 285.7 556.9 284.2 553.7 281.9 550.7 277.4 547.4 273.7 546.4 269.2 546.4Z"/>
<path fill-rule="evenodd" fill="#9ecc33" d="M311.6 595.2 310.4 595.2 305.2 598.4 301.9 598.4 298.2 595.9 295.9 595.4 294.7 596.7 292.9 600.7 291.4 610.2 291.4 619.2 292.2 623.2 294.7 627.9 297.7 630.7 300.9 632.2 306.4 632.7 311.4 631.2 313.6 629.7 315.6 627.4 318.4 621.4 319.1 616.7 318.4 607.9 315.1 599.2ZM266.7 549.9 261.5 553.4 259.2 556.7 257.5 560.9 256.5 566.4 256.5 571.4 258.2 579.4 260.7 584.4 265.0 587.9 270.7 589.7 273.2 589.2 275.7 587.9 280.9 588.9 282.9 587.2 284.4 584.4 285.9 577.9 286.4 564.7 285.2 558.7 282.7 554.2 280.7 552.2 277.4 550.2 273.7 549.2 269.7 549.2Z"/>
<path fill-rule="evenodd" fill="#b3d32c" d="M311.4 596.2 310.1 596.4 306.4 599.7 303.9 600.7 301.2 599.9 297.4 596.7 296.4 596.4 295.2 597.4 293.7 600.9 291.9 611.9 292.4 621.4 293.9 625.2 295.4 627.2 300.2 630.2 307.2 630.7 311.4 629.2 314.9 625.9 317.1 620.9 317.6 618.2 317.1 608.4 314.9 601.2 312.6 597.2ZM267.5 551.7 264.5 553.2 262.0 555.4 259.0 560.9 258.0 565.7 258.0 572.7 259.5 579.2 262.2 584.7 266.5 587.7 270.2 588.9 272.7 588.7 275.9 586.7 280.9 587.9 282.2 586.9 283.4 584.7 285.4 576.4 285.9 566.2 284.7 559.7 281.9 555.2 277.7 552.2 273.9 551.2Z"/>
<path fill-rule="evenodd" fill="#c8dc22" d="M311.6 597.4 310.4 597.4 306.9 601.2 304.4 602.7 301.7 602.2 296.9 597.7 295.9 597.9 294.9 599.4 292.7 609.7 292.7 619.9 294.7 624.9 296.7 626.9 299.2 628.4 302.2 629.2 307.2 629.2 309.9 628.4 312.4 626.9 315.4 622.9 316.6 618.2 316.4 609.9 314.1 601.7ZM267.0 553.4 263.7 555.4 262.0 557.4 260.2 560.7 259.2 564.4 259.2 573.9 261.5 581.7 263.5 584.9 265.0 586.2 270.7 588.4 272.2 588.2 275.9 585.4 277.7 585.7 279.7 586.9 280.9 586.9 282.2 585.7 283.2 583.4 284.9 575.4 285.4 567.2 284.4 560.9 281.9 556.7 277.7 553.7 273.7 552.7 269.9 552.7Z"/>
<path fill-rule="evenodd" fill="#dce616" d="M311.4 598.4 310.6 598.4 307.9 601.9 304.7 604.7 302.4 604.7 301.2 603.9 297.4 599.2 296.4 598.9 295.4 599.9 293.4 607.9 292.9 618.4 293.9 622.4 294.9 624.2 296.7 625.9 298.9 627.2 303.7 628.2 309.4 627.4 312.4 625.7 314.9 621.9 315.9 617.7 315.6 610.7 313.6 602.4ZM267.0 554.7 263.0 557.7 261.0 561.2 260.0 565.2 260.0 572.9 262.0 580.9 265.0 585.4 270.2 587.7 272.2 587.4 275.9 584.2 277.7 584.4 279.7 585.9 280.9 585.9 283.2 581.4 284.7 572.9 284.9 567.2 283.7 560.7 280.7 556.7 277.7 554.9 273.7 553.9 269.9 553.9Z"/>
<path fill-rule="evenodd" fill="#eff00a" d="M311.4 599.7 310.6 599.7 307.4 604.4 305.4 606.4 304.2 606.9 301.4 606.2 297.2 600.4 295.9 600.7 294.9 603.2 293.7 609.7 293.4 618.9 294.4 622.4 295.4 623.9 297.7 625.7 301.4 626.9 307.4 626.9 311.4 625.4 313.4 623.4 315.1 618.4 315.1 612.2 313.6 604.7ZM273.4 554.9 268.7 555.2 265.0 556.9 262.0 560.7 260.5 567.4 261.2 575.9 263.7 583.2 265.2 584.9 270.9 587.2 272.2 586.7 275.4 582.7 277.4 582.9 279.7 584.9 281.2 584.7 283.2 579.2 284.4 570.2 284.2 563.9 282.2 559.2 279.7 556.9 277.7 555.9Z"/>
<path fill-rule="evenodd" fill="#fff501" d="M311.1 600.9 310.1 601.4 307.4 606.4 304.7 608.7 302.4 608.7 301.2 607.9 297.2 601.9 296.7 601.7 295.7 602.7 293.9 611.2 293.7 617.7 294.4 621.4 295.4 623.2 297.2 624.7 301.9 626.2 306.9 626.2 310.9 624.9 313.1 622.7 314.6 617.9 314.6 613.2 312.9 604.2ZM273.9 555.9 269.5 555.9 265.5 557.4 263.0 560.2 261.2 565.7 261.5 573.9 263.5 581.7 265.7 584.7 270.7 586.4 272.7 585.2 274.2 581.9 275.4 580.7 276.9 580.9 279.7 583.7 280.9 583.7 282.2 581.2 283.7 573.7 283.9 565.2 282.4 560.4 279.9 557.9Z"/>
<path fill-rule="evenodd" fill="#ffe603" d="M311.1 602.4 310.1 602.9 307.4 608.2 305.7 609.9 303.9 610.7 301.7 610.2 299.9 608.4 297.2 603.4 295.9 603.9 294.4 610.4 294.2 619.2 294.9 621.7 297.4 624.2 301.9 625.4 307.2 625.4 311.4 623.9 312.9 622.2 314.1 618.2 314.1 613.4 312.1 603.7ZM273.7 556.7 268.2 556.9 265.2 558.4 263.0 561.2 261.7 565.9 262.0 573.4 264.0 581.7 266.2 584.4 271.2 585.7 272.2 584.9 273.4 580.2 275.2 578.4 276.4 578.7 279.7 582.4 280.7 582.7 281.2 582.2 282.4 578.4 283.4 572.2 283.7 566.4 282.4 561.2 279.2 558.2Z"/>
<path fill-rule="evenodd" fill="#ffd806" d="M311.1 603.9 310.1 604.4 307.6 609.7 305.7 611.7 304.4 612.2 301.4 611.7 299.2 609.2 296.9 604.9 296.2 605.2 294.7 611.4 294.4 618.7 295.2 621.4 296.7 623.2 300.9 624.7 307.9 624.7 310.4 623.9 312.4 622.2 313.6 618.7 313.6 612.9 312.1 605.4ZM274.2 557.4 269.0 557.4 265.7 558.7 263.5 561.2 262.2 565.4 262.5 573.7 264.2 581.2 266.2 583.9 269.7 584.9 271.2 584.9 271.7 584.4 272.4 582.2 272.4 578.4 274.2 576.2 276.4 576.7 280.4 581.4 281.4 580.2 282.7 574.9 283.2 570.9 283.2 564.7 282.7 562.7 281.4 560.4 279.4 558.9Z"/>
<path fill-rule="evenodd" fill="#ffc908" d="M311.1 605.4 310.4 605.7 307.6 611.4 306.2 612.9 303.9 613.7 300.9 612.9 299.2 610.9 297.4 607.2 296.4 606.7 295.2 610.7 294.7 618.2 295.4 621.2 296.7 622.7 301.4 624.2 307.4 624.2 309.6 623.7 312.1 621.9 313.1 619.4 313.4 614.9 312.6 609.2ZM273.2 557.9 269.5 557.9 266.7 558.7 264.0 561.2 262.7 564.9 262.7 572.2 264.2 579.9 266.0 583.2 269.0 584.2 270.9 584.2 271.7 582.9 271.2 577.4 271.7 576.2 273.4 574.4 275.2 574.2 277.7 576.2 279.7 579.7 280.7 579.9 281.7 577.9 282.4 574.2 282.9 565.2 281.9 561.7 280.2 559.9 278.2 558.9Z"/>
<path fill-rule="evenodd" fill="#ffb90b" d="M310.9 606.9 307.9 612.7 304.9 614.7 301.9 614.7 300.7 614.2 299.2 612.7 297.4 608.9 296.4 608.4 295.4 611.7 294.9 617.4 295.4 620.4 296.7 622.2 299.9 623.4 307.2 623.7 309.6 623.2 311.9 621.7 312.9 618.9 312.9 613.7 311.9 608.2ZM279.4 559.9 274.7 558.7 269.7 558.4 266.7 559.2 264.2 561.4 263.0 565.7 263.2 573.2 264.5 579.4 265.5 581.9 266.5 582.9 268.0 583.4 270.7 583.2 270.9 581.7 269.9 578.7 270.2 576.4 271.4 574.2 273.9 572.4 275.9 572.7 277.7 574.4 279.7 578.2 280.9 578.2 282.4 571.7 282.7 565.4 281.7 561.9Z"/>
<path fill-rule="evenodd" fill="#ffa30e" d="M311.4 608.9 310.4 608.9 308.4 613.4 306.7 615.2 305.2 615.7 301.7 615.7 299.9 614.9 296.7 610.2 295.4 614.2 295.4 619.4 296.2 621.2 297.9 622.4 301.7 623.2 307.4 623.2 311.1 621.9 312.6 618.7 312.4 612.7ZM279.9 560.7 276.2 559.4 269.7 558.9 266.2 559.9 264.5 561.7 263.2 566.4 263.5 572.2 265.0 579.9 266.7 582.4 269.0 582.7 269.7 582.2 269.0 579.2 269.2 576.4 270.7 573.2 273.2 571.2 275.4 570.9 277.7 572.7 279.7 576.7 280.7 576.9 281.9 572.9 282.4 565.7 281.9 563.2Z"/>
<path fill-rule="evenodd" fill="#ff8d12" d="M311.4 610.7 310.9 610.2 309.1 613.7 307.2 615.9 303.9 616.7 300.2 616.2 296.7 611.9 295.7 615.2 295.7 619.2 296.4 620.9 297.7 621.9 301.2 622.7 307.9 622.7 310.9 621.7 312.1 619.7 312.4 618.2ZM279.7 560.9 274.9 559.7 269.0 559.4 266.5 560.2 265.0 561.4 263.7 564.7 263.7 571.4 265.0 578.4 266.5 581.4 268.0 581.4 268.2 577.7 269.2 574.2 270.2 572.2 272.9 569.9 275.4 569.7 276.7 570.2 277.9 571.4 279.7 575.2 280.7 575.4 281.7 572.2 282.2 565.9 281.7 563.2Z"/>
<path fill-rule="evenodd" fill="#fd7114" d="M311.1 612.2 310.4 612.4 307.9 616.4 305.9 617.2 302.7 617.4 299.9 616.9 296.7 613.9 295.9 616.7 295.9 618.7 296.7 620.7 298.2 621.7 300.7 622.2 308.4 622.2 310.6 621.4 311.9 619.4 311.9 614.7ZM280.2 561.7 275.2 560.2 268.5 559.9 266.7 560.4 265.0 561.9 264.0 564.7 264.0 570.7 264.7 575.7 266.2 579.9 267.2 579.4 268.5 574.2 269.7 571.4 272.2 569.2 273.9 568.7 276.7 568.9 278.4 570.7 280.2 573.9 280.7 573.7 281.4 571.4 281.9 566.4 281.4 563.4Z"/>
<path fill-rule="evenodd" fill="#f64814" d="M311.4 614.9 310.6 613.9 308.1 617.2 305.9 617.9 300.4 617.9 296.9 615.9 296.4 616.7 296.4 619.4 297.2 620.7 300.4 621.7 309.6 621.4 310.9 620.7 311.6 618.9ZM279.9 561.9 275.9 560.7 269.2 560.2 266.5 560.9 265.0 562.4 264.2 564.7 264.2 570.2 265.0 575.2 266.2 578.2 267.2 576.9 269.0 571.2 270.9 568.9 272.4 568.2 276.7 567.9 278.7 569.7 279.4 571.4 280.2 572.2 280.7 571.9 281.4 569.2 281.4 564.2Z"/>
<path fill-rule="evenodd" fill="#f02014" d="M311.1 616.7 310.6 615.9 308.9 617.7 305.7 618.7 300.2 618.7 297.2 617.7 296.9 619.2 297.4 620.2 299.2 620.9 308.6 621.2 310.9 619.9ZM280.4 562.7 278.7 561.7 273.2 560.7 268.2 560.7 266.2 561.4 265.0 562.9 264.5 564.7 264.5 569.9 265.7 575.9 266.5 576.4 268.2 571.4 269.5 569.2 271.7 567.7 274.9 566.9 277.2 567.2 278.9 568.7 279.7 570.2 280.4 570.4 281.2 568.2 281.2 564.2Z"/>
<path fill-rule="evenodd" fill="#d8170f" d="M310.6 618.4 310.1 617.9 306.9 619.4 300.4 619.9 309.1 620.4 310.1 619.9ZM280.2 562.9 278.2 561.9 272.2 560.9 268.7 560.9 266.5 561.7 265.5 562.7 264.7 564.7 264.7 569.7 265.7 574.4 266.2 574.9 266.7 574.4 268.7 569.2 271.2 567.2 273.9 566.4 277.4 566.4 280.4 568.7 280.9 564.7Z"/>
<path fill-rule="evenodd" fill="#bf0f0a" d="M280.2 563.7 278.4 562.4 273.2 561.4 269.7 561.2 267.0 561.7 265.7 562.7 265.0 564.4 265.0 569.2 266.0 573.2 266.7 572.9 268.5 568.4 269.7 567.2 274.7 565.7 277.4 565.7 280.2 566.9Z"/>
<path fill-rule="evenodd" fill="#a50805" d="M265.7 570.9 266.2 571.7 268.0 568.2 269.5 566.7 275.4 564.9 279.7 565.4 279.7 563.9 278.2 562.9 272.2 561.7 267.2 561.9 265.7 563.2 265.2 564.4Z"/>
<path fill-rule="evenodd" fill="#8c0000" d="M276.7 563.7 273.7 562.4 270.7 561.9 266.5 562.7 265.5 564.7 266.0 569.7 266.7 569.7 268.0 567.2 269.5 565.9Z"/>
<path fill-rule="evenodd" fill="#4eb25c" d="M252.2 596.4 251.2 597.4 251.2 639.2 286.4 639.2 287.7 633.9 288.4 624.7 288.2 599.4 287.4 595.4 286.7 594.2 282.7 592.4 266.2 592.2 258.0 593.4ZM293.2 544.4 290.7 551.4 289.4 561.2 289.4 579.2 289.9 585.9 290.7 588.7 292.4 590.4 294.9 591.2 301.4 590.7 313.1 591.2 316.6 590.4 321.4 588.4 325.9 584.4 325.9 544.4Z"/>
<path fill-rule="evenodd" fill="#3fae6c" d="M281.7 593.2 276.7 593.7 270.4 592.7 262.2 594.2 259.5 595.7 256.7 598.2 254.0 602.9 252.0 608.7 251.5 611.9 251.5 619.7 252.0 622.9 253.7 628.9 255.5 632.4 258.5 636.4 261.7 639.2 279.2 639.2 282.9 635.9 285.7 631.2 286.9 626.9 287.7 621.2 287.4 603.9 286.7 599.2 285.4 596.2 283.9 594.4ZM302.4 544.4 299.2 545.7 294.9 549.4 293.2 551.9 291.4 555.9 290.2 562.7 290.2 576.2 290.9 583.4 292.2 587.2 295.4 590.2 297.9 590.2 301.4 588.9 305.7 588.9 311.6 590.4 314.9 588.9 319.1 584.9 321.9 579.7 323.6 573.9 324.1 568.4 323.1 559.9 319.9 552.2 317.9 549.4 314.6 546.4 309.4 544.4Z"/>
<path fill-rule="evenodd" fill="#30aa7c" d="M269.5 593.4 262.7 595.4 259.0 598.9 257.7 600.9 255.0 608.9 254.5 613.4 254.7 619.2 255.7 623.9 258.0 629.2 262.5 634.4 268.0 636.9 273.7 637.2 277.9 635.9 281.4 633.4 285.2 627.9 286.9 620.7 286.9 607.9 285.4 599.2 283.7 595.9 282.2 594.4 279.7 593.9 275.7 594.7 272.4 593.4ZM301.7 548.7 298.9 549.7 295.4 552.4 293.7 554.7 291.7 559.2 290.7 565.7 290.7 571.4 291.9 582.7 293.7 587.2 295.7 589.2 298.2 588.9 302.2 586.9 304.9 586.9 309.6 589.2 311.6 589.4 313.4 588.4 316.6 584.7 319.6 577.7 320.9 571.9 320.9 565.4 320.1 561.2 317.9 555.7 314.1 551.2 308.9 548.7Z"/>
<path fill-rule="evenodd" fill="#22a68c" d="M270.2 593.9 264.0 595.9 260.0 600.2 257.0 608.4 256.5 616.9 257.7 623.4 259.0 626.4 261.7 630.4 266.7 633.7 269.7 634.4 273.7 634.4 277.4 633.4 279.7 632.2 282.7 629.4 284.7 626.2 286.4 618.7 286.2 607.9 284.2 598.7 281.4 594.9 280.2 594.7 277.7 595.7 275.2 595.7 272.4 594.2ZM300.9 551.4 297.7 552.9 294.4 555.9 292.2 560.4 291.4 564.4 291.4 573.2 292.9 582.9 294.7 586.9 295.9 588.2 297.2 588.2 301.9 585.2 305.2 585.2 309.9 588.2 311.6 588.4 315.1 584.4 318.4 575.7 319.1 570.4 318.4 562.2 315.6 556.2 313.6 553.9 311.4 552.4 306.4 550.9Z"/>
<path fill-rule="evenodd" fill="#1ca798" d="M269.9 594.7 264.7 596.4 262.2 598.7 261.0 600.7 258.2 609.2 258.0 617.9 259.5 623.9 261.2 627.2 263.5 629.7 268.5 632.2 273.9 632.4 278.7 630.9 281.7 628.7 283.4 626.4 284.7 623.9 285.7 619.9 285.7 609.4 284.2 601.2 282.9 597.9 281.4 595.9 279.9 595.7 277.4 596.9 275.4 596.9 271.9 594.7ZM300.2 553.4 295.4 556.4 293.9 558.4 292.4 562.2 291.9 571.7 293.7 582.7 295.2 586.2 296.4 587.2 297.4 586.9 301.2 583.7 303.9 582.9 306.4 583.9 310.1 587.2 311.4 587.4 312.6 586.4 314.9 582.4 317.1 575.2 317.6 572.2 317.6 565.4 317.1 562.7 314.9 557.7 311.4 554.4 307.2 552.9Z"/>
<path fill-rule="evenodd" fill="#17a8a3" d="M270.4 595.2 265.2 596.9 262.2 600.2 260.7 603.7 259.2 609.7 259.0 617.2 260.5 623.4 263.7 628.2 267.7 630.4 273.7 630.9 278.7 629.4 281.2 627.7 283.2 625.2 285.2 619.4 285.2 610.4 283.7 601.9 281.9 597.7 280.9 596.7 279.9 596.7 277.4 598.2 275.4 598.2 272.2 595.4ZM299.2 555.2 296.7 556.7 294.7 558.7 292.7 563.7 292.7 573.9 294.9 584.2 295.9 585.7 296.9 585.9 300.9 581.9 302.9 580.9 304.4 580.9 306.9 582.4 310.4 586.2 311.6 586.2 314.1 581.9 316.4 573.7 316.6 565.4 315.4 560.7 313.9 558.2 309.9 555.2 307.2 554.4 302.2 554.4Z"/>
<path fill-rule="evenodd" fill="#11a9af" d="M269.9 595.9 265.2 597.7 263.5 599.4 262.2 601.9 260.0 610.7 260.0 618.2 261.2 622.9 264.2 627.2 267.7 629.2 273.7 629.7 279.2 627.9 280.7 626.9 283.2 623.9 284.7 619.2 284.7 610.7 283.4 603.2 281.7 598.4 280.9 597.7 279.9 597.7 276.9 599.7 275.7 599.7 272.2 596.2ZM298.9 556.4 296.7 557.7 294.9 559.4 293.9 561.2 292.9 565.2 293.2 573.7 295.4 583.7 296.4 584.7 297.4 584.4 301.2 579.7 302.4 578.9 304.7 578.9 307.9 581.7 310.6 585.2 311.4 585.2 313.6 581.2 315.6 572.9 315.9 565.9 314.9 561.7 312.6 558.2 309.4 556.2 303.7 555.4Z"/>
<path fill-rule="evenodd" fill="#0caaba" d="M270.7 596.4 267.0 597.4 264.0 599.7 262.0 604.7 261.0 608.9 260.5 615.9 261.5 621.7 263.2 624.9 265.0 626.7 267.2 627.9 270.2 628.7 273.2 628.7 277.7 627.7 279.7 626.7 282.2 624.4 283.9 620.7 284.4 613.7 283.4 605.7 281.7 599.7 280.7 598.7 279.9 598.7 277.4 600.9 275.7 601.4 274.2 600.2 272.9 597.9ZM297.7 557.9 296.2 558.9 294.4 561.2 293.4 564.7 293.7 573.9 294.4 578.4 295.9 582.9 297.2 583.2 301.4 577.4 304.2 576.7 305.4 577.2 307.4 579.2 309.6 582.9 310.6 583.9 311.4 583.9 313.6 578.9 315.1 571.4 315.1 565.2 313.4 560.2 311.4 558.2 307.4 556.7 301.4 556.7Z"/>
<path fill-rule="evenodd" fill="#09aac4" d="M266.0 598.4 263.7 601.2 261.5 609.9 261.2 617.7 262.2 621.9 263.5 624.2 265.5 626.2 269.5 627.7 273.9 627.7 279.9 625.7 282.4 623.2 283.9 618.4 283.7 610.2 282.2 602.4 280.9 599.9 279.4 600.2 276.9 602.9 275.4 603.4 273.9 602.2 272.2 597.9 271.2 597.2ZM297.2 558.9 294.9 561.2 293.7 565.9 294.4 575.9 296.2 581.7 296.7 581.9 297.7 581.2 301.2 575.7 302.4 574.9 304.7 574.9 307.4 577.2 310.1 582.2 311.1 582.7 312.9 579.4 314.6 570.4 314.6 565.7 313.1 560.9 310.9 558.7 306.9 557.4 300.4 557.7Z"/>
<path fill-rule="evenodd" fill="#07a9ce" d="M266.5 598.7 264.2 601.2 262.2 608.7 261.7 617.7 262.5 621.2 264.0 623.9 267.5 626.4 273.7 626.9 278.7 625.7 281.9 623.2 283.4 619.4 283.4 611.4 281.7 602.7 280.4 600.9 276.4 605.2 274.9 605.7 272.9 603.9 272.4 599.9 271.2 597.9ZM297.4 559.4 294.9 561.9 294.2 564.4 294.4 573.2 295.9 579.7 297.2 580.2 299.9 575.2 301.7 573.4 303.9 572.9 305.7 573.7 307.4 575.4 310.1 580.7 311.1 581.2 312.1 579.9 314.1 570.2 314.1 565.4 312.9 561.4 311.4 559.7 307.2 558.2 301.9 558.2Z"/>
<path fill-rule="evenodd" fill="#05a9d7" d="M266.5 599.2 264.5 601.7 262.7 608.4 262.2 617.9 263.0 621.2 264.0 623.2 265.7 624.9 269.0 626.2 274.2 626.2 278.9 624.9 281.4 623.2 283.2 618.9 282.9 610.4 281.4 603.4 280.7 602.4 279.9 602.4 276.2 607.4 273.7 607.7 271.7 604.9 271.4 599.2 270.9 598.7ZM296.7 560.4 295.2 562.2 294.4 564.9 294.7 572.2 296.2 578.4 296.9 578.7 300.7 572.4 302.4 571.4 304.4 571.4 305.7 571.9 307.6 573.9 310.1 579.2 311.1 579.7 312.1 578.2 313.6 570.7 313.6 564.9 312.4 561.4 310.4 559.7 307.9 558.9 300.9 558.9Z"/>
<path fill-rule="evenodd" fill="#02a8e1" d="M266.7 599.7 265.0 601.4 262.7 611.7 262.7 618.7 264.0 622.4 266.0 624.4 269.7 625.7 274.9 625.4 280.2 623.7 282.2 621.4 282.9 618.4 282.7 611.2 281.2 604.4 280.2 603.7 276.2 609.2 273.9 609.7 273.2 609.4 270.7 606.4 270.4 603.4 270.9 599.9 270.4 599.4ZM296.7 560.9 295.4 562.4 294.7 565.4 295.2 572.9 296.4 576.9 297.4 576.4 299.2 572.7 300.9 570.7 303.9 569.9 306.2 570.7 307.6 572.2 310.4 577.9 311.1 578.2 312.6 574.4 313.4 568.7 313.1 564.2 312.1 561.7 309.6 559.9 307.4 559.4 301.7 559.4Z"/>
<path fill-rule="evenodd" fill="#00a8ea" d="M266.5 600.4 265.5 601.4 264.5 604.2 263.0 612.9 263.0 617.9 264.2 622.2 266.0 623.9 269.9 625.2 274.7 624.9 280.2 623.2 281.9 621.2 282.7 617.9 282.2 610.2 280.7 605.2 279.4 605.9 277.9 608.9 276.2 610.9 273.9 611.4 272.7 610.9 269.9 607.4 269.5 605.9 269.9 600.7 269.5 600.2ZM296.7 561.4 295.4 563.2 294.9 566.2 295.4 571.9 296.4 575.2 297.4 574.7 299.2 570.9 300.7 569.4 301.9 568.9 304.9 568.9 307.9 570.9 310.9 576.7 311.9 575.4 312.9 569.9 312.9 564.7 311.9 561.9 309.6 560.4 307.2 559.9 301.7 559.9 298.7 560.4Z"/>
<path fill-rule="evenodd" fill="#0993e3" d="M266.5 601.2 264.7 604.7 263.5 611.7 263.2 617.2 264.5 621.9 266.2 623.7 269.7 624.7 275.9 624.2 279.9 622.9 281.9 620.4 282.4 617.7 282.2 612.7 280.9 607.2 280.2 606.7 279.4 607.4 277.9 610.7 276.2 612.4 272.7 612.4 270.4 610.4 268.5 605.2 268.2 601.2ZM296.2 562.4 295.4 564.2 295.4 569.4 296.7 573.4 299.9 568.7 301.7 567.9 305.2 567.9 306.7 568.4 308.4 570.2 310.4 574.7 311.4 574.7 312.4 570.9 312.6 564.9 311.1 561.7 307.4 560.4 301.7 560.4 297.9 561.2Z"/>
<path fill-rule="evenodd" fill="#137ad7" d="M266.5 602.4 265.2 604.4 263.7 612.4 263.7 618.9 265.0 622.2 266.5 623.4 269.2 624.2 276.2 623.7 280.4 622.2 281.7 620.4 282.2 617.4 281.9 613.2 280.9 608.7 280.4 608.2 279.7 608.7 278.4 611.4 276.4 613.7 272.7 613.7 269.7 610.9 268.0 606.2 267.5 603.2ZM296.4 562.7 295.7 564.4 295.7 568.4 296.7 571.7 300.2 567.4 303.9 566.9 307.2 567.7 309.1 569.9 310.9 573.4 311.4 572.9 312.4 565.4 312.1 563.9 310.9 561.9 307.9 560.9 301.2 560.9 297.7 561.7Z"/>
<path fill-rule="evenodd" fill="#1e60cb" d="M266.2 604.2 265.0 606.9 264.0 612.9 264.0 618.9 265.0 621.7 266.0 622.7 268.5 623.7 275.2 623.4 280.2 621.9 281.7 619.4 281.7 613.9 280.7 609.9 279.7 610.2 277.2 614.4 276.2 614.9 272.7 614.7 269.7 612.4 267.2 605.2ZM296.7 562.9 295.9 564.9 296.7 569.7 299.9 566.7 302.7 566.2 305.9 566.4 307.9 567.2 310.4 571.2 311.1 571.4 311.9 568.9 311.9 564.2 310.6 562.2 308.4 561.4 300.7 561.4 298.2 561.9Z"/>
<path fill-rule="evenodd" fill="#2847bf" d="M266.0 605.9 265.0 608.4 264.2 613.4 264.2 618.7 265.0 621.2 266.5 622.7 269.2 623.4 274.2 623.2 279.9 621.7 281.4 619.4 281.4 614.7 280.7 611.7 280.2 611.4 278.2 614.7 276.7 615.7 274.4 615.9 272.2 615.4 270.4 614.4 269.2 612.9 266.7 606.2ZM296.4 564.2 296.4 566.9 296.9 567.7 300.4 565.7 305.9 565.7 308.1 566.4 310.6 569.7 311.4 568.7 311.6 564.7 310.9 562.9 309.6 562.2 300.4 561.9 297.2 562.9Z"/>
<path fill-rule="evenodd" fill="#283cb0" d="M265.7 607.9 264.7 611.7 264.5 618.9 265.0 620.7 266.2 622.2 268.2 622.9 273.2 622.9 278.7 621.9 280.7 620.4 281.2 619.2 281.2 615.4 280.4 613.2 277.2 616.4 274.7 616.7 272.2 616.2 269.2 614.2 267.0 608.2 266.2 607.4ZM296.9 564.4 297.2 565.9 299.9 564.9 305.7 564.9 308.9 565.9 310.6 567.7 311.1 566.9 310.9 563.7 308.6 562.4 299.2 562.7 297.4 563.4Z"/>
<path fill-rule="evenodd" fill="#2831a2" d="M266.0 608.9 265.0 612.2 264.7 618.9 265.5 620.9 266.5 621.9 268.7 622.7 271.9 622.7 278.2 621.7 280.2 620.7 280.9 618.9 280.9 616.7 280.2 614.9 278.4 616.7 275.9 617.4 270.9 616.4 269.0 614.9 266.5 608.9ZM300.7 563.7 306.9 564.2 310.1 565.7 310.6 565.2 310.1 563.7 309.1 563.2 303.2 563.2Z"/>
<path fill-rule="evenodd" fill="#272792" d="M266.0 610.7 265.0 614.4 265.0 618.9 265.7 620.9 267.0 621.9 272.9 622.2 278.4 621.2 280.2 619.9 280.2 616.7 277.7 617.9 274.4 617.9 269.7 616.4 268.0 614.4 266.7 610.9Z"/>
<path fill-rule="evenodd" fill="#211f80" d="M266.0 612.2 265.2 615.2 265.2 618.9 266.7 621.4 268.2 621.9 272.2 621.9 278.2 620.7 279.7 619.7 279.7 618.4 275.4 618.7 269.7 617.2 268.0 615.4 266.7 612.4Z"/>
<path fill-rule="evenodd" fill="#1c186e" d="M266.0 613.9 265.5 618.9 266.5 620.9 270.7 621.7 274.4 620.9 276.4 619.9 269.0 617.4 266.5 613.7Z"/>
<path d="M265.65 562.67 L281.14 562.67 L281.14 620.93 L265.65 620.93 L265.65 599.78 L271.04 599.78 L271.04 583.08 L265.65 583.08 Z M295.96 562.67 L311.45 562.67 L311.45 620.93 L295.96 620.93 Z" fill="none" stroke="#262626" stroke-width="0.85" stroke-dasharray="1.8 2"/>
<rect x="327.40" y="544.30" width="2.40" height="95.00" fill="url(#cb)"/>
</g>
<g font-size="11.5" text-anchor="end"><text x="44.3" y="226.8">200</text><text x="42.8" y="262.9">0</text><text x="44.3" y="296.8">-200</text>
</g><g font-size="12" text-anchor="end" class="R2"><text x="33.3" y="558.4">200</text><text x="31.3" y="592.3">0</text><text x="33.3" y="634.2">-200</text></g>
<text transform="translate(19.5 258.5) rotate(-90)" font-size="15.8" text-anchor="middle">y (nm)</text>
<text class="R2" transform="translate(11.9 589.4) rotate(-90)" font-size="15" text-anchor="middle">y (nm)</text>
<g font-size="11.5" text-anchor="middle">
<text x="56.2" y="312.2">-200</text><text x="82.5" y="312.2">0</text><text x="109.0" y="312.2">200</text>
<text x="158.6" y="312.2">-200</text><text x="185.0" y="312.2">0</text><text x="212.2" y="312.2">200</text>
<text x="259.3" y="312.2">-200</text><text x="285.2" y="312.2">0</text><text x="311.0" y="312.2">200</text>
</g><g font-size="12" text-anchor="middle" class="R2">
<text x="41.6" y="648.2">-200</text><text x="71.1" y="648.2">0</text><text x="99.4" y="648.2">200</text>
<text x="155.1" y="648.2">-200</text><text x="182.3" y="648.2">0</text><text x="209.4" y="648.2">200</text>
<text x="268.3" y="648.2">-200</text><text x="290.3" y="648.2">0</text><text x="314.4" y="648.2">200</text>
</g>
<g font-size="16" text-anchor="middle"><text x="81.2" y="326.3">x (nm)</text><text x="182.9" y="326.3">x (nm)</text><text x="291.9" y="326.3">x (nm)</text>
</g><g font-size="15" text-anchor="middle" class="R2"><text x="68.9" y="661.6">x (nm)</text><text x="181.6" y="661.6">x (nm)</text><text x="291.5" y="661.6">x (nm)</text></g>
<g font-size="15.6" class="LB"><text x="45" y="224.7">(b)</text><text x="148.8" y="221.6">(c)</text><text x="247.2" y="221.9">(d)</text>
</g><g font-size="17" class="LB"><text x="33.5" y="554.3">(f)</text><text x="141.6" y="554.5">(h)</text><text x="249.2" y="554.9">(k)</text></g>
<g font-size="11.4" class="CB">
<text x="128.8" y="223.4">13</text><text x="128.8" y="261.8">0</text><text x="128.6" y="304.2">-13</text>
<text x="231.6" y="221.9">3</text><text x="231.2" y="258.2">0</text><text x="230.5" y="304.4">-3</text>
<text x="331.2" y="221.8">21</text><text x="330.3" y="259.5">0</text><text x="330.5" y="301.9">-21</text>
</g><g font-size="12.3" class="R2 CB">
<text x="117" y="552.4">15</text><text x="117" y="590.5">0</text><text x="114.2" y="638">-15</text>
<text x="227.6" y="551.4">3</text><text x="227.2" y="591.4">0</text><text x="226" y="636.2">-3</text>
<text x="332" y="552.4">13</text><text x="332" y="591.8">0</text><text x="331.6" y="635.4">-13</text>
</g>
<g class="A"><g fill="none" stroke-linejoin="round" stroke-linecap="round">
<path d="M97.70 6.30 99.25 6.52 100.83 6.72 102.42 6.92 104.00 7.11 105.56 7.33 107.09 7.55 108.58 7.81 110.00 8.10 111.16 8.37 112.28 8.64 113.36 8.93 114.43 9.24 115.47 9.57 116.51 9.92 117.55 10.29 118.60 10.70 119.67 11.16 120.72 11.66 121.76 12.19 122.80 12.75 123.84 13.32 124.90 13.89 125.98 14.45 127.10 15.00 128.40 15.60 129.74 16.18 131.11 16.77 132.50 17.36 133.90 17.95 135.29 18.55 136.66 19.17 138.00 19.80 139.28 20.42 140.55 21.03 141.81 21.65 143.06 22.29 144.29 22.94 145.51 23.62 146.72 24.34 147.90 25.10 149.10 25.92 150.28 26.78 151.44 27.66 152.59 28.58 153.72 29.54 154.84 30.52 155.93 31.54 157.00 32.60 158.12 33.78 159.22 35.02 160.31 36.31 161.38 37.64 162.41 38.97 163.42 40.31 164.38 41.62 165.30 42.90 166.06 43.97 166.78 45.02 167.47 46.05 168.13 47.08 168.77 48.12 169.41 49.17 170.05 50.26 170.70 51.40 171.44 52.73 172.16 54.10 172.89 55.51 173.60 56.95 174.31 58.41 175.01 59.89 175.71 61.39 176.40 62.90 177.13 64.54 177.86 66.21 178.57 67.91 179.28 69.63 179.99 71.36 180.69 73.10 181.40 74.85 182.10 76.60 182.84 78.41 183.59 80.22 184.35 82.03 185.10 83.86 185.84 85.71 186.55 87.57 187.25 89.47 187.90 91.40 188.55 93.51 189.16 95.67 189.74 97.86 190.30 100.07 190.84 102.30 191.38 104.54 191.93 106.78 192.50 109.00 193.09 111.26 193.67 113.52 194.25 115.80 194.83 118.07 195.42 120.35 196.03 122.61 196.65 124.87 197.30 127.10 197.97 129.33 198.65 131.61 199.36 133.91 200.08 136.19 200.81 138.40 201.55 140.52 202.28 142.50 203.00 144.30 203.49 145.43 203.98 146.49 204.47 147.48 204.95 148.43 205.45 149.34 205.95 150.23 206.47 151.11 207.00 152.00 207.52 152.86 208.04 153.75 208.58 154.63 209.12 155.49 209.68 156.31 210.24 157.07 210.82 157.74 211.40 158.30 211.82 158.65 212.24 158.98 212.66 159.28 213.09 159.55 213.53 159.76 213.97 159.91 214.43 160.00 214.90 160.00 215.56 159.87 216.27 159.58 217.00 159.18 217.75 158.66 218.50 158.07 219.23 157.41 219.93 156.71 220.60 156.00 221.41 155.00 222.18 153.88 222.91 152.66 223.62 151.35 224.30 149.98 224.97 148.57 225.64 147.14 226.30 145.70 227.06 144.01 227.78 142.25 228.49 140.44 229.18 138.59 229.87 136.70 230.56 134.78 231.27 132.85 232.00 130.90 232.84 128.68 233.70 126.38 234.58 124.03 235.46 121.65 236.34 119.29 237.21 116.98 238.07 114.73 238.90 112.60 239.56 110.92 240.20 109.31 240.82 107.76 241.43 106.24 242.05 104.72 242.70 103.19 243.38 101.63 244.10 100.00 245.00 98.02 245.96 95.94 246.97 93.80 248.00 91.65 249.05 89.52 250.09 87.46 251.11 85.51 252.10 83.70 252.84 82.42 253.58 81.21 254.30 80.07 255.03 78.97 255.75 77.89 256.47 76.81 257.18 75.72 257.90 74.60 258.62 73.45 259.33 72.29 260.03 71.12 260.74 69.95 261.45 68.79 262.16 67.64 262.87 66.51 263.60 65.40 264.29 64.35 264.99 63.29 265.68 62.23 266.38 61.19 267.09 60.18 267.81 59.20 268.54 58.27 269.30 57.40 269.99 56.69 270.70 56.02 271.43 55.39 272.17 54.78 272.90 54.20 273.63 53.63 274.33 53.06 275.00 52.50 275.54 52.03 276.05 51.57 276.55 51.13 277.04 50.69 277.53 50.25 278.03 49.81 278.55 49.36 279.10 48.90 279.77 48.34 280.47 47.77 281.19 47.19 281.93 46.60 282.67 46.01 283.42 45.43 284.16 44.85 284.90 44.30 285.60 43.78 286.29 43.27 286.97 42.76 287.66 42.27 288.36 41.77 289.08 41.28 289.82 40.79 290.60 40.30 291.57 39.72 292.59 39.14 293.65 38.57 294.73 37.99 295.83 37.42 296.93 36.85 298.02 36.27 299.10 35.70" stroke="#000" stroke-width="1.55"/>
<path d="M97.70 9.00 98.04 8.75 98.38 8.46 98.72 8.15 99.06 7.85 99.40 7.59 99.74 7.37 100.07 7.24 100.40 7.20 100.74 7.27 101.08 7.42 101.42 7.65 101.75 7.94 102.08 8.28 102.40 8.66 102.71 9.07 103.00 9.50 103.44 10.25 103.86 11.11 104.25 12.06 104.61 13.11 104.94 14.24 105.25 15.43 105.54 16.69 105.80 18.00 106.13 20.23 106.37 22.72 106.53 25.41 106.63 28.25 106.70 31.18 106.75 34.15 106.81 37.11 106.90 40.00 107.01 43.03 107.11 46.09 107.20 49.16 107.29 52.27 107.37 55.40 107.45 58.56 107.52 61.76 107.60 65.00 107.68 68.58 107.76 72.22 107.84 75.92 107.91 79.64 107.98 83.39 108.05 87.14 108.13 90.88 108.20 94.60 108.29 90.88 108.37 87.14 108.46 83.39 108.55 79.64 108.63 75.92 108.72 72.22 108.81 68.58 108.90 65.00 108.98 61.75 109.05 58.50 109.12 55.29 109.19 52.11 109.27 48.98 109.36 45.91 109.47 42.91 109.60 40.00 109.73 37.58 109.86 35.20 110.00 32.87 110.16 30.58 110.32 28.35 110.50 26.17 110.69 24.05 110.90 22.00 111.04 20.32 111.14 18.60 111.23 16.90 111.34 15.25 111.50 13.69 111.74 12.27 112.10 11.03 112.60 10.00 113.00 9.45 113.44 8.98 113.92 8.56 114.44 8.21 115.00 7.92 115.60 7.67 116.23 7.47 116.90 7.30 117.94 7.17 119.09 7.20 120.32 7.34 121.63 7.56 122.98 7.83 124.35 8.12 125.74 8.39 127.10 8.60 128.68 8.80 130.34 9.01 132.06 9.22 133.78 9.44 135.48 9.66 137.11 9.87 138.63 10.09 140.00 10.30 140.82 10.43 141.59 10.56 142.31 10.69 143.00 10.82 143.67 10.95 144.33 11.09 145.01 11.24 145.70 11.40 146.42 11.58 147.13 11.77 147.85 11.97 148.56 12.18 149.27 12.40 149.98 12.62 150.69 12.86 151.40 13.10 152.12 13.36 152.83 13.62 153.55 13.90 154.26 14.18 154.97 14.47 155.68 14.78 156.39 15.08 157.10 15.40 157.83 15.73 158.56 16.08 159.29 16.43 160.01 16.79 160.74 17.16 161.46 17.53 162.18 17.91 162.90 18.30 163.62 18.70 164.34 19.12 165.05 19.54 165.76 19.98 166.47 20.41 167.18 20.85 167.89 21.28 168.60 21.70 169.30 22.11 170.00 22.52 170.68 22.91 171.37 23.31 172.07 23.72 172.79 24.13 173.53 24.56 174.30 25.00 175.32 25.57 176.41 26.17 177.55 26.78 178.71 27.40 179.87 28.04 180.98 28.69 182.04 29.34 183.00 30.00 183.72 30.54 184.39 31.08 185.03 31.62 185.64 32.16 186.23 32.72 186.82 33.29 187.40 33.89 188.00 34.50 188.65 35.19 189.29 35.89 189.92 36.62 190.55 37.37 191.17 38.13 191.78 38.91 192.39 39.70 193.00 40.50 193.65 41.38 194.28 42.28 194.92 43.19 195.54 44.13 196.16 45.07 196.78 46.04 197.39 47.01 198.00 48.00 198.64 49.07 199.28 50.16 199.91 51.27 200.53 52.40 201.16 53.54 201.77 54.69 202.39 55.84 203.00 57.00 203.64 58.22 204.29 59.44 204.93 60.68 205.57 61.93 206.20 63.19 206.82 64.45 207.42 65.72 208.00 67.00 208.55 68.27 209.08 69.53 209.59 70.78 210.08 72.05 210.57 73.34 211.07 74.67 211.58 76.05 212.10 77.50 212.80 79.47 213.53 81.56 214.27 83.75 215.02 85.99 215.77 88.26 216.50 90.53 217.22 92.75 217.90 94.90 218.51 96.86 219.11 98.83 219.70 100.79 220.28 102.73 220.84 104.64 221.38 106.50 221.90 108.29 222.40 110.00 222.76 111.26 223.09 112.45 223.40 113.58 223.71 114.69 224.01 115.80 224.34 116.94 224.70 118.13 225.10 119.40 225.71 121.22 226.39 123.18 227.13 125.23 227.90 127.33 228.68 129.44 229.46 131.52 230.20 133.52 230.90 135.40 231.44 136.88 231.95 138.32 232.45 139.73 232.94 141.11 233.43 142.45 233.93 143.78 234.45 145.10 235.00 146.40 235.53 147.63 236.05 148.87 236.59 150.11 237.14 151.32 237.71 152.49 238.30 153.61 238.93 154.65 239.60 155.60 240.18 156.35 240.78 157.11 241.41 157.85 242.05 158.53 242.71 159.13 243.37 159.62 244.04 159.95 244.70 160.10 245.34 160.06 246.00 159.86 246.67 159.53 247.34 159.09 248.00 158.56 248.66 157.97 249.29 157.34 249.90 156.70 250.70 155.74 251.46 154.62 252.19 153.39 252.89 152.07 253.58 150.68 254.26 149.25 254.93 147.82 255.60 146.40 256.35 144.80 257.08 143.13 257.79 141.43 258.50 139.69 259.20 137.94 259.89 136.18 260.59 134.43 261.30 132.70 262.01 130.99 262.72 129.29 263.44 127.59 264.15 125.89 264.86 124.19 265.57 122.47 266.29 120.74 267.00 119.00 267.75 117.16 268.50 115.31 269.25 113.45 270.01 111.58 270.76 109.70 271.51 107.81 272.26 105.91 273.00 104.00 273.75 102.01 274.50 99.99 275.24 97.95 275.97 95.90 276.71 93.86 277.46 91.86 278.22 89.90 279.00 88.00 279.71 86.33 280.43 84.69 281.15 83.07 281.88 81.48 282.62 79.93 283.37 78.41 284.13 76.93 284.90 75.50 285.57 74.29 286.24 73.13 286.91 72.00 287.59 70.90 288.29 69.82 289.02 68.75 289.79 67.68 290.60 66.60 291.55 65.43 292.56 64.26 293.61 63.11 294.70 61.97 295.81 60.83 296.92 59.69 298.02 58.55 299.10 57.40" stroke="#f00" stroke-width="1.55"/>
<path d="M98.10 18.90 98.85 19.56 99.62 20.19 100.39 20.80 101.17 21.43 101.92 22.07 102.66 22.76 103.35 23.49 104.00 24.30 104.69 25.32 105.34 26.42 105.95 27.59 106.52 28.80 107.05 30.06 107.56 31.36 108.04 32.67 108.50 34.00 108.98 35.50 109.42 37.04 109.82 38.61 110.19 40.21 110.53 41.86 110.84 43.54 111.13 45.25 111.40 47.00 111.68 49.07 111.92 51.18 112.11 53.32 112.28 55.52 112.42 57.78 112.55 60.10 112.68 62.51 112.80 65.00 112.95 68.37 113.07 71.92 113.17 75.61 113.25 79.40 113.32 83.28 113.38 87.19 113.44 91.11 113.50 95.00 113.57 99.15 113.63 103.35 113.68 107.59 113.72 111.87 113.77 116.16 113.81 120.45 113.85 124.74 113.90 129.00 113.99 124.75 114.08 120.51 114.16 116.27 114.25 112.03 114.34 107.79 114.43 103.53 114.51 99.27 114.60 95.00 114.68 90.58 114.76 86.06 114.84 81.48 114.92 76.92 115.00 72.43 115.09 68.08 115.19 63.91 115.30 60.00 115.39 57.19 115.48 54.47 115.58 51.84 115.68 49.29 115.79 46.83 115.91 44.46 116.05 42.18 116.20 40.00 116.33 38.44 116.47 36.97 116.62 35.56 116.77 34.20 116.93 32.86 117.09 31.52 117.25 30.18 117.40 28.80 117.94 29.70 118.50 30.58 119.06 31.47 119.62 32.36 120.16 33.25 120.70 34.15 121.21 35.07 121.70 36.00 122.16 36.96 122.58 37.92 122.98 38.90 123.36 39.88 123.75 40.88 124.14 41.90 124.55 42.94 125.00 44.00 125.56 45.28 126.16 46.59 126.77 47.92 127.40 49.28 128.04 50.67 128.69 52.09 129.34 53.53 130.00 55.00 130.77 56.75 131.55 58.54 132.34 60.37 133.14 62.23 133.95 64.13 134.77 66.06 135.58 68.02 136.40 70.00 137.31 72.25 138.22 74.54 139.14 76.87 140.06 79.23 140.99 81.63 141.94 84.06 142.91 86.52 143.90 89.00 145.04 91.83 146.22 94.75 147.42 97.71 148.64 100.71 149.88 103.71 151.12 106.69 152.36 109.63 153.60 112.50 154.77 115.19 155.97 117.91 157.18 120.63 158.39 123.32 159.59 125.93 160.76 128.44 161.90 130.81 163.00 133.00 163.75 134.46 164.47 135.83 165.18 137.13 165.87 138.38 166.56 139.59 167.26 140.77 167.97 141.93 168.70 143.10 169.39 144.17 170.08 145.23 170.78 146.27 171.49 147.28 172.20 148.28 172.92 149.25 173.66 150.19 174.40 151.10 175.08 151.91 175.77 152.70 176.47 153.47 177.17 154.22 177.89 154.95 178.61 155.63 179.35 156.29 180.10 156.90 180.79 157.44 181.50 157.99 182.22 158.52 182.94 159.02 183.67 159.46 184.41 159.83 185.15 160.12 185.90 160.30 186.60 160.36 187.31 160.34 188.03 160.24 188.75 160.08 189.48 159.88 190.19 159.63 190.90 159.37 191.60 159.10 192.33 158.79 193.06 158.43 193.78 158.04 194.50 157.62 195.21 157.17 195.91 156.69 196.61 156.20 197.30 155.70 198.03 155.15 198.74 154.59 199.45 154.01 200.14 153.40 200.84 152.76 201.55 152.08 202.27 151.37 203.00 150.60 204.02 149.47 205.08 148.23 206.16 146.89 207.26 145.49 208.34 144.07 209.41 142.66 210.43 141.29 211.40 140.00 212.18 138.95 212.92 137.93 213.63 136.93 214.33 135.94 215.02 134.96 215.70 133.98 216.39 132.99 217.10 132.00 217.82 131.00 218.55 130.00 219.27 129.00 220.00 128.00 220.73 127.00 221.45 126.00 222.18 125.00 222.90 124.00 223.62 123.00 224.33 122.00 225.04 121.00 225.76 120.00 226.47 119.00 227.18 118.00 227.89 117.00 228.60 116.00 229.31 115.00 230.02 114.00 230.73 113.00 231.44 112.00 232.16 111.00 232.87 110.00 233.58 109.00 234.30 108.00 235.02 107.01 235.75 106.03 236.47 105.06 237.20 104.08 237.93 103.10 238.66 102.09 239.38 101.06 240.10 100.00 240.90 98.77 241.70 97.49 242.50 96.19 243.29 94.86 244.08 93.52 244.86 92.17 245.64 90.83 246.40 89.50 247.13 88.19 247.84 86.85 248.54 85.51 249.23 84.17 249.92 82.84 250.63 81.55 251.35 80.29 252.10 79.10 252.80 78.09 253.52 77.13 254.25 76.20 254.99 75.30 255.74 74.41 256.48 73.52 257.20 72.62 257.90 71.70 258.58 70.79 259.27 69.88 259.95 68.98 260.62 68.07 261.27 67.16 261.89 66.22 262.47 65.27 263.00 64.30 263.47 63.32 263.89 62.34 264.26 61.35 264.61 60.34 264.94 59.30 265.26 58.24 265.58 57.14 265.90 56.00 266.30 54.53 266.68 52.99 267.04 51.38 267.40 49.74 267.74 48.07 268.09 46.40 268.44 44.73 268.80 43.10 272.90 154.40 273.04 151.97 273.17 149.52 273.31 147.07 273.45 144.62 273.58 142.19 273.72 139.76 273.86 137.37 274.00 135.00 274.13 132.79 274.24 130.57 274.36 128.36 274.47 126.17 274.60 124.01 274.74 121.91 274.91 119.86 275.10 117.90 275.28 116.38 275.48 114.95 275.69 113.58 275.92 112.24 276.15 110.89 276.39 109.49 276.64 108.00 276.90 106.40 277.24 103.87 277.57 101.05 277.90 98.03 278.25 94.94 278.65 91.87 279.11 88.96 279.65 86.29 280.30 84.00 280.78 82.72 281.29 81.55 281.83 80.47 282.40 79.47 283.00 78.50 283.61 77.57 284.25 76.64 284.90 75.70 285.54 74.78 286.19 73.87 286.85 72.98 287.53 72.11 288.24 71.26 288.99 70.44 289.77 69.65 290.60 68.90 291.54 68.15 292.55 67.45 293.60 66.80 294.69 66.17 295.80 65.56 296.92 64.95 298.02 64.34 299.10 63.70" stroke="#1a2d94" stroke-width="1.55"/>
</g>
<path d="M83.5 2.2 H299.5 V163.3 H83.5 Z" fill="none" stroke="#000" stroke-width="1.4"/>
<path d="M83.5 160.30 h3.5 M83.5 144.80 h2.2 M83.5 129.30 h3.5 M83.5 113.80 h2.2 M83.5 98.30 h3.5 M83.5 82.80 h2.2 M83.5 67.30 h3.5 M83.5 51.80 h2.2 M83.5 36.30 h3.5 M83.5 20.80 h2.2 M83.5 5.30 h3.5 M97.88 163.3 v-2.2 M126.62 163.3 v-3.3 M155.38 163.3 v-2.2 M184.12 163.3 v-3.3 M212.88 163.3 v-2.2 M241.62 163.3 v-3.3 M270.38 163.3 v-2.2" stroke="#000" stroke-width="1.2"/>
<g font-size="11.8" text-anchor="end">
<text x="80.2" y="164.40">0.0</text>
<text x="80.2" y="133.40">0.2</text>
<text x="80.2" y="102.40">0.4</text>
<text x="80.2" y="71.40">0.6</text>
<text x="80.2" y="40.40">0.8</text>
<text x="80.2" y="9.40">1.0</text>
</g><g font-size="11.8" text-anchor="middle">
<text x="126.62" y="176.4">600</text>
<text x="184.12" y="176.4">800</text>
<text x="241.62" y="176.4">1000</text>
<text x="299.12" y="176.4">1200</text>
</g>
<text x="192" y="200.5" font-size="16.5" text-anchor="middle">Wavelength (nm)</text>
<text transform="translate(51.8 87.5) rotate(-90)" font-size="16.5" text-anchor="middle">Transmission</text>
<text x="37.3" y="10.8" font-size="15.4">(a)</text>
<path d="M199.5 12.9 H217.5" stroke="#f00" stroke-width="1.4"/>
<path d="M199.5 28.5 H217.5" stroke="#000" stroke-width="1.4"/>
<path d="M199.5 44.1 H217.5" stroke="#1a2d94" stroke-width="1.4"/>
<g font-size="12.2"><text x="220.5" y="16.1">Strip 1 only</text><text x="220.5" y="31.7">Strip 2 only</text><text x="220.5" y="47.3">Coupled</text></g>
<g font-size="16.5"><text x="111.8" y="145">b</text><text x="182.2" y="156.9">c</text><text x="275.3" y="159">d</text></g></g>
<g class="E"><path d="M81.00 366.40 81.26 365.07 81.48 363.57 81.69 362.01 81.90 360.48 82.15 359.08 82.45 357.92 82.82 357.09 83.30 356.70 83.84 356.74 84.48 357.08 85.19 357.67 85.94 358.46 86.70 359.38 87.43 360.40 88.11 361.46 88.70 362.50 89.45 364.15 90.08 366.02 90.63 368.07 91.10 370.27 91.51 372.61 91.89 375.04 92.25 377.55 92.60 380.10 93.04 383.67 93.39 387.41 93.66 391.33 93.89 395.42 94.08 399.65 94.25 404.04 94.41 408.55 94.60 413.20 94.84 419.63 95.05 426.46 95.23 433.60 95.39 440.96 95.54 448.44 95.68 455.95 95.83 463.40 96.00 470.70 96.19 462.08 96.38 453.15 96.56 444.10 96.75 435.10 96.94 426.36 97.13 418.05 97.31 410.37 97.50 403.50 97.61 399.69 97.71 396.14 97.82 392.80 97.92 389.64 98.03 386.62 98.14 383.70 98.26 380.84 98.40 378.00 98.52 375.78 98.65 373.65 98.79 371.58 98.93 369.57 99.07 367.59 99.22 365.62 99.36 363.63 99.50 361.60 100.31 362.90 101.13 364.21 101.95 365.52 102.77 366.83 103.58 368.13 104.39 369.43 105.20 370.72 106.00 372.00 106.76 373.22 107.52 374.42 108.27 375.61 109.02 376.80 109.77 377.99 110.51 379.18 111.26 380.38 112.00 381.60 112.76 382.85 113.52 384.08 114.28 385.32 115.04 386.57 115.80 387.84 116.54 389.13 117.28 390.44 118.00 391.80 118.78 393.35 119.55 394.94 120.31 396.57 121.06 398.23 121.80 399.91 122.53 401.60 123.27 403.30 124.00 405.00 124.76 406.78 125.51 408.58 126.26 410.40 127.00 412.23 127.75 414.07 128.49 415.89 129.24 417.71 130.00 419.50 130.75 421.25 131.51 423.02 132.28 424.80 133.05 426.57 133.81 428.30 134.56 429.98 135.29 431.59 136.00 433.10 136.52 434.18 137.02 435.20 137.51 436.16 138.00 437.09 138.48 438.01 138.97 438.96 139.47 439.95 140.00 441.00 140.65 442.35 141.31 443.72 141.97 445.13 142.65 446.58 143.36 448.08 144.10 449.63 144.87 451.23 145.70 452.90 146.91 455.35 148.20 458.02 149.57 460.84 151.00 463.74 152.48 466.63 154.00 469.46 155.54 472.14 157.10 474.60 158.46 476.59 159.85 478.57 161.28 480.50 162.73 482.35 164.20 484.09 165.67 485.68 167.14 487.09 168.60 488.30 169.65 489.06 170.70 489.77 171.75 490.40 172.81 490.96 173.87 491.41 174.92 491.74 175.96 491.95 177.00 492.00 178.02 491.89 179.04 491.61 180.06 491.19 181.08 490.67 182.08 490.06 183.07 489.40 184.05 488.70 185.00 488.00 186.04 487.18 187.04 486.29 188.02 485.33 188.98 484.31 189.94 483.24 190.90 482.11 191.89 480.93 192.90 479.70 194.27 477.98 195.67 476.11 197.09 474.13 198.53 472.06 199.97 469.96 201.42 467.84 202.87 465.74 204.30 463.70 205.73 461.70 207.15 459.70 208.58 457.70 210.00 455.70 211.43 453.70 212.85 451.70 214.27 449.70 215.70 447.70 217.13 445.70 218.55 443.72 219.98 441.73 221.41 439.74 222.84 437.75 224.26 435.75 225.68 433.73 227.10 431.70 228.58 429.59 230.11 427.47 231.66 425.32 233.19 423.17 234.68 421.02 236.10 418.86 237.42 416.72 238.60 414.60 239.51 412.77 240.32 410.97 241.06 409.19 241.74 407.40 242.38 405.60 243.01 403.77 243.64 401.91 244.30 400.00 245.04 397.82 245.75 395.58 246.45 393.30 247.15 390.99 247.83 388.66 248.52 386.33 249.21 384.00 249.90 381.70 253.50 481.50 253.81 476.40 254.07 471.07 254.31 465.66 254.56 460.29 254.85 455.10 255.20 450.21 255.64 445.77 256.20 441.90 256.56 439.98 256.92 438.24 257.30 436.65 257.71 435.15 258.16 433.72 258.64 432.31 259.19 430.89 259.80 429.40 260.51 427.77 261.29 426.12 262.12 424.46 263.01 422.82 263.94 421.21 264.92 419.66 265.94 418.18 267.00 416.80 268.02 415.62 269.11 414.50 270.24 413.44 271.40 412.42 272.58 411.45 273.75 410.51 274.90 409.60 276.00 408.70 276.92 407.96 277.82 407.25 278.70 406.57 279.59 405.91 280.46 405.26 281.34 404.62 282.22 403.97 283.10 403.30" fill="none" stroke="#1a2d94" stroke-width="1.5" stroke-linejoin="round"/>
<path d="M80.6 344.1 H283.1 V495.2 H80.6 Z" fill="none" stroke="#000" stroke-width="1.3"/>
<path d="M80.6 492.30 h3.3 M80.6 477.75 h2.1 M80.6 463.20 h3.3 M80.6 448.65 h2.1 M80.6 434.10 h3.3 M80.6 419.55 h2.1 M80.6 405.00 h3.3 M80.6 390.45 h2.1 M80.6 375.90 h3.3 M80.6 361.35 h2.1 M80.6 346.80 h3.3 M109.53 495.2 v-3.1 M138.46 495.2 v-2.1 M167.39 495.2 v-3.1 M196.32 495.2 v-2.1 M225.24 495.2 v-3.1 M254.17 495.2 v-2.1" stroke="#000" stroke-width="1.1"/>
<g font-size="11.2" text-anchor="end">
<text x="77.4" y="496.20">0.0</text>
<text x="77.4" y="467.10">0.2</text>
<text x="77.4" y="438.00">0.4</text>
<text x="77.4" y="408.90">0.6</text>
<text x="77.4" y="379.80">0.8</text>
<text x="77.4" y="350.70">1.0</text>
</g><g font-size="10.6" text-anchor="middle">
<text x="109.53" y="507.5">600</text>
<text x="167.39" y="507.5">800</text>
<text x="225.24" y="507.5">1000</text>
<text x="283.10" y="507.5">1200</text>
</g>
<text x="181.9" y="530.6" font-size="15.4" text-anchor="middle">Wavelength (nm)</text>
<text transform="translate(50.6 424.7) rotate(-90)" font-size="15.4" text-anchor="middle">Transmission</text>
<text x="32" y="352.8" font-size="17">(e)</text>
<g font-size="16.3"><text x="95.5" y="486.3">f</text><text x="169.5" y="488.9">h</text><text x="256.2" y="490.7">k</text></g></g>
</svg>
</body></html>
